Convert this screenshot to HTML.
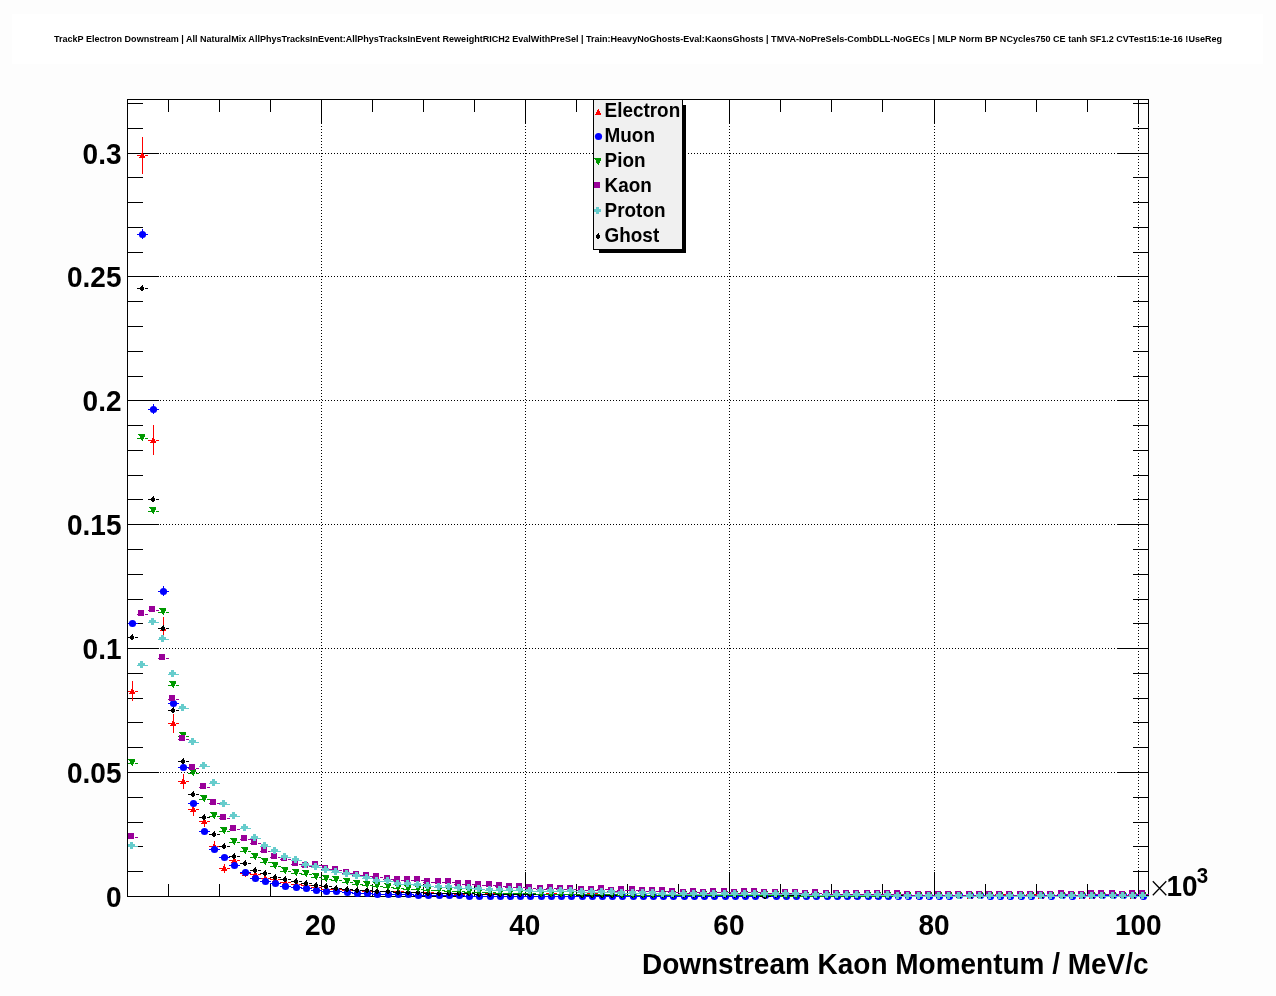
<!DOCTYPE html>
<html><head><meta charset="utf-8"><title>TrackP Electron Downstream</title>
<style>html,body{margin:0;padding:0;background:#fdfdfd;}svg{display:block;will-change:transform;}text{font-family:"Liberation Sans",sans-serif;}</style></head>
<body>
<svg width="1276" height="996" viewBox="0 0 1276 996" shape-rendering="crispEdges">
<rect x="0" y="0" width="1276" height="996" fill="#fdfdfd"/>
<rect x="12" y="14" width="1251" height="50" fill="#ffffff"/>
<rect x="127" y="99" width="1022" height="798" fill="#ffffff"/>
<path fill="#000" d="M321 126h1v1h-1zM321 129h1v1h-1zM321 132h1v1h-1zM321 135h1v1h-1zM321 138h1v1h-1zM321 141h1v1h-1zM321 144h1v1h-1zM321 147h1v1h-1zM321 150h1v1h-1zM321 153h1v1h-1zM321 156h1v1h-1zM321 159h1v1h-1zM321 162h1v1h-1zM321 165h1v1h-1zM321 168h1v1h-1zM321 171h1v1h-1zM321 174h1v1h-1zM321 177h1v1h-1zM321 180h1v1h-1zM321 183h1v1h-1zM321 186h1v1h-1zM321 189h1v1h-1zM321 192h1v1h-1zM321 195h1v1h-1zM321 198h1v1h-1zM321 201h1v1h-1zM321 204h1v1h-1zM321 207h1v1h-1zM321 210h1v1h-1zM321 213h1v1h-1zM321 216h1v1h-1zM321 219h1v1h-1zM321 222h1v1h-1zM321 225h1v1h-1zM321 228h1v1h-1zM321 231h1v1h-1zM321 234h1v1h-1zM321 237h1v1h-1zM321 240h1v1h-1zM321 243h1v1h-1zM321 246h1v1h-1zM321 249h1v1h-1zM321 252h1v1h-1zM321 255h1v1h-1zM321 258h1v1h-1zM321 261h1v1h-1zM321 264h1v1h-1zM321 267h1v1h-1zM321 270h1v1h-1zM321 273h1v1h-1zM321 276h1v1h-1zM321 279h1v1h-1zM321 282h1v1h-1zM321 285h1v1h-1zM321 288h1v1h-1zM321 291h1v1h-1zM321 294h1v1h-1zM321 297h1v1h-1zM321 300h1v1h-1zM321 303h1v1h-1zM321 306h1v1h-1zM321 309h1v1h-1zM321 312h1v1h-1zM321 315h1v1h-1zM321 318h1v1h-1zM321 321h1v1h-1zM321 324h1v1h-1zM321 327h1v1h-1zM321 330h1v1h-1zM321 333h1v1h-1zM321 336h1v1h-1zM321 339h1v1h-1zM321 342h1v1h-1zM321 345h1v1h-1zM321 348h1v1h-1zM321 351h1v1h-1zM321 354h1v1h-1zM321 357h1v1h-1zM321 360h1v1h-1zM321 363h1v1h-1zM321 366h1v1h-1zM321 369h1v1h-1zM321 372h1v1h-1zM321 375h1v1h-1zM321 378h1v1h-1zM321 381h1v1h-1zM321 384h1v1h-1zM321 387h1v1h-1zM321 390h1v1h-1zM321 393h1v1h-1zM321 396h1v1h-1zM321 399h1v1h-1zM321 402h1v1h-1zM321 405h1v1h-1zM321 408h1v1h-1zM321 411h1v1h-1zM321 414h1v1h-1zM321 417h1v1h-1zM321 420h1v1h-1zM321 423h1v1h-1zM321 426h1v1h-1zM321 429h1v1h-1zM321 432h1v1h-1zM321 435h1v1h-1zM321 438h1v1h-1zM321 441h1v1h-1zM321 444h1v1h-1zM321 447h1v1h-1zM321 450h1v1h-1zM321 453h1v1h-1zM321 456h1v1h-1zM321 459h1v1h-1zM321 462h1v1h-1zM321 465h1v1h-1zM321 468h1v1h-1zM321 471h1v1h-1zM321 474h1v1h-1zM321 477h1v1h-1zM321 480h1v1h-1zM321 483h1v1h-1zM321 486h1v1h-1zM321 489h1v1h-1zM321 492h1v1h-1zM321 495h1v1h-1zM321 498h1v1h-1zM321 501h1v1h-1zM321 504h1v1h-1zM321 507h1v1h-1zM321 510h1v1h-1zM321 513h1v1h-1zM321 516h1v1h-1zM321 519h1v1h-1zM321 522h1v1h-1zM321 525h1v1h-1zM321 528h1v1h-1zM321 531h1v1h-1zM321 534h1v1h-1zM321 537h1v1h-1zM321 540h1v1h-1zM321 543h1v1h-1zM321 546h1v1h-1zM321 549h1v1h-1zM321 552h1v1h-1zM321 555h1v1h-1zM321 558h1v1h-1zM321 561h1v1h-1zM321 564h1v1h-1zM321 567h1v1h-1zM321 570h1v1h-1zM321 573h1v1h-1zM321 576h1v1h-1zM321 579h1v1h-1zM321 582h1v1h-1zM321 585h1v1h-1zM321 588h1v1h-1zM321 591h1v1h-1zM321 594h1v1h-1zM321 597h1v1h-1zM321 600h1v1h-1zM321 603h1v1h-1zM321 606h1v1h-1zM321 609h1v1h-1zM321 612h1v1h-1zM321 615h1v1h-1zM321 618h1v1h-1zM321 621h1v1h-1zM321 624h1v1h-1zM321 627h1v1h-1zM321 630h1v1h-1zM321 633h1v1h-1zM321 636h1v1h-1zM321 639h1v1h-1zM321 642h1v1h-1zM321 645h1v1h-1zM321 648h1v1h-1zM321 651h1v1h-1zM321 654h1v1h-1zM321 657h1v1h-1zM321 660h1v1h-1zM321 663h1v1h-1zM321 666h1v1h-1zM321 669h1v1h-1zM321 672h1v1h-1zM321 675h1v1h-1zM321 678h1v1h-1zM321 681h1v1h-1zM321 684h1v1h-1zM321 687h1v1h-1zM321 690h1v1h-1zM321 693h1v1h-1zM321 696h1v1h-1zM321 699h1v1h-1zM321 702h1v1h-1zM321 705h1v1h-1zM321 708h1v1h-1zM321 711h1v1h-1zM321 714h1v1h-1zM321 717h1v1h-1zM321 720h1v1h-1zM321 723h1v1h-1zM321 726h1v1h-1zM321 729h1v1h-1zM321 732h1v1h-1zM321 735h1v1h-1zM321 738h1v1h-1zM321 741h1v1h-1zM321 744h1v1h-1zM321 747h1v1h-1zM321 750h1v1h-1zM321 753h1v1h-1zM321 756h1v1h-1zM321 759h1v1h-1zM321 762h1v1h-1zM321 765h1v1h-1zM321 768h1v1h-1zM321 771h1v1h-1zM321 774h1v1h-1zM321 777h1v1h-1zM321 780h1v1h-1zM321 783h1v1h-1zM321 786h1v1h-1zM321 789h1v1h-1zM321 792h1v1h-1zM321 795h1v1h-1zM321 798h1v1h-1zM321 801h1v1h-1zM321 804h1v1h-1zM321 807h1v1h-1zM321 810h1v1h-1zM321 813h1v1h-1zM321 816h1v1h-1zM321 819h1v1h-1zM321 822h1v1h-1zM321 825h1v1h-1zM321 828h1v1h-1zM321 831h1v1h-1zM321 834h1v1h-1zM321 837h1v1h-1zM321 840h1v1h-1zM321 843h1v1h-1zM321 846h1v1h-1zM321 849h1v1h-1zM321 852h1v1h-1zM321 855h1v1h-1zM321 858h1v1h-1zM321 861h1v1h-1zM321 864h1v1h-1zM321 867h1v1h-1zM321 870h1v1h-1zM525 126h1v1h-1zM525 129h1v1h-1zM525 132h1v1h-1zM525 135h1v1h-1zM525 138h1v1h-1zM525 141h1v1h-1zM525 144h1v1h-1zM525 147h1v1h-1zM525 150h1v1h-1zM525 153h1v1h-1zM525 156h1v1h-1zM525 159h1v1h-1zM525 162h1v1h-1zM525 165h1v1h-1zM525 168h1v1h-1zM525 171h1v1h-1zM525 174h1v1h-1zM525 177h1v1h-1zM525 180h1v1h-1zM525 183h1v1h-1zM525 186h1v1h-1zM525 189h1v1h-1zM525 192h1v1h-1zM525 195h1v1h-1zM525 198h1v1h-1zM525 201h1v1h-1zM525 204h1v1h-1zM525 207h1v1h-1zM525 210h1v1h-1zM525 213h1v1h-1zM525 216h1v1h-1zM525 219h1v1h-1zM525 222h1v1h-1zM525 225h1v1h-1zM525 228h1v1h-1zM525 231h1v1h-1zM525 234h1v1h-1zM525 237h1v1h-1zM525 240h1v1h-1zM525 243h1v1h-1zM525 246h1v1h-1zM525 249h1v1h-1zM525 252h1v1h-1zM525 255h1v1h-1zM525 258h1v1h-1zM525 261h1v1h-1zM525 264h1v1h-1zM525 267h1v1h-1zM525 270h1v1h-1zM525 273h1v1h-1zM525 276h1v1h-1zM525 279h1v1h-1zM525 282h1v1h-1zM525 285h1v1h-1zM525 288h1v1h-1zM525 291h1v1h-1zM525 294h1v1h-1zM525 297h1v1h-1zM525 300h1v1h-1zM525 303h1v1h-1zM525 306h1v1h-1zM525 309h1v1h-1zM525 312h1v1h-1zM525 315h1v1h-1zM525 318h1v1h-1zM525 321h1v1h-1zM525 324h1v1h-1zM525 327h1v1h-1zM525 330h1v1h-1zM525 333h1v1h-1zM525 336h1v1h-1zM525 339h1v1h-1zM525 342h1v1h-1zM525 345h1v1h-1zM525 348h1v1h-1zM525 351h1v1h-1zM525 354h1v1h-1zM525 357h1v1h-1zM525 360h1v1h-1zM525 363h1v1h-1zM525 366h1v1h-1zM525 369h1v1h-1zM525 372h1v1h-1zM525 375h1v1h-1zM525 378h1v1h-1zM525 381h1v1h-1zM525 384h1v1h-1zM525 387h1v1h-1zM525 390h1v1h-1zM525 393h1v1h-1zM525 396h1v1h-1zM525 399h1v1h-1zM525 402h1v1h-1zM525 405h1v1h-1zM525 408h1v1h-1zM525 411h1v1h-1zM525 414h1v1h-1zM525 417h1v1h-1zM525 420h1v1h-1zM525 423h1v1h-1zM525 426h1v1h-1zM525 429h1v1h-1zM525 432h1v1h-1zM525 435h1v1h-1zM525 438h1v1h-1zM525 441h1v1h-1zM525 444h1v1h-1zM525 447h1v1h-1zM525 450h1v1h-1zM525 453h1v1h-1zM525 456h1v1h-1zM525 459h1v1h-1zM525 462h1v1h-1zM525 465h1v1h-1zM525 468h1v1h-1zM525 471h1v1h-1zM525 474h1v1h-1zM525 477h1v1h-1zM525 480h1v1h-1zM525 483h1v1h-1zM525 486h1v1h-1zM525 489h1v1h-1zM525 492h1v1h-1zM525 495h1v1h-1zM525 498h1v1h-1zM525 501h1v1h-1zM525 504h1v1h-1zM525 507h1v1h-1zM525 510h1v1h-1zM525 513h1v1h-1zM525 516h1v1h-1zM525 519h1v1h-1zM525 522h1v1h-1zM525 525h1v1h-1zM525 528h1v1h-1zM525 531h1v1h-1zM525 534h1v1h-1zM525 537h1v1h-1zM525 540h1v1h-1zM525 543h1v1h-1zM525 546h1v1h-1zM525 549h1v1h-1zM525 552h1v1h-1zM525 555h1v1h-1zM525 558h1v1h-1zM525 561h1v1h-1zM525 564h1v1h-1zM525 567h1v1h-1zM525 570h1v1h-1zM525 573h1v1h-1zM525 576h1v1h-1zM525 579h1v1h-1zM525 582h1v1h-1zM525 585h1v1h-1zM525 588h1v1h-1zM525 591h1v1h-1zM525 594h1v1h-1zM525 597h1v1h-1zM525 600h1v1h-1zM525 603h1v1h-1zM525 606h1v1h-1zM525 609h1v1h-1zM525 612h1v1h-1zM525 615h1v1h-1zM525 618h1v1h-1zM525 621h1v1h-1zM525 624h1v1h-1zM525 627h1v1h-1zM525 630h1v1h-1zM525 633h1v1h-1zM525 636h1v1h-1zM525 639h1v1h-1zM525 642h1v1h-1zM525 645h1v1h-1zM525 648h1v1h-1zM525 651h1v1h-1zM525 654h1v1h-1zM525 657h1v1h-1zM525 660h1v1h-1zM525 663h1v1h-1zM525 666h1v1h-1zM525 669h1v1h-1zM525 672h1v1h-1zM525 675h1v1h-1zM525 678h1v1h-1zM525 681h1v1h-1zM525 684h1v1h-1zM525 687h1v1h-1zM525 690h1v1h-1zM525 693h1v1h-1zM525 696h1v1h-1zM525 699h1v1h-1zM525 702h1v1h-1zM525 705h1v1h-1zM525 708h1v1h-1zM525 711h1v1h-1zM525 714h1v1h-1zM525 717h1v1h-1zM525 720h1v1h-1zM525 723h1v1h-1zM525 726h1v1h-1zM525 729h1v1h-1zM525 732h1v1h-1zM525 735h1v1h-1zM525 738h1v1h-1zM525 741h1v1h-1zM525 744h1v1h-1zM525 747h1v1h-1zM525 750h1v1h-1zM525 753h1v1h-1zM525 756h1v1h-1zM525 759h1v1h-1zM525 762h1v1h-1zM525 765h1v1h-1zM525 768h1v1h-1zM525 771h1v1h-1zM525 774h1v1h-1zM525 777h1v1h-1zM525 780h1v1h-1zM525 783h1v1h-1zM525 786h1v1h-1zM525 789h1v1h-1zM525 792h1v1h-1zM525 795h1v1h-1zM525 798h1v1h-1zM525 801h1v1h-1zM525 804h1v1h-1zM525 807h1v1h-1zM525 810h1v1h-1zM525 813h1v1h-1zM525 816h1v1h-1zM525 819h1v1h-1zM525 822h1v1h-1zM525 825h1v1h-1zM525 828h1v1h-1zM525 831h1v1h-1zM525 834h1v1h-1zM525 837h1v1h-1zM525 840h1v1h-1zM525 843h1v1h-1zM525 846h1v1h-1zM525 849h1v1h-1zM525 852h1v1h-1zM525 855h1v1h-1zM525 858h1v1h-1zM525 861h1v1h-1zM525 864h1v1h-1zM525 867h1v1h-1zM525 870h1v1h-1zM729 126h1v1h-1zM729 129h1v1h-1zM729 132h1v1h-1zM729 135h1v1h-1zM729 138h1v1h-1zM729 141h1v1h-1zM729 144h1v1h-1zM729 147h1v1h-1zM729 150h1v1h-1zM729 153h1v1h-1zM729 156h1v1h-1zM729 159h1v1h-1zM729 162h1v1h-1zM729 165h1v1h-1zM729 168h1v1h-1zM729 171h1v1h-1zM729 174h1v1h-1zM729 177h1v1h-1zM729 180h1v1h-1zM729 183h1v1h-1zM729 186h1v1h-1zM729 189h1v1h-1zM729 192h1v1h-1zM729 195h1v1h-1zM729 198h1v1h-1zM729 201h1v1h-1zM729 204h1v1h-1zM729 207h1v1h-1zM729 210h1v1h-1zM729 213h1v1h-1zM729 216h1v1h-1zM729 219h1v1h-1zM729 222h1v1h-1zM729 225h1v1h-1zM729 228h1v1h-1zM729 231h1v1h-1zM729 234h1v1h-1zM729 237h1v1h-1zM729 240h1v1h-1zM729 243h1v1h-1zM729 246h1v1h-1zM729 249h1v1h-1zM729 252h1v1h-1zM729 255h1v1h-1zM729 258h1v1h-1zM729 261h1v1h-1zM729 264h1v1h-1zM729 267h1v1h-1zM729 270h1v1h-1zM729 273h1v1h-1zM729 276h1v1h-1zM729 279h1v1h-1zM729 282h1v1h-1zM729 285h1v1h-1zM729 288h1v1h-1zM729 291h1v1h-1zM729 294h1v1h-1zM729 297h1v1h-1zM729 300h1v1h-1zM729 303h1v1h-1zM729 306h1v1h-1zM729 309h1v1h-1zM729 312h1v1h-1zM729 315h1v1h-1zM729 318h1v1h-1zM729 321h1v1h-1zM729 324h1v1h-1zM729 327h1v1h-1zM729 330h1v1h-1zM729 333h1v1h-1zM729 336h1v1h-1zM729 339h1v1h-1zM729 342h1v1h-1zM729 345h1v1h-1zM729 348h1v1h-1zM729 351h1v1h-1zM729 354h1v1h-1zM729 357h1v1h-1zM729 360h1v1h-1zM729 363h1v1h-1zM729 366h1v1h-1zM729 369h1v1h-1zM729 372h1v1h-1zM729 375h1v1h-1zM729 378h1v1h-1zM729 381h1v1h-1zM729 384h1v1h-1zM729 387h1v1h-1zM729 390h1v1h-1zM729 393h1v1h-1zM729 396h1v1h-1zM729 399h1v1h-1zM729 402h1v1h-1zM729 405h1v1h-1zM729 408h1v1h-1zM729 411h1v1h-1zM729 414h1v1h-1zM729 417h1v1h-1zM729 420h1v1h-1zM729 423h1v1h-1zM729 426h1v1h-1zM729 429h1v1h-1zM729 432h1v1h-1zM729 435h1v1h-1zM729 438h1v1h-1zM729 441h1v1h-1zM729 444h1v1h-1zM729 447h1v1h-1zM729 450h1v1h-1zM729 453h1v1h-1zM729 456h1v1h-1zM729 459h1v1h-1zM729 462h1v1h-1zM729 465h1v1h-1zM729 468h1v1h-1zM729 471h1v1h-1zM729 474h1v1h-1zM729 477h1v1h-1zM729 480h1v1h-1zM729 483h1v1h-1zM729 486h1v1h-1zM729 489h1v1h-1zM729 492h1v1h-1zM729 495h1v1h-1zM729 498h1v1h-1zM729 501h1v1h-1zM729 504h1v1h-1zM729 507h1v1h-1zM729 510h1v1h-1zM729 513h1v1h-1zM729 516h1v1h-1zM729 519h1v1h-1zM729 522h1v1h-1zM729 525h1v1h-1zM729 528h1v1h-1zM729 531h1v1h-1zM729 534h1v1h-1zM729 537h1v1h-1zM729 540h1v1h-1zM729 543h1v1h-1zM729 546h1v1h-1zM729 549h1v1h-1zM729 552h1v1h-1zM729 555h1v1h-1zM729 558h1v1h-1zM729 561h1v1h-1zM729 564h1v1h-1zM729 567h1v1h-1zM729 570h1v1h-1zM729 573h1v1h-1zM729 576h1v1h-1zM729 579h1v1h-1zM729 582h1v1h-1zM729 585h1v1h-1zM729 588h1v1h-1zM729 591h1v1h-1zM729 594h1v1h-1zM729 597h1v1h-1zM729 600h1v1h-1zM729 603h1v1h-1zM729 606h1v1h-1zM729 609h1v1h-1zM729 612h1v1h-1zM729 615h1v1h-1zM729 618h1v1h-1zM729 621h1v1h-1zM729 624h1v1h-1zM729 627h1v1h-1zM729 630h1v1h-1zM729 633h1v1h-1zM729 636h1v1h-1zM729 639h1v1h-1zM729 642h1v1h-1zM729 645h1v1h-1zM729 648h1v1h-1zM729 651h1v1h-1zM729 654h1v1h-1zM729 657h1v1h-1zM729 660h1v1h-1zM729 663h1v1h-1zM729 666h1v1h-1zM729 669h1v1h-1zM729 672h1v1h-1zM729 675h1v1h-1zM729 678h1v1h-1zM729 681h1v1h-1zM729 684h1v1h-1zM729 687h1v1h-1zM729 690h1v1h-1zM729 693h1v1h-1zM729 696h1v1h-1zM729 699h1v1h-1zM729 702h1v1h-1zM729 705h1v1h-1zM729 708h1v1h-1zM729 711h1v1h-1zM729 714h1v1h-1zM729 717h1v1h-1zM729 720h1v1h-1zM729 723h1v1h-1zM729 726h1v1h-1zM729 729h1v1h-1zM729 732h1v1h-1zM729 735h1v1h-1zM729 738h1v1h-1zM729 741h1v1h-1zM729 744h1v1h-1zM729 747h1v1h-1zM729 750h1v1h-1zM729 753h1v1h-1zM729 756h1v1h-1zM729 759h1v1h-1zM729 762h1v1h-1zM729 765h1v1h-1zM729 768h1v1h-1zM729 771h1v1h-1zM729 774h1v1h-1zM729 777h1v1h-1zM729 780h1v1h-1zM729 783h1v1h-1zM729 786h1v1h-1zM729 789h1v1h-1zM729 792h1v1h-1zM729 795h1v1h-1zM729 798h1v1h-1zM729 801h1v1h-1zM729 804h1v1h-1zM729 807h1v1h-1zM729 810h1v1h-1zM729 813h1v1h-1zM729 816h1v1h-1zM729 819h1v1h-1zM729 822h1v1h-1zM729 825h1v1h-1zM729 828h1v1h-1zM729 831h1v1h-1zM729 834h1v1h-1zM729 837h1v1h-1zM729 840h1v1h-1zM729 843h1v1h-1zM729 846h1v1h-1zM729 849h1v1h-1zM729 852h1v1h-1zM729 855h1v1h-1zM729 858h1v1h-1zM729 861h1v1h-1zM729 864h1v1h-1zM729 867h1v1h-1zM729 870h1v1h-1zM934 126h1v1h-1zM934 129h1v1h-1zM934 132h1v1h-1zM934 135h1v1h-1zM934 138h1v1h-1zM934 141h1v1h-1zM934 144h1v1h-1zM934 147h1v1h-1zM934 150h1v1h-1zM934 153h1v1h-1zM934 156h1v1h-1zM934 159h1v1h-1zM934 162h1v1h-1zM934 165h1v1h-1zM934 168h1v1h-1zM934 171h1v1h-1zM934 174h1v1h-1zM934 177h1v1h-1zM934 180h1v1h-1zM934 183h1v1h-1zM934 186h1v1h-1zM934 189h1v1h-1zM934 192h1v1h-1zM934 195h1v1h-1zM934 198h1v1h-1zM934 201h1v1h-1zM934 204h1v1h-1zM934 207h1v1h-1zM934 210h1v1h-1zM934 213h1v1h-1zM934 216h1v1h-1zM934 219h1v1h-1zM934 222h1v1h-1zM934 225h1v1h-1zM934 228h1v1h-1zM934 231h1v1h-1zM934 234h1v1h-1zM934 237h1v1h-1zM934 240h1v1h-1zM934 243h1v1h-1zM934 246h1v1h-1zM934 249h1v1h-1zM934 252h1v1h-1zM934 255h1v1h-1zM934 258h1v1h-1zM934 261h1v1h-1zM934 264h1v1h-1zM934 267h1v1h-1zM934 270h1v1h-1zM934 273h1v1h-1zM934 276h1v1h-1zM934 279h1v1h-1zM934 282h1v1h-1zM934 285h1v1h-1zM934 288h1v1h-1zM934 291h1v1h-1zM934 294h1v1h-1zM934 297h1v1h-1zM934 300h1v1h-1zM934 303h1v1h-1zM934 306h1v1h-1zM934 309h1v1h-1zM934 312h1v1h-1zM934 315h1v1h-1zM934 318h1v1h-1zM934 321h1v1h-1zM934 324h1v1h-1zM934 327h1v1h-1zM934 330h1v1h-1zM934 333h1v1h-1zM934 336h1v1h-1zM934 339h1v1h-1zM934 342h1v1h-1zM934 345h1v1h-1zM934 348h1v1h-1zM934 351h1v1h-1zM934 354h1v1h-1zM934 357h1v1h-1zM934 360h1v1h-1zM934 363h1v1h-1zM934 366h1v1h-1zM934 369h1v1h-1zM934 372h1v1h-1zM934 375h1v1h-1zM934 378h1v1h-1zM934 381h1v1h-1zM934 384h1v1h-1zM934 387h1v1h-1zM934 390h1v1h-1zM934 393h1v1h-1zM934 396h1v1h-1zM934 399h1v1h-1zM934 402h1v1h-1zM934 405h1v1h-1zM934 408h1v1h-1zM934 411h1v1h-1zM934 414h1v1h-1zM934 417h1v1h-1zM934 420h1v1h-1zM934 423h1v1h-1zM934 426h1v1h-1zM934 429h1v1h-1zM934 432h1v1h-1zM934 435h1v1h-1zM934 438h1v1h-1zM934 441h1v1h-1zM934 444h1v1h-1zM934 447h1v1h-1zM934 450h1v1h-1zM934 453h1v1h-1zM934 456h1v1h-1zM934 459h1v1h-1zM934 462h1v1h-1zM934 465h1v1h-1zM934 468h1v1h-1zM934 471h1v1h-1zM934 474h1v1h-1zM934 477h1v1h-1zM934 480h1v1h-1zM934 483h1v1h-1zM934 486h1v1h-1zM934 489h1v1h-1zM934 492h1v1h-1zM934 495h1v1h-1zM934 498h1v1h-1zM934 501h1v1h-1zM934 504h1v1h-1zM934 507h1v1h-1zM934 510h1v1h-1zM934 513h1v1h-1zM934 516h1v1h-1zM934 519h1v1h-1zM934 522h1v1h-1zM934 525h1v1h-1zM934 528h1v1h-1zM934 531h1v1h-1zM934 534h1v1h-1zM934 537h1v1h-1zM934 540h1v1h-1zM934 543h1v1h-1zM934 546h1v1h-1zM934 549h1v1h-1zM934 552h1v1h-1zM934 555h1v1h-1zM934 558h1v1h-1zM934 561h1v1h-1zM934 564h1v1h-1zM934 567h1v1h-1zM934 570h1v1h-1zM934 573h1v1h-1zM934 576h1v1h-1zM934 579h1v1h-1zM934 582h1v1h-1zM934 585h1v1h-1zM934 588h1v1h-1zM934 591h1v1h-1zM934 594h1v1h-1zM934 597h1v1h-1zM934 600h1v1h-1zM934 603h1v1h-1zM934 606h1v1h-1zM934 609h1v1h-1zM934 612h1v1h-1zM934 615h1v1h-1zM934 618h1v1h-1zM934 621h1v1h-1zM934 624h1v1h-1zM934 627h1v1h-1zM934 630h1v1h-1zM934 633h1v1h-1zM934 636h1v1h-1zM934 639h1v1h-1zM934 642h1v1h-1zM934 645h1v1h-1zM934 648h1v1h-1zM934 651h1v1h-1zM934 654h1v1h-1zM934 657h1v1h-1zM934 660h1v1h-1zM934 663h1v1h-1zM934 666h1v1h-1zM934 669h1v1h-1zM934 672h1v1h-1zM934 675h1v1h-1zM934 678h1v1h-1zM934 681h1v1h-1zM934 684h1v1h-1zM934 687h1v1h-1zM934 690h1v1h-1zM934 693h1v1h-1zM934 696h1v1h-1zM934 699h1v1h-1zM934 702h1v1h-1zM934 705h1v1h-1zM934 708h1v1h-1zM934 711h1v1h-1zM934 714h1v1h-1zM934 717h1v1h-1zM934 720h1v1h-1zM934 723h1v1h-1zM934 726h1v1h-1zM934 729h1v1h-1zM934 732h1v1h-1zM934 735h1v1h-1zM934 738h1v1h-1zM934 741h1v1h-1zM934 744h1v1h-1zM934 747h1v1h-1zM934 750h1v1h-1zM934 753h1v1h-1zM934 756h1v1h-1zM934 759h1v1h-1zM934 762h1v1h-1zM934 765h1v1h-1zM934 768h1v1h-1zM934 771h1v1h-1zM934 774h1v1h-1zM934 777h1v1h-1zM934 780h1v1h-1zM934 783h1v1h-1zM934 786h1v1h-1zM934 789h1v1h-1zM934 792h1v1h-1zM934 795h1v1h-1zM934 798h1v1h-1zM934 801h1v1h-1zM934 804h1v1h-1zM934 807h1v1h-1zM934 810h1v1h-1zM934 813h1v1h-1zM934 816h1v1h-1zM934 819h1v1h-1zM934 822h1v1h-1zM934 825h1v1h-1zM934 828h1v1h-1zM934 831h1v1h-1zM934 834h1v1h-1zM934 837h1v1h-1zM934 840h1v1h-1zM934 843h1v1h-1zM934 846h1v1h-1zM934 849h1v1h-1zM934 852h1v1h-1zM934 855h1v1h-1zM934 858h1v1h-1zM934 861h1v1h-1zM934 864h1v1h-1zM934 867h1v1h-1zM934 870h1v1h-1zM1138 126h1v1h-1zM1138 129h1v1h-1zM1138 132h1v1h-1zM1138 135h1v1h-1zM1138 138h1v1h-1zM1138 141h1v1h-1zM1138 144h1v1h-1zM1138 147h1v1h-1zM1138 150h1v1h-1zM1138 153h1v1h-1zM1138 156h1v1h-1zM1138 159h1v1h-1zM1138 162h1v1h-1zM1138 165h1v1h-1zM1138 168h1v1h-1zM1138 171h1v1h-1zM1138 174h1v1h-1zM1138 177h1v1h-1zM1138 180h1v1h-1zM1138 183h1v1h-1zM1138 186h1v1h-1zM1138 189h1v1h-1zM1138 192h1v1h-1zM1138 195h1v1h-1zM1138 198h1v1h-1zM1138 201h1v1h-1zM1138 204h1v1h-1zM1138 207h1v1h-1zM1138 210h1v1h-1zM1138 213h1v1h-1zM1138 216h1v1h-1zM1138 219h1v1h-1zM1138 222h1v1h-1zM1138 225h1v1h-1zM1138 228h1v1h-1zM1138 231h1v1h-1zM1138 234h1v1h-1zM1138 237h1v1h-1zM1138 240h1v1h-1zM1138 243h1v1h-1zM1138 246h1v1h-1zM1138 249h1v1h-1zM1138 252h1v1h-1zM1138 255h1v1h-1zM1138 258h1v1h-1zM1138 261h1v1h-1zM1138 264h1v1h-1zM1138 267h1v1h-1zM1138 270h1v1h-1zM1138 273h1v1h-1zM1138 276h1v1h-1zM1138 279h1v1h-1zM1138 282h1v1h-1zM1138 285h1v1h-1zM1138 288h1v1h-1zM1138 291h1v1h-1zM1138 294h1v1h-1zM1138 297h1v1h-1zM1138 300h1v1h-1zM1138 303h1v1h-1zM1138 306h1v1h-1zM1138 309h1v1h-1zM1138 312h1v1h-1zM1138 315h1v1h-1zM1138 318h1v1h-1zM1138 321h1v1h-1zM1138 324h1v1h-1zM1138 327h1v1h-1zM1138 330h1v1h-1zM1138 333h1v1h-1zM1138 336h1v1h-1zM1138 339h1v1h-1zM1138 342h1v1h-1zM1138 345h1v1h-1zM1138 348h1v1h-1zM1138 351h1v1h-1zM1138 354h1v1h-1zM1138 357h1v1h-1zM1138 360h1v1h-1zM1138 363h1v1h-1zM1138 366h1v1h-1zM1138 369h1v1h-1zM1138 372h1v1h-1zM1138 375h1v1h-1zM1138 378h1v1h-1zM1138 381h1v1h-1zM1138 384h1v1h-1zM1138 387h1v1h-1zM1138 390h1v1h-1zM1138 393h1v1h-1zM1138 396h1v1h-1zM1138 399h1v1h-1zM1138 402h1v1h-1zM1138 405h1v1h-1zM1138 408h1v1h-1zM1138 411h1v1h-1zM1138 414h1v1h-1zM1138 417h1v1h-1zM1138 420h1v1h-1zM1138 423h1v1h-1zM1138 426h1v1h-1zM1138 429h1v1h-1zM1138 432h1v1h-1zM1138 435h1v1h-1zM1138 438h1v1h-1zM1138 441h1v1h-1zM1138 444h1v1h-1zM1138 447h1v1h-1zM1138 450h1v1h-1zM1138 453h1v1h-1zM1138 456h1v1h-1zM1138 459h1v1h-1zM1138 462h1v1h-1zM1138 465h1v1h-1zM1138 468h1v1h-1zM1138 471h1v1h-1zM1138 474h1v1h-1zM1138 477h1v1h-1zM1138 480h1v1h-1zM1138 483h1v1h-1zM1138 486h1v1h-1zM1138 489h1v1h-1zM1138 492h1v1h-1zM1138 495h1v1h-1zM1138 498h1v1h-1zM1138 501h1v1h-1zM1138 504h1v1h-1zM1138 507h1v1h-1zM1138 510h1v1h-1zM1138 513h1v1h-1zM1138 516h1v1h-1zM1138 519h1v1h-1zM1138 522h1v1h-1zM1138 525h1v1h-1zM1138 528h1v1h-1zM1138 531h1v1h-1zM1138 534h1v1h-1zM1138 537h1v1h-1zM1138 540h1v1h-1zM1138 543h1v1h-1zM1138 546h1v1h-1zM1138 549h1v1h-1zM1138 552h1v1h-1zM1138 555h1v1h-1zM1138 558h1v1h-1zM1138 561h1v1h-1zM1138 564h1v1h-1zM1138 567h1v1h-1zM1138 570h1v1h-1zM1138 573h1v1h-1zM1138 576h1v1h-1zM1138 579h1v1h-1zM1138 582h1v1h-1zM1138 585h1v1h-1zM1138 588h1v1h-1zM1138 591h1v1h-1zM1138 594h1v1h-1zM1138 597h1v1h-1zM1138 600h1v1h-1zM1138 603h1v1h-1zM1138 606h1v1h-1zM1138 609h1v1h-1zM1138 612h1v1h-1zM1138 615h1v1h-1zM1138 618h1v1h-1zM1138 621h1v1h-1zM1138 624h1v1h-1zM1138 627h1v1h-1zM1138 630h1v1h-1zM1138 633h1v1h-1zM1138 636h1v1h-1zM1138 639h1v1h-1zM1138 642h1v1h-1zM1138 645h1v1h-1zM1138 648h1v1h-1zM1138 651h1v1h-1zM1138 654h1v1h-1zM1138 657h1v1h-1zM1138 660h1v1h-1zM1138 663h1v1h-1zM1138 666h1v1h-1zM1138 669h1v1h-1zM1138 672h1v1h-1zM1138 675h1v1h-1zM1138 678h1v1h-1zM1138 681h1v1h-1zM1138 684h1v1h-1zM1138 687h1v1h-1zM1138 690h1v1h-1zM1138 693h1v1h-1zM1138 696h1v1h-1zM1138 699h1v1h-1zM1138 702h1v1h-1zM1138 705h1v1h-1zM1138 708h1v1h-1zM1138 711h1v1h-1zM1138 714h1v1h-1zM1138 717h1v1h-1zM1138 720h1v1h-1zM1138 723h1v1h-1zM1138 726h1v1h-1zM1138 729h1v1h-1zM1138 732h1v1h-1zM1138 735h1v1h-1zM1138 738h1v1h-1zM1138 741h1v1h-1zM1138 744h1v1h-1zM1138 747h1v1h-1zM1138 750h1v1h-1zM1138 753h1v1h-1zM1138 756h1v1h-1zM1138 759h1v1h-1zM1138 762h1v1h-1zM1138 765h1v1h-1zM1138 768h1v1h-1zM1138 771h1v1h-1zM1138 774h1v1h-1zM1138 777h1v1h-1zM1138 780h1v1h-1zM1138 783h1v1h-1zM1138 786h1v1h-1zM1138 789h1v1h-1zM1138 792h1v1h-1zM1138 795h1v1h-1zM1138 798h1v1h-1zM1138 801h1v1h-1zM1138 804h1v1h-1zM1138 807h1v1h-1zM1138 810h1v1h-1zM1138 813h1v1h-1zM1138 816h1v1h-1zM1138 819h1v1h-1zM1138 822h1v1h-1zM1138 825h1v1h-1zM1138 828h1v1h-1zM1138 831h1v1h-1zM1138 834h1v1h-1zM1138 837h1v1h-1zM1138 840h1v1h-1zM1138 843h1v1h-1zM1138 846h1v1h-1zM1138 849h1v1h-1zM1138 852h1v1h-1zM1138 855h1v1h-1zM1138 858h1v1h-1zM1138 861h1v1h-1zM1138 864h1v1h-1zM1138 867h1v1h-1zM1138 870h1v1h-1zM160 772h1v1h-1zM163 772h1v1h-1zM166 772h1v1h-1zM169 772h1v1h-1zM172 772h1v1h-1zM175 772h1v1h-1zM178 772h1v1h-1zM181 772h1v1h-1zM184 772h1v1h-1zM187 772h1v1h-1zM190 772h1v1h-1zM193 772h1v1h-1zM196 772h1v1h-1zM199 772h1v1h-1zM202 772h1v1h-1zM205 772h1v1h-1zM208 772h1v1h-1zM211 772h1v1h-1zM214 772h1v1h-1zM217 772h1v1h-1zM220 772h1v1h-1zM223 772h1v1h-1zM226 772h1v1h-1zM229 772h1v1h-1zM232 772h1v1h-1zM235 772h1v1h-1zM238 772h1v1h-1zM241 772h1v1h-1zM244 772h1v1h-1zM247 772h1v1h-1zM250 772h1v1h-1zM253 772h1v1h-1zM256 772h1v1h-1zM259 772h1v1h-1zM262 772h1v1h-1zM265 772h1v1h-1zM268 772h1v1h-1zM271 772h1v1h-1zM274 772h1v1h-1zM277 772h1v1h-1zM280 772h1v1h-1zM283 772h1v1h-1zM286 772h1v1h-1zM289 772h1v1h-1zM292 772h1v1h-1zM295 772h1v1h-1zM298 772h1v1h-1zM301 772h1v1h-1zM304 772h1v1h-1zM307 772h1v1h-1zM310 772h1v1h-1zM313 772h1v1h-1zM316 772h1v1h-1zM319 772h1v1h-1zM322 772h1v1h-1zM325 772h1v1h-1zM328 772h1v1h-1zM331 772h1v1h-1zM334 772h1v1h-1zM337 772h1v1h-1zM340 772h1v1h-1zM343 772h1v1h-1zM346 772h1v1h-1zM349 772h1v1h-1zM352 772h1v1h-1zM355 772h1v1h-1zM358 772h1v1h-1zM361 772h1v1h-1zM364 772h1v1h-1zM367 772h1v1h-1zM370 772h1v1h-1zM373 772h1v1h-1zM376 772h1v1h-1zM379 772h1v1h-1zM382 772h1v1h-1zM385 772h1v1h-1zM388 772h1v1h-1zM391 772h1v1h-1zM394 772h1v1h-1zM397 772h1v1h-1zM400 772h1v1h-1zM403 772h1v1h-1zM406 772h1v1h-1zM409 772h1v1h-1zM412 772h1v1h-1zM415 772h1v1h-1zM418 772h1v1h-1zM421 772h1v1h-1zM424 772h1v1h-1zM427 772h1v1h-1zM430 772h1v1h-1zM433 772h1v1h-1zM436 772h1v1h-1zM439 772h1v1h-1zM442 772h1v1h-1zM445 772h1v1h-1zM448 772h1v1h-1zM451 772h1v1h-1zM454 772h1v1h-1zM457 772h1v1h-1zM460 772h1v1h-1zM463 772h1v1h-1zM466 772h1v1h-1zM469 772h1v1h-1zM472 772h1v1h-1zM475 772h1v1h-1zM478 772h1v1h-1zM481 772h1v1h-1zM484 772h1v1h-1zM487 772h1v1h-1zM490 772h1v1h-1zM493 772h1v1h-1zM496 772h1v1h-1zM499 772h1v1h-1zM502 772h1v1h-1zM505 772h1v1h-1zM508 772h1v1h-1zM511 772h1v1h-1zM514 772h1v1h-1zM517 772h1v1h-1zM520 772h1v1h-1zM523 772h1v1h-1zM526 772h1v1h-1zM529 772h1v1h-1zM532 772h1v1h-1zM535 772h1v1h-1zM538 772h1v1h-1zM541 772h1v1h-1zM544 772h1v1h-1zM547 772h1v1h-1zM550 772h1v1h-1zM553 772h1v1h-1zM556 772h1v1h-1zM559 772h1v1h-1zM562 772h1v1h-1zM565 772h1v1h-1zM568 772h1v1h-1zM571 772h1v1h-1zM574 772h1v1h-1zM577 772h1v1h-1zM580 772h1v1h-1zM583 772h1v1h-1zM586 772h1v1h-1zM589 772h1v1h-1zM592 772h1v1h-1zM595 772h1v1h-1zM598 772h1v1h-1zM601 772h1v1h-1zM604 772h1v1h-1zM607 772h1v1h-1zM610 772h1v1h-1zM613 772h1v1h-1zM616 772h1v1h-1zM619 772h1v1h-1zM622 772h1v1h-1zM625 772h1v1h-1zM628 772h1v1h-1zM631 772h1v1h-1zM634 772h1v1h-1zM637 772h1v1h-1zM640 772h1v1h-1zM643 772h1v1h-1zM646 772h1v1h-1zM649 772h1v1h-1zM652 772h1v1h-1zM655 772h1v1h-1zM658 772h1v1h-1zM661 772h1v1h-1zM664 772h1v1h-1zM667 772h1v1h-1zM670 772h1v1h-1zM673 772h1v1h-1zM676 772h1v1h-1zM679 772h1v1h-1zM682 772h1v1h-1zM685 772h1v1h-1zM688 772h1v1h-1zM691 772h1v1h-1zM694 772h1v1h-1zM697 772h1v1h-1zM700 772h1v1h-1zM703 772h1v1h-1zM706 772h1v1h-1zM709 772h1v1h-1zM712 772h1v1h-1zM715 772h1v1h-1zM718 772h1v1h-1zM721 772h1v1h-1zM724 772h1v1h-1zM727 772h1v1h-1zM730 772h1v1h-1zM733 772h1v1h-1zM736 772h1v1h-1zM739 772h1v1h-1zM742 772h1v1h-1zM745 772h1v1h-1zM748 772h1v1h-1zM751 772h1v1h-1zM754 772h1v1h-1zM757 772h1v1h-1zM760 772h1v1h-1zM763 772h1v1h-1zM766 772h1v1h-1zM769 772h1v1h-1zM772 772h1v1h-1zM775 772h1v1h-1zM778 772h1v1h-1zM781 772h1v1h-1zM784 772h1v1h-1zM787 772h1v1h-1zM790 772h1v1h-1zM793 772h1v1h-1zM796 772h1v1h-1zM799 772h1v1h-1zM802 772h1v1h-1zM805 772h1v1h-1zM808 772h1v1h-1zM811 772h1v1h-1zM814 772h1v1h-1zM817 772h1v1h-1zM820 772h1v1h-1zM823 772h1v1h-1zM826 772h1v1h-1zM829 772h1v1h-1zM832 772h1v1h-1zM835 772h1v1h-1zM838 772h1v1h-1zM841 772h1v1h-1zM844 772h1v1h-1zM847 772h1v1h-1zM850 772h1v1h-1zM853 772h1v1h-1zM856 772h1v1h-1zM859 772h1v1h-1zM862 772h1v1h-1zM865 772h1v1h-1zM868 772h1v1h-1zM871 772h1v1h-1zM874 772h1v1h-1zM877 772h1v1h-1zM880 772h1v1h-1zM883 772h1v1h-1zM886 772h1v1h-1zM889 772h1v1h-1zM892 772h1v1h-1zM895 772h1v1h-1zM898 772h1v1h-1zM901 772h1v1h-1zM904 772h1v1h-1zM907 772h1v1h-1zM910 772h1v1h-1zM913 772h1v1h-1zM916 772h1v1h-1zM919 772h1v1h-1zM922 772h1v1h-1zM925 772h1v1h-1zM928 772h1v1h-1zM931 772h1v1h-1zM934 772h1v1h-1zM937 772h1v1h-1zM940 772h1v1h-1zM943 772h1v1h-1zM946 772h1v1h-1zM949 772h1v1h-1zM952 772h1v1h-1zM955 772h1v1h-1zM958 772h1v1h-1zM961 772h1v1h-1zM964 772h1v1h-1zM967 772h1v1h-1zM970 772h1v1h-1zM973 772h1v1h-1zM976 772h1v1h-1zM979 772h1v1h-1zM982 772h1v1h-1zM985 772h1v1h-1zM988 772h1v1h-1zM991 772h1v1h-1zM994 772h1v1h-1zM997 772h1v1h-1zM1000 772h1v1h-1zM1003 772h1v1h-1zM1006 772h1v1h-1zM1009 772h1v1h-1zM1012 772h1v1h-1zM1015 772h1v1h-1zM1018 772h1v1h-1zM1021 772h1v1h-1zM1024 772h1v1h-1zM1027 772h1v1h-1zM1030 772h1v1h-1zM1033 772h1v1h-1zM1036 772h1v1h-1zM1039 772h1v1h-1zM1042 772h1v1h-1zM1045 772h1v1h-1zM1048 772h1v1h-1zM1051 772h1v1h-1zM1054 772h1v1h-1zM1057 772h1v1h-1zM1060 772h1v1h-1zM1063 772h1v1h-1zM1066 772h1v1h-1zM1069 772h1v1h-1zM1072 772h1v1h-1zM1075 772h1v1h-1zM1078 772h1v1h-1zM1081 772h1v1h-1zM1084 772h1v1h-1zM1087 772h1v1h-1zM1090 772h1v1h-1zM1093 772h1v1h-1zM1096 772h1v1h-1zM1099 772h1v1h-1zM1102 772h1v1h-1zM1105 772h1v1h-1zM1108 772h1v1h-1zM1111 772h1v1h-1zM1114 772h1v1h-1zM160 648h1v1h-1zM163 648h1v1h-1zM166 648h1v1h-1zM169 648h1v1h-1zM172 648h1v1h-1zM175 648h1v1h-1zM178 648h1v1h-1zM181 648h1v1h-1zM184 648h1v1h-1zM187 648h1v1h-1zM190 648h1v1h-1zM193 648h1v1h-1zM196 648h1v1h-1zM199 648h1v1h-1zM202 648h1v1h-1zM205 648h1v1h-1zM208 648h1v1h-1zM211 648h1v1h-1zM214 648h1v1h-1zM217 648h1v1h-1zM220 648h1v1h-1zM223 648h1v1h-1zM226 648h1v1h-1zM229 648h1v1h-1zM232 648h1v1h-1zM235 648h1v1h-1zM238 648h1v1h-1zM241 648h1v1h-1zM244 648h1v1h-1zM247 648h1v1h-1zM250 648h1v1h-1zM253 648h1v1h-1zM256 648h1v1h-1zM259 648h1v1h-1zM262 648h1v1h-1zM265 648h1v1h-1zM268 648h1v1h-1zM271 648h1v1h-1zM274 648h1v1h-1zM277 648h1v1h-1zM280 648h1v1h-1zM283 648h1v1h-1zM286 648h1v1h-1zM289 648h1v1h-1zM292 648h1v1h-1zM295 648h1v1h-1zM298 648h1v1h-1zM301 648h1v1h-1zM304 648h1v1h-1zM307 648h1v1h-1zM310 648h1v1h-1zM313 648h1v1h-1zM316 648h1v1h-1zM319 648h1v1h-1zM322 648h1v1h-1zM325 648h1v1h-1zM328 648h1v1h-1zM331 648h1v1h-1zM334 648h1v1h-1zM337 648h1v1h-1zM340 648h1v1h-1zM343 648h1v1h-1zM346 648h1v1h-1zM349 648h1v1h-1zM352 648h1v1h-1zM355 648h1v1h-1zM358 648h1v1h-1zM361 648h1v1h-1zM364 648h1v1h-1zM367 648h1v1h-1zM370 648h1v1h-1zM373 648h1v1h-1zM376 648h1v1h-1zM379 648h1v1h-1zM382 648h1v1h-1zM385 648h1v1h-1zM388 648h1v1h-1zM391 648h1v1h-1zM394 648h1v1h-1zM397 648h1v1h-1zM400 648h1v1h-1zM403 648h1v1h-1zM406 648h1v1h-1zM409 648h1v1h-1zM412 648h1v1h-1zM415 648h1v1h-1zM418 648h1v1h-1zM421 648h1v1h-1zM424 648h1v1h-1zM427 648h1v1h-1zM430 648h1v1h-1zM433 648h1v1h-1zM436 648h1v1h-1zM439 648h1v1h-1zM442 648h1v1h-1zM445 648h1v1h-1zM448 648h1v1h-1zM451 648h1v1h-1zM454 648h1v1h-1zM457 648h1v1h-1zM460 648h1v1h-1zM463 648h1v1h-1zM466 648h1v1h-1zM469 648h1v1h-1zM472 648h1v1h-1zM475 648h1v1h-1zM478 648h1v1h-1zM481 648h1v1h-1zM484 648h1v1h-1zM487 648h1v1h-1zM490 648h1v1h-1zM493 648h1v1h-1zM496 648h1v1h-1zM499 648h1v1h-1zM502 648h1v1h-1zM505 648h1v1h-1zM508 648h1v1h-1zM511 648h1v1h-1zM514 648h1v1h-1zM517 648h1v1h-1zM520 648h1v1h-1zM523 648h1v1h-1zM526 648h1v1h-1zM529 648h1v1h-1zM532 648h1v1h-1zM535 648h1v1h-1zM538 648h1v1h-1zM541 648h1v1h-1zM544 648h1v1h-1zM547 648h1v1h-1zM550 648h1v1h-1zM553 648h1v1h-1zM556 648h1v1h-1zM559 648h1v1h-1zM562 648h1v1h-1zM565 648h1v1h-1zM568 648h1v1h-1zM571 648h1v1h-1zM574 648h1v1h-1zM577 648h1v1h-1zM580 648h1v1h-1zM583 648h1v1h-1zM586 648h1v1h-1zM589 648h1v1h-1zM592 648h1v1h-1zM595 648h1v1h-1zM598 648h1v1h-1zM601 648h1v1h-1zM604 648h1v1h-1zM607 648h1v1h-1zM610 648h1v1h-1zM613 648h1v1h-1zM616 648h1v1h-1zM619 648h1v1h-1zM622 648h1v1h-1zM625 648h1v1h-1zM628 648h1v1h-1zM631 648h1v1h-1zM634 648h1v1h-1zM637 648h1v1h-1zM640 648h1v1h-1zM643 648h1v1h-1zM646 648h1v1h-1zM649 648h1v1h-1zM652 648h1v1h-1zM655 648h1v1h-1zM658 648h1v1h-1zM661 648h1v1h-1zM664 648h1v1h-1zM667 648h1v1h-1zM670 648h1v1h-1zM673 648h1v1h-1zM676 648h1v1h-1zM679 648h1v1h-1zM682 648h1v1h-1zM685 648h1v1h-1zM688 648h1v1h-1zM691 648h1v1h-1zM694 648h1v1h-1zM697 648h1v1h-1zM700 648h1v1h-1zM703 648h1v1h-1zM706 648h1v1h-1zM709 648h1v1h-1zM712 648h1v1h-1zM715 648h1v1h-1zM718 648h1v1h-1zM721 648h1v1h-1zM724 648h1v1h-1zM727 648h1v1h-1zM730 648h1v1h-1zM733 648h1v1h-1zM736 648h1v1h-1zM739 648h1v1h-1zM742 648h1v1h-1zM745 648h1v1h-1zM748 648h1v1h-1zM751 648h1v1h-1zM754 648h1v1h-1zM757 648h1v1h-1zM760 648h1v1h-1zM763 648h1v1h-1zM766 648h1v1h-1zM769 648h1v1h-1zM772 648h1v1h-1zM775 648h1v1h-1zM778 648h1v1h-1zM781 648h1v1h-1zM784 648h1v1h-1zM787 648h1v1h-1zM790 648h1v1h-1zM793 648h1v1h-1zM796 648h1v1h-1zM799 648h1v1h-1zM802 648h1v1h-1zM805 648h1v1h-1zM808 648h1v1h-1zM811 648h1v1h-1zM814 648h1v1h-1zM817 648h1v1h-1zM820 648h1v1h-1zM823 648h1v1h-1zM826 648h1v1h-1zM829 648h1v1h-1zM832 648h1v1h-1zM835 648h1v1h-1zM838 648h1v1h-1zM841 648h1v1h-1zM844 648h1v1h-1zM847 648h1v1h-1zM850 648h1v1h-1zM853 648h1v1h-1zM856 648h1v1h-1zM859 648h1v1h-1zM862 648h1v1h-1zM865 648h1v1h-1zM868 648h1v1h-1zM871 648h1v1h-1zM874 648h1v1h-1zM877 648h1v1h-1zM880 648h1v1h-1zM883 648h1v1h-1zM886 648h1v1h-1zM889 648h1v1h-1zM892 648h1v1h-1zM895 648h1v1h-1zM898 648h1v1h-1zM901 648h1v1h-1zM904 648h1v1h-1zM907 648h1v1h-1zM910 648h1v1h-1zM913 648h1v1h-1zM916 648h1v1h-1zM919 648h1v1h-1zM922 648h1v1h-1zM925 648h1v1h-1zM928 648h1v1h-1zM931 648h1v1h-1zM934 648h1v1h-1zM937 648h1v1h-1zM940 648h1v1h-1zM943 648h1v1h-1zM946 648h1v1h-1zM949 648h1v1h-1zM952 648h1v1h-1zM955 648h1v1h-1zM958 648h1v1h-1zM961 648h1v1h-1zM964 648h1v1h-1zM967 648h1v1h-1zM970 648h1v1h-1zM973 648h1v1h-1zM976 648h1v1h-1zM979 648h1v1h-1zM982 648h1v1h-1zM985 648h1v1h-1zM988 648h1v1h-1zM991 648h1v1h-1zM994 648h1v1h-1zM997 648h1v1h-1zM1000 648h1v1h-1zM1003 648h1v1h-1zM1006 648h1v1h-1zM1009 648h1v1h-1zM1012 648h1v1h-1zM1015 648h1v1h-1zM1018 648h1v1h-1zM1021 648h1v1h-1zM1024 648h1v1h-1zM1027 648h1v1h-1zM1030 648h1v1h-1zM1033 648h1v1h-1zM1036 648h1v1h-1zM1039 648h1v1h-1zM1042 648h1v1h-1zM1045 648h1v1h-1zM1048 648h1v1h-1zM1051 648h1v1h-1zM1054 648h1v1h-1zM1057 648h1v1h-1zM1060 648h1v1h-1zM1063 648h1v1h-1zM1066 648h1v1h-1zM1069 648h1v1h-1zM1072 648h1v1h-1zM1075 648h1v1h-1zM1078 648h1v1h-1zM1081 648h1v1h-1zM1084 648h1v1h-1zM1087 648h1v1h-1zM1090 648h1v1h-1zM1093 648h1v1h-1zM1096 648h1v1h-1zM1099 648h1v1h-1zM1102 648h1v1h-1zM1105 648h1v1h-1zM1108 648h1v1h-1zM1111 648h1v1h-1zM1114 648h1v1h-1zM160 524h1v1h-1zM163 524h1v1h-1zM166 524h1v1h-1zM169 524h1v1h-1zM172 524h1v1h-1zM175 524h1v1h-1zM178 524h1v1h-1zM181 524h1v1h-1zM184 524h1v1h-1zM187 524h1v1h-1zM190 524h1v1h-1zM193 524h1v1h-1zM196 524h1v1h-1zM199 524h1v1h-1zM202 524h1v1h-1zM205 524h1v1h-1zM208 524h1v1h-1zM211 524h1v1h-1zM214 524h1v1h-1zM217 524h1v1h-1zM220 524h1v1h-1zM223 524h1v1h-1zM226 524h1v1h-1zM229 524h1v1h-1zM232 524h1v1h-1zM235 524h1v1h-1zM238 524h1v1h-1zM241 524h1v1h-1zM244 524h1v1h-1zM247 524h1v1h-1zM250 524h1v1h-1zM253 524h1v1h-1zM256 524h1v1h-1zM259 524h1v1h-1zM262 524h1v1h-1zM265 524h1v1h-1zM268 524h1v1h-1zM271 524h1v1h-1zM274 524h1v1h-1zM277 524h1v1h-1zM280 524h1v1h-1zM283 524h1v1h-1zM286 524h1v1h-1zM289 524h1v1h-1zM292 524h1v1h-1zM295 524h1v1h-1zM298 524h1v1h-1zM301 524h1v1h-1zM304 524h1v1h-1zM307 524h1v1h-1zM310 524h1v1h-1zM313 524h1v1h-1zM316 524h1v1h-1zM319 524h1v1h-1zM322 524h1v1h-1zM325 524h1v1h-1zM328 524h1v1h-1zM331 524h1v1h-1zM334 524h1v1h-1zM337 524h1v1h-1zM340 524h1v1h-1zM343 524h1v1h-1zM346 524h1v1h-1zM349 524h1v1h-1zM352 524h1v1h-1zM355 524h1v1h-1zM358 524h1v1h-1zM361 524h1v1h-1zM364 524h1v1h-1zM367 524h1v1h-1zM370 524h1v1h-1zM373 524h1v1h-1zM376 524h1v1h-1zM379 524h1v1h-1zM382 524h1v1h-1zM385 524h1v1h-1zM388 524h1v1h-1zM391 524h1v1h-1zM394 524h1v1h-1zM397 524h1v1h-1zM400 524h1v1h-1zM403 524h1v1h-1zM406 524h1v1h-1zM409 524h1v1h-1zM412 524h1v1h-1zM415 524h1v1h-1zM418 524h1v1h-1zM421 524h1v1h-1zM424 524h1v1h-1zM427 524h1v1h-1zM430 524h1v1h-1zM433 524h1v1h-1zM436 524h1v1h-1zM439 524h1v1h-1zM442 524h1v1h-1zM445 524h1v1h-1zM448 524h1v1h-1zM451 524h1v1h-1zM454 524h1v1h-1zM457 524h1v1h-1zM460 524h1v1h-1zM463 524h1v1h-1zM466 524h1v1h-1zM469 524h1v1h-1zM472 524h1v1h-1zM475 524h1v1h-1zM478 524h1v1h-1zM481 524h1v1h-1zM484 524h1v1h-1zM487 524h1v1h-1zM490 524h1v1h-1zM493 524h1v1h-1zM496 524h1v1h-1zM499 524h1v1h-1zM502 524h1v1h-1zM505 524h1v1h-1zM508 524h1v1h-1zM511 524h1v1h-1zM514 524h1v1h-1zM517 524h1v1h-1zM520 524h1v1h-1zM523 524h1v1h-1zM526 524h1v1h-1zM529 524h1v1h-1zM532 524h1v1h-1zM535 524h1v1h-1zM538 524h1v1h-1zM541 524h1v1h-1zM544 524h1v1h-1zM547 524h1v1h-1zM550 524h1v1h-1zM553 524h1v1h-1zM556 524h1v1h-1zM559 524h1v1h-1zM562 524h1v1h-1zM565 524h1v1h-1zM568 524h1v1h-1zM571 524h1v1h-1zM574 524h1v1h-1zM577 524h1v1h-1zM580 524h1v1h-1zM583 524h1v1h-1zM586 524h1v1h-1zM589 524h1v1h-1zM592 524h1v1h-1zM595 524h1v1h-1zM598 524h1v1h-1zM601 524h1v1h-1zM604 524h1v1h-1zM607 524h1v1h-1zM610 524h1v1h-1zM613 524h1v1h-1zM616 524h1v1h-1zM619 524h1v1h-1zM622 524h1v1h-1zM625 524h1v1h-1zM628 524h1v1h-1zM631 524h1v1h-1zM634 524h1v1h-1zM637 524h1v1h-1zM640 524h1v1h-1zM643 524h1v1h-1zM646 524h1v1h-1zM649 524h1v1h-1zM652 524h1v1h-1zM655 524h1v1h-1zM658 524h1v1h-1zM661 524h1v1h-1zM664 524h1v1h-1zM667 524h1v1h-1zM670 524h1v1h-1zM673 524h1v1h-1zM676 524h1v1h-1zM679 524h1v1h-1zM682 524h1v1h-1zM685 524h1v1h-1zM688 524h1v1h-1zM691 524h1v1h-1zM694 524h1v1h-1zM697 524h1v1h-1zM700 524h1v1h-1zM703 524h1v1h-1zM706 524h1v1h-1zM709 524h1v1h-1zM712 524h1v1h-1zM715 524h1v1h-1zM718 524h1v1h-1zM721 524h1v1h-1zM724 524h1v1h-1zM727 524h1v1h-1zM730 524h1v1h-1zM733 524h1v1h-1zM736 524h1v1h-1zM739 524h1v1h-1zM742 524h1v1h-1zM745 524h1v1h-1zM748 524h1v1h-1zM751 524h1v1h-1zM754 524h1v1h-1zM757 524h1v1h-1zM760 524h1v1h-1zM763 524h1v1h-1zM766 524h1v1h-1zM769 524h1v1h-1zM772 524h1v1h-1zM775 524h1v1h-1zM778 524h1v1h-1zM781 524h1v1h-1zM784 524h1v1h-1zM787 524h1v1h-1zM790 524h1v1h-1zM793 524h1v1h-1zM796 524h1v1h-1zM799 524h1v1h-1zM802 524h1v1h-1zM805 524h1v1h-1zM808 524h1v1h-1zM811 524h1v1h-1zM814 524h1v1h-1zM817 524h1v1h-1zM820 524h1v1h-1zM823 524h1v1h-1zM826 524h1v1h-1zM829 524h1v1h-1zM832 524h1v1h-1zM835 524h1v1h-1zM838 524h1v1h-1zM841 524h1v1h-1zM844 524h1v1h-1zM847 524h1v1h-1zM850 524h1v1h-1zM853 524h1v1h-1zM856 524h1v1h-1zM859 524h1v1h-1zM862 524h1v1h-1zM865 524h1v1h-1zM868 524h1v1h-1zM871 524h1v1h-1zM874 524h1v1h-1zM877 524h1v1h-1zM880 524h1v1h-1zM883 524h1v1h-1zM886 524h1v1h-1zM889 524h1v1h-1zM892 524h1v1h-1zM895 524h1v1h-1zM898 524h1v1h-1zM901 524h1v1h-1zM904 524h1v1h-1zM907 524h1v1h-1zM910 524h1v1h-1zM913 524h1v1h-1zM916 524h1v1h-1zM919 524h1v1h-1zM922 524h1v1h-1zM925 524h1v1h-1zM928 524h1v1h-1zM931 524h1v1h-1zM934 524h1v1h-1zM937 524h1v1h-1zM940 524h1v1h-1zM943 524h1v1h-1zM946 524h1v1h-1zM949 524h1v1h-1zM952 524h1v1h-1zM955 524h1v1h-1zM958 524h1v1h-1zM961 524h1v1h-1zM964 524h1v1h-1zM967 524h1v1h-1zM970 524h1v1h-1zM973 524h1v1h-1zM976 524h1v1h-1zM979 524h1v1h-1zM982 524h1v1h-1zM985 524h1v1h-1zM988 524h1v1h-1zM991 524h1v1h-1zM994 524h1v1h-1zM997 524h1v1h-1zM1000 524h1v1h-1zM1003 524h1v1h-1zM1006 524h1v1h-1zM1009 524h1v1h-1zM1012 524h1v1h-1zM1015 524h1v1h-1zM1018 524h1v1h-1zM1021 524h1v1h-1zM1024 524h1v1h-1zM1027 524h1v1h-1zM1030 524h1v1h-1zM1033 524h1v1h-1zM1036 524h1v1h-1zM1039 524h1v1h-1zM1042 524h1v1h-1zM1045 524h1v1h-1zM1048 524h1v1h-1zM1051 524h1v1h-1zM1054 524h1v1h-1zM1057 524h1v1h-1zM1060 524h1v1h-1zM1063 524h1v1h-1zM1066 524h1v1h-1zM1069 524h1v1h-1zM1072 524h1v1h-1zM1075 524h1v1h-1zM1078 524h1v1h-1zM1081 524h1v1h-1zM1084 524h1v1h-1zM1087 524h1v1h-1zM1090 524h1v1h-1zM1093 524h1v1h-1zM1096 524h1v1h-1zM1099 524h1v1h-1zM1102 524h1v1h-1zM1105 524h1v1h-1zM1108 524h1v1h-1zM1111 524h1v1h-1zM1114 524h1v1h-1zM160 400h1v1h-1zM163 400h1v1h-1zM166 400h1v1h-1zM169 400h1v1h-1zM172 400h1v1h-1zM175 400h1v1h-1zM178 400h1v1h-1zM181 400h1v1h-1zM184 400h1v1h-1zM187 400h1v1h-1zM190 400h1v1h-1zM193 400h1v1h-1zM196 400h1v1h-1zM199 400h1v1h-1zM202 400h1v1h-1zM205 400h1v1h-1zM208 400h1v1h-1zM211 400h1v1h-1zM214 400h1v1h-1zM217 400h1v1h-1zM220 400h1v1h-1zM223 400h1v1h-1zM226 400h1v1h-1zM229 400h1v1h-1zM232 400h1v1h-1zM235 400h1v1h-1zM238 400h1v1h-1zM241 400h1v1h-1zM244 400h1v1h-1zM247 400h1v1h-1zM250 400h1v1h-1zM253 400h1v1h-1zM256 400h1v1h-1zM259 400h1v1h-1zM262 400h1v1h-1zM265 400h1v1h-1zM268 400h1v1h-1zM271 400h1v1h-1zM274 400h1v1h-1zM277 400h1v1h-1zM280 400h1v1h-1zM283 400h1v1h-1zM286 400h1v1h-1zM289 400h1v1h-1zM292 400h1v1h-1zM295 400h1v1h-1zM298 400h1v1h-1zM301 400h1v1h-1zM304 400h1v1h-1zM307 400h1v1h-1zM310 400h1v1h-1zM313 400h1v1h-1zM316 400h1v1h-1zM319 400h1v1h-1zM322 400h1v1h-1zM325 400h1v1h-1zM328 400h1v1h-1zM331 400h1v1h-1zM334 400h1v1h-1zM337 400h1v1h-1zM340 400h1v1h-1zM343 400h1v1h-1zM346 400h1v1h-1zM349 400h1v1h-1zM352 400h1v1h-1zM355 400h1v1h-1zM358 400h1v1h-1zM361 400h1v1h-1zM364 400h1v1h-1zM367 400h1v1h-1zM370 400h1v1h-1zM373 400h1v1h-1zM376 400h1v1h-1zM379 400h1v1h-1zM382 400h1v1h-1zM385 400h1v1h-1zM388 400h1v1h-1zM391 400h1v1h-1zM394 400h1v1h-1zM397 400h1v1h-1zM400 400h1v1h-1zM403 400h1v1h-1zM406 400h1v1h-1zM409 400h1v1h-1zM412 400h1v1h-1zM415 400h1v1h-1zM418 400h1v1h-1zM421 400h1v1h-1zM424 400h1v1h-1zM427 400h1v1h-1zM430 400h1v1h-1zM433 400h1v1h-1zM436 400h1v1h-1zM439 400h1v1h-1zM442 400h1v1h-1zM445 400h1v1h-1zM448 400h1v1h-1zM451 400h1v1h-1zM454 400h1v1h-1zM457 400h1v1h-1zM460 400h1v1h-1zM463 400h1v1h-1zM466 400h1v1h-1zM469 400h1v1h-1zM472 400h1v1h-1zM475 400h1v1h-1zM478 400h1v1h-1zM481 400h1v1h-1zM484 400h1v1h-1zM487 400h1v1h-1zM490 400h1v1h-1zM493 400h1v1h-1zM496 400h1v1h-1zM499 400h1v1h-1zM502 400h1v1h-1zM505 400h1v1h-1zM508 400h1v1h-1zM511 400h1v1h-1zM514 400h1v1h-1zM517 400h1v1h-1zM520 400h1v1h-1zM523 400h1v1h-1zM526 400h1v1h-1zM529 400h1v1h-1zM532 400h1v1h-1zM535 400h1v1h-1zM538 400h1v1h-1zM541 400h1v1h-1zM544 400h1v1h-1zM547 400h1v1h-1zM550 400h1v1h-1zM553 400h1v1h-1zM556 400h1v1h-1zM559 400h1v1h-1zM562 400h1v1h-1zM565 400h1v1h-1zM568 400h1v1h-1zM571 400h1v1h-1zM574 400h1v1h-1zM577 400h1v1h-1zM580 400h1v1h-1zM583 400h1v1h-1zM586 400h1v1h-1zM589 400h1v1h-1zM592 400h1v1h-1zM595 400h1v1h-1zM598 400h1v1h-1zM601 400h1v1h-1zM604 400h1v1h-1zM607 400h1v1h-1zM610 400h1v1h-1zM613 400h1v1h-1zM616 400h1v1h-1zM619 400h1v1h-1zM622 400h1v1h-1zM625 400h1v1h-1zM628 400h1v1h-1zM631 400h1v1h-1zM634 400h1v1h-1zM637 400h1v1h-1zM640 400h1v1h-1zM643 400h1v1h-1zM646 400h1v1h-1zM649 400h1v1h-1zM652 400h1v1h-1zM655 400h1v1h-1zM658 400h1v1h-1zM661 400h1v1h-1zM664 400h1v1h-1zM667 400h1v1h-1zM670 400h1v1h-1zM673 400h1v1h-1zM676 400h1v1h-1zM679 400h1v1h-1zM682 400h1v1h-1zM685 400h1v1h-1zM688 400h1v1h-1zM691 400h1v1h-1zM694 400h1v1h-1zM697 400h1v1h-1zM700 400h1v1h-1zM703 400h1v1h-1zM706 400h1v1h-1zM709 400h1v1h-1zM712 400h1v1h-1zM715 400h1v1h-1zM718 400h1v1h-1zM721 400h1v1h-1zM724 400h1v1h-1zM727 400h1v1h-1zM730 400h1v1h-1zM733 400h1v1h-1zM736 400h1v1h-1zM739 400h1v1h-1zM742 400h1v1h-1zM745 400h1v1h-1zM748 400h1v1h-1zM751 400h1v1h-1zM754 400h1v1h-1zM757 400h1v1h-1zM760 400h1v1h-1zM763 400h1v1h-1zM766 400h1v1h-1zM769 400h1v1h-1zM772 400h1v1h-1zM775 400h1v1h-1zM778 400h1v1h-1zM781 400h1v1h-1zM784 400h1v1h-1zM787 400h1v1h-1zM790 400h1v1h-1zM793 400h1v1h-1zM796 400h1v1h-1zM799 400h1v1h-1zM802 400h1v1h-1zM805 400h1v1h-1zM808 400h1v1h-1zM811 400h1v1h-1zM814 400h1v1h-1zM817 400h1v1h-1zM820 400h1v1h-1zM823 400h1v1h-1zM826 400h1v1h-1zM829 400h1v1h-1zM832 400h1v1h-1zM835 400h1v1h-1zM838 400h1v1h-1zM841 400h1v1h-1zM844 400h1v1h-1zM847 400h1v1h-1zM850 400h1v1h-1zM853 400h1v1h-1zM856 400h1v1h-1zM859 400h1v1h-1zM862 400h1v1h-1zM865 400h1v1h-1zM868 400h1v1h-1zM871 400h1v1h-1zM874 400h1v1h-1zM877 400h1v1h-1zM880 400h1v1h-1zM883 400h1v1h-1zM886 400h1v1h-1zM889 400h1v1h-1zM892 400h1v1h-1zM895 400h1v1h-1zM898 400h1v1h-1zM901 400h1v1h-1zM904 400h1v1h-1zM907 400h1v1h-1zM910 400h1v1h-1zM913 400h1v1h-1zM916 400h1v1h-1zM919 400h1v1h-1zM922 400h1v1h-1zM925 400h1v1h-1zM928 400h1v1h-1zM931 400h1v1h-1zM934 400h1v1h-1zM937 400h1v1h-1zM940 400h1v1h-1zM943 400h1v1h-1zM946 400h1v1h-1zM949 400h1v1h-1zM952 400h1v1h-1zM955 400h1v1h-1zM958 400h1v1h-1zM961 400h1v1h-1zM964 400h1v1h-1zM967 400h1v1h-1zM970 400h1v1h-1zM973 400h1v1h-1zM976 400h1v1h-1zM979 400h1v1h-1zM982 400h1v1h-1zM985 400h1v1h-1zM988 400h1v1h-1zM991 400h1v1h-1zM994 400h1v1h-1zM997 400h1v1h-1zM1000 400h1v1h-1zM1003 400h1v1h-1zM1006 400h1v1h-1zM1009 400h1v1h-1zM1012 400h1v1h-1zM1015 400h1v1h-1zM1018 400h1v1h-1zM1021 400h1v1h-1zM1024 400h1v1h-1zM1027 400h1v1h-1zM1030 400h1v1h-1zM1033 400h1v1h-1zM1036 400h1v1h-1zM1039 400h1v1h-1zM1042 400h1v1h-1zM1045 400h1v1h-1zM1048 400h1v1h-1zM1051 400h1v1h-1zM1054 400h1v1h-1zM1057 400h1v1h-1zM1060 400h1v1h-1zM1063 400h1v1h-1zM1066 400h1v1h-1zM1069 400h1v1h-1zM1072 400h1v1h-1zM1075 400h1v1h-1zM1078 400h1v1h-1zM1081 400h1v1h-1zM1084 400h1v1h-1zM1087 400h1v1h-1zM1090 400h1v1h-1zM1093 400h1v1h-1zM1096 400h1v1h-1zM1099 400h1v1h-1zM1102 400h1v1h-1zM1105 400h1v1h-1zM1108 400h1v1h-1zM1111 400h1v1h-1zM1114 400h1v1h-1zM160 276h1v1h-1zM163 276h1v1h-1zM166 276h1v1h-1zM169 276h1v1h-1zM172 276h1v1h-1zM175 276h1v1h-1zM178 276h1v1h-1zM181 276h1v1h-1zM184 276h1v1h-1zM187 276h1v1h-1zM190 276h1v1h-1zM193 276h1v1h-1zM196 276h1v1h-1zM199 276h1v1h-1zM202 276h1v1h-1zM205 276h1v1h-1zM208 276h1v1h-1zM211 276h1v1h-1zM214 276h1v1h-1zM217 276h1v1h-1zM220 276h1v1h-1zM223 276h1v1h-1zM226 276h1v1h-1zM229 276h1v1h-1zM232 276h1v1h-1zM235 276h1v1h-1zM238 276h1v1h-1zM241 276h1v1h-1zM244 276h1v1h-1zM247 276h1v1h-1zM250 276h1v1h-1zM253 276h1v1h-1zM256 276h1v1h-1zM259 276h1v1h-1zM262 276h1v1h-1zM265 276h1v1h-1zM268 276h1v1h-1zM271 276h1v1h-1zM274 276h1v1h-1zM277 276h1v1h-1zM280 276h1v1h-1zM283 276h1v1h-1zM286 276h1v1h-1zM289 276h1v1h-1zM292 276h1v1h-1zM295 276h1v1h-1zM298 276h1v1h-1zM301 276h1v1h-1zM304 276h1v1h-1zM307 276h1v1h-1zM310 276h1v1h-1zM313 276h1v1h-1zM316 276h1v1h-1zM319 276h1v1h-1zM322 276h1v1h-1zM325 276h1v1h-1zM328 276h1v1h-1zM331 276h1v1h-1zM334 276h1v1h-1zM337 276h1v1h-1zM340 276h1v1h-1zM343 276h1v1h-1zM346 276h1v1h-1zM349 276h1v1h-1zM352 276h1v1h-1zM355 276h1v1h-1zM358 276h1v1h-1zM361 276h1v1h-1zM364 276h1v1h-1zM367 276h1v1h-1zM370 276h1v1h-1zM373 276h1v1h-1zM376 276h1v1h-1zM379 276h1v1h-1zM382 276h1v1h-1zM385 276h1v1h-1zM388 276h1v1h-1zM391 276h1v1h-1zM394 276h1v1h-1zM397 276h1v1h-1zM400 276h1v1h-1zM403 276h1v1h-1zM406 276h1v1h-1zM409 276h1v1h-1zM412 276h1v1h-1zM415 276h1v1h-1zM418 276h1v1h-1zM421 276h1v1h-1zM424 276h1v1h-1zM427 276h1v1h-1zM430 276h1v1h-1zM433 276h1v1h-1zM436 276h1v1h-1zM439 276h1v1h-1zM442 276h1v1h-1zM445 276h1v1h-1zM448 276h1v1h-1zM451 276h1v1h-1zM454 276h1v1h-1zM457 276h1v1h-1zM460 276h1v1h-1zM463 276h1v1h-1zM466 276h1v1h-1zM469 276h1v1h-1zM472 276h1v1h-1zM475 276h1v1h-1zM478 276h1v1h-1zM481 276h1v1h-1zM484 276h1v1h-1zM487 276h1v1h-1zM490 276h1v1h-1zM493 276h1v1h-1zM496 276h1v1h-1zM499 276h1v1h-1zM502 276h1v1h-1zM505 276h1v1h-1zM508 276h1v1h-1zM511 276h1v1h-1zM514 276h1v1h-1zM517 276h1v1h-1zM520 276h1v1h-1zM523 276h1v1h-1zM526 276h1v1h-1zM529 276h1v1h-1zM532 276h1v1h-1zM535 276h1v1h-1zM538 276h1v1h-1zM541 276h1v1h-1zM544 276h1v1h-1zM547 276h1v1h-1zM550 276h1v1h-1zM553 276h1v1h-1zM556 276h1v1h-1zM559 276h1v1h-1zM562 276h1v1h-1zM565 276h1v1h-1zM568 276h1v1h-1zM571 276h1v1h-1zM574 276h1v1h-1zM577 276h1v1h-1zM580 276h1v1h-1zM583 276h1v1h-1zM586 276h1v1h-1zM589 276h1v1h-1zM592 276h1v1h-1zM595 276h1v1h-1zM598 276h1v1h-1zM601 276h1v1h-1zM604 276h1v1h-1zM607 276h1v1h-1zM610 276h1v1h-1zM613 276h1v1h-1zM616 276h1v1h-1zM619 276h1v1h-1zM622 276h1v1h-1zM625 276h1v1h-1zM628 276h1v1h-1zM631 276h1v1h-1zM634 276h1v1h-1zM637 276h1v1h-1zM640 276h1v1h-1zM643 276h1v1h-1zM646 276h1v1h-1zM649 276h1v1h-1zM652 276h1v1h-1zM655 276h1v1h-1zM658 276h1v1h-1zM661 276h1v1h-1zM664 276h1v1h-1zM667 276h1v1h-1zM670 276h1v1h-1zM673 276h1v1h-1zM676 276h1v1h-1zM679 276h1v1h-1zM682 276h1v1h-1zM685 276h1v1h-1zM688 276h1v1h-1zM691 276h1v1h-1zM694 276h1v1h-1zM697 276h1v1h-1zM700 276h1v1h-1zM703 276h1v1h-1zM706 276h1v1h-1zM709 276h1v1h-1zM712 276h1v1h-1zM715 276h1v1h-1zM718 276h1v1h-1zM721 276h1v1h-1zM724 276h1v1h-1zM727 276h1v1h-1zM730 276h1v1h-1zM733 276h1v1h-1zM736 276h1v1h-1zM739 276h1v1h-1zM742 276h1v1h-1zM745 276h1v1h-1zM748 276h1v1h-1zM751 276h1v1h-1zM754 276h1v1h-1zM757 276h1v1h-1zM760 276h1v1h-1zM763 276h1v1h-1zM766 276h1v1h-1zM769 276h1v1h-1zM772 276h1v1h-1zM775 276h1v1h-1zM778 276h1v1h-1zM781 276h1v1h-1zM784 276h1v1h-1zM787 276h1v1h-1zM790 276h1v1h-1zM793 276h1v1h-1zM796 276h1v1h-1zM799 276h1v1h-1zM802 276h1v1h-1zM805 276h1v1h-1zM808 276h1v1h-1zM811 276h1v1h-1zM814 276h1v1h-1zM817 276h1v1h-1zM820 276h1v1h-1zM823 276h1v1h-1zM826 276h1v1h-1zM829 276h1v1h-1zM832 276h1v1h-1zM835 276h1v1h-1zM838 276h1v1h-1zM841 276h1v1h-1zM844 276h1v1h-1zM847 276h1v1h-1zM850 276h1v1h-1zM853 276h1v1h-1zM856 276h1v1h-1zM859 276h1v1h-1zM862 276h1v1h-1zM865 276h1v1h-1zM868 276h1v1h-1zM871 276h1v1h-1zM874 276h1v1h-1zM877 276h1v1h-1zM880 276h1v1h-1zM883 276h1v1h-1zM886 276h1v1h-1zM889 276h1v1h-1zM892 276h1v1h-1zM895 276h1v1h-1zM898 276h1v1h-1zM901 276h1v1h-1zM904 276h1v1h-1zM907 276h1v1h-1zM910 276h1v1h-1zM913 276h1v1h-1zM916 276h1v1h-1zM919 276h1v1h-1zM922 276h1v1h-1zM925 276h1v1h-1zM928 276h1v1h-1zM931 276h1v1h-1zM934 276h1v1h-1zM937 276h1v1h-1zM940 276h1v1h-1zM943 276h1v1h-1zM946 276h1v1h-1zM949 276h1v1h-1zM952 276h1v1h-1zM955 276h1v1h-1zM958 276h1v1h-1zM961 276h1v1h-1zM964 276h1v1h-1zM967 276h1v1h-1zM970 276h1v1h-1zM973 276h1v1h-1zM976 276h1v1h-1zM979 276h1v1h-1zM982 276h1v1h-1zM985 276h1v1h-1zM988 276h1v1h-1zM991 276h1v1h-1zM994 276h1v1h-1zM997 276h1v1h-1zM1000 276h1v1h-1zM1003 276h1v1h-1zM1006 276h1v1h-1zM1009 276h1v1h-1zM1012 276h1v1h-1zM1015 276h1v1h-1zM1018 276h1v1h-1zM1021 276h1v1h-1zM1024 276h1v1h-1zM1027 276h1v1h-1zM1030 276h1v1h-1zM1033 276h1v1h-1zM1036 276h1v1h-1zM1039 276h1v1h-1zM1042 276h1v1h-1zM1045 276h1v1h-1zM1048 276h1v1h-1zM1051 276h1v1h-1zM1054 276h1v1h-1zM1057 276h1v1h-1zM1060 276h1v1h-1zM1063 276h1v1h-1zM1066 276h1v1h-1zM1069 276h1v1h-1zM1072 276h1v1h-1zM1075 276h1v1h-1zM1078 276h1v1h-1zM1081 276h1v1h-1zM1084 276h1v1h-1zM1087 276h1v1h-1zM1090 276h1v1h-1zM1093 276h1v1h-1zM1096 276h1v1h-1zM1099 276h1v1h-1zM1102 276h1v1h-1zM1105 276h1v1h-1zM1108 276h1v1h-1zM1111 276h1v1h-1zM1114 276h1v1h-1zM160 153h1v1h-1zM163 153h1v1h-1zM166 153h1v1h-1zM169 153h1v1h-1zM172 153h1v1h-1zM175 153h1v1h-1zM178 153h1v1h-1zM181 153h1v1h-1zM184 153h1v1h-1zM187 153h1v1h-1zM190 153h1v1h-1zM193 153h1v1h-1zM196 153h1v1h-1zM199 153h1v1h-1zM202 153h1v1h-1zM205 153h1v1h-1zM208 153h1v1h-1zM211 153h1v1h-1zM214 153h1v1h-1zM217 153h1v1h-1zM220 153h1v1h-1zM223 153h1v1h-1zM226 153h1v1h-1zM229 153h1v1h-1zM232 153h1v1h-1zM235 153h1v1h-1zM238 153h1v1h-1zM241 153h1v1h-1zM244 153h1v1h-1zM247 153h1v1h-1zM250 153h1v1h-1zM253 153h1v1h-1zM256 153h1v1h-1zM259 153h1v1h-1zM262 153h1v1h-1zM265 153h1v1h-1zM268 153h1v1h-1zM271 153h1v1h-1zM274 153h1v1h-1zM277 153h1v1h-1zM280 153h1v1h-1zM283 153h1v1h-1zM286 153h1v1h-1zM289 153h1v1h-1zM292 153h1v1h-1zM295 153h1v1h-1zM298 153h1v1h-1zM301 153h1v1h-1zM304 153h1v1h-1zM307 153h1v1h-1zM310 153h1v1h-1zM313 153h1v1h-1zM316 153h1v1h-1zM319 153h1v1h-1zM322 153h1v1h-1zM325 153h1v1h-1zM328 153h1v1h-1zM331 153h1v1h-1zM334 153h1v1h-1zM337 153h1v1h-1zM340 153h1v1h-1zM343 153h1v1h-1zM346 153h1v1h-1zM349 153h1v1h-1zM352 153h1v1h-1zM355 153h1v1h-1zM358 153h1v1h-1zM361 153h1v1h-1zM364 153h1v1h-1zM367 153h1v1h-1zM370 153h1v1h-1zM373 153h1v1h-1zM376 153h1v1h-1zM379 153h1v1h-1zM382 153h1v1h-1zM385 153h1v1h-1zM388 153h1v1h-1zM391 153h1v1h-1zM394 153h1v1h-1zM397 153h1v1h-1zM400 153h1v1h-1zM403 153h1v1h-1zM406 153h1v1h-1zM409 153h1v1h-1zM412 153h1v1h-1zM415 153h1v1h-1zM418 153h1v1h-1zM421 153h1v1h-1zM424 153h1v1h-1zM427 153h1v1h-1zM430 153h1v1h-1zM433 153h1v1h-1zM436 153h1v1h-1zM439 153h1v1h-1zM442 153h1v1h-1zM445 153h1v1h-1zM448 153h1v1h-1zM451 153h1v1h-1zM454 153h1v1h-1zM457 153h1v1h-1zM460 153h1v1h-1zM463 153h1v1h-1zM466 153h1v1h-1zM469 153h1v1h-1zM472 153h1v1h-1zM475 153h1v1h-1zM478 153h1v1h-1zM481 153h1v1h-1zM484 153h1v1h-1zM487 153h1v1h-1zM490 153h1v1h-1zM493 153h1v1h-1zM496 153h1v1h-1zM499 153h1v1h-1zM502 153h1v1h-1zM505 153h1v1h-1zM508 153h1v1h-1zM511 153h1v1h-1zM514 153h1v1h-1zM517 153h1v1h-1zM520 153h1v1h-1zM523 153h1v1h-1zM526 153h1v1h-1zM529 153h1v1h-1zM532 153h1v1h-1zM535 153h1v1h-1zM538 153h1v1h-1zM541 153h1v1h-1zM544 153h1v1h-1zM547 153h1v1h-1zM550 153h1v1h-1zM553 153h1v1h-1zM556 153h1v1h-1zM559 153h1v1h-1zM562 153h1v1h-1zM565 153h1v1h-1zM568 153h1v1h-1zM571 153h1v1h-1zM574 153h1v1h-1zM577 153h1v1h-1zM580 153h1v1h-1zM583 153h1v1h-1zM586 153h1v1h-1zM589 153h1v1h-1zM592 153h1v1h-1zM595 153h1v1h-1zM598 153h1v1h-1zM601 153h1v1h-1zM604 153h1v1h-1zM607 153h1v1h-1zM610 153h1v1h-1zM613 153h1v1h-1zM616 153h1v1h-1zM619 153h1v1h-1zM622 153h1v1h-1zM625 153h1v1h-1zM628 153h1v1h-1zM631 153h1v1h-1zM634 153h1v1h-1zM637 153h1v1h-1zM640 153h1v1h-1zM643 153h1v1h-1zM646 153h1v1h-1zM649 153h1v1h-1zM652 153h1v1h-1zM655 153h1v1h-1zM658 153h1v1h-1zM661 153h1v1h-1zM664 153h1v1h-1zM667 153h1v1h-1zM670 153h1v1h-1zM673 153h1v1h-1zM676 153h1v1h-1zM679 153h1v1h-1zM682 153h1v1h-1zM685 153h1v1h-1zM688 153h1v1h-1zM691 153h1v1h-1zM694 153h1v1h-1zM697 153h1v1h-1zM700 153h1v1h-1zM703 153h1v1h-1zM706 153h1v1h-1zM709 153h1v1h-1zM712 153h1v1h-1zM715 153h1v1h-1zM718 153h1v1h-1zM721 153h1v1h-1zM724 153h1v1h-1zM727 153h1v1h-1zM730 153h1v1h-1zM733 153h1v1h-1zM736 153h1v1h-1zM739 153h1v1h-1zM742 153h1v1h-1zM745 153h1v1h-1zM748 153h1v1h-1zM751 153h1v1h-1zM754 153h1v1h-1zM757 153h1v1h-1zM760 153h1v1h-1zM763 153h1v1h-1zM766 153h1v1h-1zM769 153h1v1h-1zM772 153h1v1h-1zM775 153h1v1h-1zM778 153h1v1h-1zM781 153h1v1h-1zM784 153h1v1h-1zM787 153h1v1h-1zM790 153h1v1h-1zM793 153h1v1h-1zM796 153h1v1h-1zM799 153h1v1h-1zM802 153h1v1h-1zM805 153h1v1h-1zM808 153h1v1h-1zM811 153h1v1h-1zM814 153h1v1h-1zM817 153h1v1h-1zM820 153h1v1h-1zM823 153h1v1h-1zM826 153h1v1h-1zM829 153h1v1h-1zM832 153h1v1h-1zM835 153h1v1h-1zM838 153h1v1h-1zM841 153h1v1h-1zM844 153h1v1h-1zM847 153h1v1h-1zM850 153h1v1h-1zM853 153h1v1h-1zM856 153h1v1h-1zM859 153h1v1h-1zM862 153h1v1h-1zM865 153h1v1h-1zM868 153h1v1h-1zM871 153h1v1h-1zM874 153h1v1h-1zM877 153h1v1h-1zM880 153h1v1h-1zM883 153h1v1h-1zM886 153h1v1h-1zM889 153h1v1h-1zM892 153h1v1h-1zM895 153h1v1h-1zM898 153h1v1h-1zM901 153h1v1h-1zM904 153h1v1h-1zM907 153h1v1h-1zM910 153h1v1h-1zM913 153h1v1h-1zM916 153h1v1h-1zM919 153h1v1h-1zM922 153h1v1h-1zM925 153h1v1h-1zM928 153h1v1h-1zM931 153h1v1h-1zM934 153h1v1h-1zM937 153h1v1h-1zM940 153h1v1h-1zM943 153h1v1h-1zM946 153h1v1h-1zM949 153h1v1h-1zM952 153h1v1h-1zM955 153h1v1h-1zM958 153h1v1h-1zM961 153h1v1h-1zM964 153h1v1h-1zM967 153h1v1h-1zM970 153h1v1h-1zM973 153h1v1h-1zM976 153h1v1h-1zM979 153h1v1h-1zM982 153h1v1h-1zM985 153h1v1h-1zM988 153h1v1h-1zM991 153h1v1h-1zM994 153h1v1h-1zM997 153h1v1h-1zM1000 153h1v1h-1zM1003 153h1v1h-1zM1006 153h1v1h-1zM1009 153h1v1h-1zM1012 153h1v1h-1zM1015 153h1v1h-1zM1018 153h1v1h-1zM1021 153h1v1h-1zM1024 153h1v1h-1zM1027 153h1v1h-1zM1030 153h1v1h-1zM1033 153h1v1h-1zM1036 153h1v1h-1zM1039 153h1v1h-1zM1042 153h1v1h-1zM1045 153h1v1h-1zM1048 153h1v1h-1zM1051 153h1v1h-1zM1054 153h1v1h-1zM1057 153h1v1h-1zM1060 153h1v1h-1zM1063 153h1v1h-1zM1066 153h1v1h-1zM1069 153h1v1h-1zM1072 153h1v1h-1zM1075 153h1v1h-1zM1078 153h1v1h-1zM1081 153h1v1h-1zM1084 153h1v1h-1zM1087 153h1v1h-1zM1090 153h1v1h-1zM1093 153h1v1h-1zM1096 153h1v1h-1zM1099 153h1v1h-1zM1102 153h1v1h-1zM1105 153h1v1h-1zM1108 153h1v1h-1zM1111 153h1v1h-1zM1114 153h1v1h-1z"/>
<rect x="127" y="99" width="1022" height="1" fill="#000"/>
<rect x="127" y="896" width="1022" height="1" fill="#000"/>
<rect x="127" y="99" width="1" height="798" fill="#000"/>
<rect x="1148" y="99" width="1" height="798" fill="#000"/>
<rect x="168" y="99" width="1" height="13" fill="#000"/>
<rect x="168" y="884" width="1" height="13" fill="#000"/>
<rect x="219" y="99" width="1" height="13" fill="#000"/>
<rect x="219" y="884" width="1" height="13" fill="#000"/>
<rect x="270" y="99" width="1" height="13" fill="#000"/>
<rect x="270" y="884" width="1" height="13" fill="#000"/>
<rect x="321" y="99" width="1" height="25" fill="#000"/>
<rect x="321" y="872" width="1" height="25" fill="#000"/>
<rect x="372" y="99" width="1" height="13" fill="#000"/>
<rect x="372" y="884" width="1" height="13" fill="#000"/>
<rect x="423" y="99" width="1" height="13" fill="#000"/>
<rect x="423" y="884" width="1" height="13" fill="#000"/>
<rect x="474" y="99" width="1" height="13" fill="#000"/>
<rect x="474" y="884" width="1" height="13" fill="#000"/>
<rect x="525" y="99" width="1" height="25" fill="#000"/>
<rect x="525" y="872" width="1" height="25" fill="#000"/>
<rect x="576" y="99" width="1" height="13" fill="#000"/>
<rect x="576" y="884" width="1" height="13" fill="#000"/>
<rect x="627" y="99" width="1" height="13" fill="#000"/>
<rect x="627" y="884" width="1" height="13" fill="#000"/>
<rect x="678" y="99" width="1" height="13" fill="#000"/>
<rect x="678" y="884" width="1" height="13" fill="#000"/>
<rect x="729" y="99" width="1" height="25" fill="#000"/>
<rect x="729" y="872" width="1" height="25" fill="#000"/>
<rect x="780" y="99" width="1" height="13" fill="#000"/>
<rect x="780" y="884" width="1" height="13" fill="#000"/>
<rect x="831" y="99" width="1" height="13" fill="#000"/>
<rect x="831" y="884" width="1" height="13" fill="#000"/>
<rect x="882" y="99" width="1" height="13" fill="#000"/>
<rect x="882" y="884" width="1" height="13" fill="#000"/>
<rect x="934" y="99" width="1" height="25" fill="#000"/>
<rect x="934" y="872" width="1" height="25" fill="#000"/>
<rect x="985" y="99" width="1" height="13" fill="#000"/>
<rect x="985" y="884" width="1" height="13" fill="#000"/>
<rect x="1036" y="99" width="1" height="13" fill="#000"/>
<rect x="1036" y="884" width="1" height="13" fill="#000"/>
<rect x="1087" y="99" width="1" height="13" fill="#000"/>
<rect x="1087" y="884" width="1" height="13" fill="#000"/>
<rect x="1138" y="99" width="1" height="25" fill="#000"/>
<rect x="1138" y="872" width="1" height="25" fill="#000"/>
<rect x="127" y="871" width="16" height="1" fill="#000"/>
<rect x="1133" y="871" width="16" height="1" fill="#000"/>
<rect x="127" y="846" width="16" height="1" fill="#000"/>
<rect x="1133" y="846" width="16" height="1" fill="#000"/>
<rect x="127" y="822" width="16" height="1" fill="#000"/>
<rect x="1133" y="822" width="16" height="1" fill="#000"/>
<rect x="127" y="797" width="16" height="1" fill="#000"/>
<rect x="1133" y="797" width="16" height="1" fill="#000"/>
<rect x="127" y="772" width="32" height="1" fill="#000"/>
<rect x="1117" y="772" width="32" height="1" fill="#000"/>
<rect x="127" y="747" width="16" height="1" fill="#000"/>
<rect x="1133" y="747" width="16" height="1" fill="#000"/>
<rect x="127" y="722" width="16" height="1" fill="#000"/>
<rect x="1133" y="722" width="16" height="1" fill="#000"/>
<rect x="127" y="698" width="16" height="1" fill="#000"/>
<rect x="1133" y="698" width="16" height="1" fill="#000"/>
<rect x="127" y="673" width="16" height="1" fill="#000"/>
<rect x="1133" y="673" width="16" height="1" fill="#000"/>
<rect x="127" y="648" width="32" height="1" fill="#000"/>
<rect x="1117" y="648" width="32" height="1" fill="#000"/>
<rect x="127" y="623" width="16" height="1" fill="#000"/>
<rect x="1133" y="623" width="16" height="1" fill="#000"/>
<rect x="127" y="599" width="16" height="1" fill="#000"/>
<rect x="1133" y="599" width="16" height="1" fill="#000"/>
<rect x="127" y="574" width="16" height="1" fill="#000"/>
<rect x="1133" y="574" width="16" height="1" fill="#000"/>
<rect x="127" y="549" width="16" height="1" fill="#000"/>
<rect x="1133" y="549" width="16" height="1" fill="#000"/>
<rect x="127" y="524" width="32" height="1" fill="#000"/>
<rect x="1117" y="524" width="32" height="1" fill="#000"/>
<rect x="127" y="499" width="16" height="1" fill="#000"/>
<rect x="1133" y="499" width="16" height="1" fill="#000"/>
<rect x="127" y="475" width="16" height="1" fill="#000"/>
<rect x="1133" y="475" width="16" height="1" fill="#000"/>
<rect x="127" y="450" width="16" height="1" fill="#000"/>
<rect x="1133" y="450" width="16" height="1" fill="#000"/>
<rect x="127" y="425" width="16" height="1" fill="#000"/>
<rect x="1133" y="425" width="16" height="1" fill="#000"/>
<rect x="127" y="400" width="32" height="1" fill="#000"/>
<rect x="1117" y="400" width="32" height="1" fill="#000"/>
<rect x="127" y="376" width="16" height="1" fill="#000"/>
<rect x="1133" y="376" width="16" height="1" fill="#000"/>
<rect x="127" y="351" width="16" height="1" fill="#000"/>
<rect x="1133" y="351" width="16" height="1" fill="#000"/>
<rect x="127" y="326" width="16" height="1" fill="#000"/>
<rect x="1133" y="326" width="16" height="1" fill="#000"/>
<rect x="127" y="301" width="16" height="1" fill="#000"/>
<rect x="1133" y="301" width="16" height="1" fill="#000"/>
<rect x="127" y="276" width="32" height="1" fill="#000"/>
<rect x="1117" y="276" width="32" height="1" fill="#000"/>
<rect x="127" y="252" width="16" height="1" fill="#000"/>
<rect x="1133" y="252" width="16" height="1" fill="#000"/>
<rect x="127" y="227" width="16" height="1" fill="#000"/>
<rect x="1133" y="227" width="16" height="1" fill="#000"/>
<rect x="127" y="202" width="16" height="1" fill="#000"/>
<rect x="1133" y="202" width="16" height="1" fill="#000"/>
<rect x="127" y="177" width="16" height="1" fill="#000"/>
<rect x="1133" y="177" width="16" height="1" fill="#000"/>
<rect x="127" y="153" width="32" height="1" fill="#000"/>
<rect x="1117" y="153" width="32" height="1" fill="#000"/>
<rect x="127" y="128" width="16" height="1" fill="#000"/>
<rect x="1133" y="128" width="16" height="1" fill="#000"/>
<rect x="127" y="103" width="16" height="1" fill="#000"/>
<rect x="1133" y="103" width="16" height="1" fill="#000"/>
<rect x="128" y="691" width="2" height="1" fill="#ff0000"/>
<rect x="135" y="691" width="3" height="1" fill="#ff0000"/>
<rect x="132" y="681" width="1" height="20" fill="#ff0000"/>
<path fill="#ff0000" d="M132 688h1v1h-1zM131 689h2v1h-2zM131 690h3v1h-3zM130 691h4v1h-4zM130 692h5v1h-5zM129 693h6v1h-6z"/>
<rect x="137" y="155" width="3" height="1" fill="#ff0000"/>
<rect x="145" y="155" width="3" height="1" fill="#ff0000"/>
<rect x="142" y="137" width="1" height="37" fill="#ff0000"/>
<path fill="#ff0000" d="M142 152h1v1h-1zM141 153h2v1h-2zM141 154h3v1h-3zM140 155h4v1h-4zM140 156h5v1h-5zM139 157h6v1h-6z"/>
<rect x="148" y="440" width="3" height="1" fill="#ff0000"/>
<rect x="156" y="440" width="3" height="1" fill="#ff0000"/>
<rect x="153" y="425" width="1" height="30" fill="#ff0000"/>
<path fill="#ff0000" d="M153 437h1v1h-1zM152 438h2v1h-2zM152 439h3v1h-3zM151 440h4v1h-4zM151 441h5v1h-5zM150 442h6v1h-6z"/>
<rect x="158" y="628" width="3" height="1" fill="#ff0000"/>
<rect x="166" y="628" width="3" height="1" fill="#ff0000"/>
<rect x="163" y="617" width="1" height="19" fill="#ff0000"/>
<path fill="#ff0000" d="M163 625h1v1h-1zM162 626h2v1h-2zM162 627h3v1h-3zM161 628h4v1h-4zM161 629h5v1h-5zM160 630h6v1h-6z"/>
<rect x="168" y="723" width="3" height="1" fill="#ff0000"/>
<rect x="176" y="723" width="3" height="1" fill="#ff0000"/>
<rect x="173" y="714" width="1" height="19" fill="#ff0000"/>
<path fill="#ff0000" d="M173 720h1v1h-1zM172 721h2v1h-2zM172 722h3v1h-3zM171 723h4v1h-4zM171 724h5v1h-5zM170 725h6v1h-6z"/>
<rect x="178" y="781" width="3" height="1" fill="#ff0000"/>
<rect x="186" y="781" width="3" height="1" fill="#ff0000"/>
<rect x="183" y="774" width="1" height="15" fill="#ff0000"/>
<path fill="#ff0000" d="M183 778h1v1h-1zM182 779h2v1h-2zM182 780h3v1h-3zM181 781h4v1h-4zM181 782h5v1h-5zM180 783h6v1h-6z"/>
<rect x="188" y="809" width="3" height="1" fill="#ff0000"/>
<rect x="196" y="809" width="3" height="1" fill="#ff0000"/>
<rect x="193" y="803" width="1" height="13" fill="#ff0000"/>
<path fill="#ff0000" d="M193 806h1v1h-1zM192 807h2v1h-2zM192 808h3v1h-3zM191 809h4v1h-4zM191 810h5v1h-5zM190 811h6v1h-6z"/>
<rect x="199" y="821" width="3" height="1" fill="#ff0000"/>
<rect x="207" y="821" width="3" height="1" fill="#ff0000"/>
<rect x="204" y="816" width="1" height="11" fill="#ff0000"/>
<path fill="#ff0000" d="M204 818h1v1h-1zM203 819h2v1h-2zM203 820h3v1h-3zM202 821h4v1h-4zM202 822h5v1h-5zM201 823h6v1h-6z"/>
<rect x="209" y="846" width="3" height="1" fill="#ff0000"/>
<rect x="217" y="846" width="3" height="1" fill="#ff0000"/>
<rect x="214" y="841" width="1" height="11" fill="#ff0000"/>
<path fill="#ff0000" d="M214 843h1v1h-1zM213 844h2v1h-2zM213 845h3v1h-3zM212 846h4v1h-4zM212 847h5v1h-5zM211 848h6v1h-6z"/>
<rect x="219" y="868" width="3" height="1" fill="#ff0000"/>
<rect x="227" y="868" width="3" height="1" fill="#ff0000"/>
<rect x="224" y="864" width="1" height="9" fill="#ff0000"/>
<path fill="#ff0000" d="M224 865h1v1h-1zM223 866h2v1h-2zM223 867h3v1h-3zM222 868h4v1h-4zM222 869h5v1h-5zM221 870h6v1h-6z"/>
<rect x="229" y="860" width="3" height="1" fill="#ff0000"/>
<rect x="237" y="860" width="3" height="1" fill="#ff0000"/>
<rect x="234" y="856" width="1" height="9" fill="#ff0000"/>
<path fill="#ff0000" d="M234 857h1v1h-1zM233 858h2v1h-2zM233 859h3v1h-3zM232 860h4v1h-4zM232 861h5v1h-5zM231 862h6v1h-6z"/>
<rect x="240" y="873" width="3" height="1" fill="#ff0000"/>
<rect x="248" y="873" width="3" height="1" fill="#ff0000"/>
<rect x="245" y="870" width="1" height="7" fill="#ff0000"/>
<path fill="#ff0000" d="M245 870h1v1h-1zM244 871h2v1h-2zM244 872h3v1h-3zM243 873h4v1h-4zM243 874h5v1h-5zM242 875h6v1h-6z"/>
<rect x="250" y="874" width="3" height="1" fill="#ff0000"/>
<rect x="258" y="874" width="3" height="1" fill="#ff0000"/>
<rect x="255" y="871" width="1" height="7" fill="#ff0000"/>
<path fill="#ff0000" d="M255 871h1v1h-1zM254 872h2v1h-2zM254 873h3v1h-3zM253 874h4v1h-4zM253 875h5v1h-5zM252 876h6v1h-6z"/>
<rect x="260" y="878" width="3" height="1" fill="#ff0000"/>
<rect x="268" y="878" width="3" height="1" fill="#ff0000"/>
<rect x="265" y="875" width="1" height="7" fill="#ff0000"/>
<path fill="#ff0000" d="M265 875h1v1h-1zM264 876h2v1h-2zM264 877h3v1h-3zM263 878h4v1h-4zM263 879h5v1h-5zM262 880h6v1h-6z"/>
<rect x="270" y="879" width="3" height="1" fill="#ff0000"/>
<rect x="278" y="879" width="3" height="1" fill="#ff0000"/>
<rect x="275" y="876" width="1" height="7" fill="#ff0000"/>
<path fill="#ff0000" d="M275 876h1v1h-1zM274 877h2v1h-2zM274 878h3v1h-3zM273 879h4v1h-4zM273 880h5v1h-5zM272 881h6v1h-6z"/>
<rect x="280" y="882" width="3" height="1" fill="#ff0000"/>
<rect x="288" y="882" width="3" height="1" fill="#ff0000"/>
<rect x="285" y="880" width="1" height="5" fill="#ff0000"/>
<path fill="#ff0000" d="M285 879h1v1h-1zM284 880h2v1h-2zM284 881h3v1h-3zM283 882h4v1h-4zM283 883h5v1h-5zM282 884h6v1h-6z"/>
<rect x="291" y="884" width="3" height="1" fill="#ff0000"/>
<rect x="299" y="884" width="3" height="1" fill="#ff0000"/>
<rect x="296" y="882" width="1" height="5" fill="#ff0000"/>
<path fill="#ff0000" d="M296 881h1v1h-1zM295 882h2v1h-2zM295 883h3v1h-3zM294 884h4v1h-4zM294 885h5v1h-5zM293 886h6v1h-6z"/>
<rect x="301" y="885" width="3" height="1" fill="#ff0000"/>
<rect x="309" y="885" width="3" height="1" fill="#ff0000"/>
<rect x="306" y="883" width="1" height="5" fill="#ff0000"/>
<path fill="#ff0000" d="M306 882h1v1h-1zM305 883h2v1h-2zM305 884h3v1h-3zM304 885h4v1h-4zM304 886h5v1h-5zM303 887h6v1h-6z"/>
<rect x="311" y="887" width="3" height="1" fill="#ff0000"/>
<rect x="319" y="887" width="3" height="1" fill="#ff0000"/>
<rect x="316" y="885" width="1" height="5" fill="#ff0000"/>
<path fill="#ff0000" d="M316 884h1v1h-1zM315 885h2v1h-2zM315 886h3v1h-3zM314 887h4v1h-4zM314 888h5v1h-5zM313 889h6v1h-6z"/>
<rect x="321" y="889" width="3" height="1" fill="#ff0000"/>
<rect x="329" y="889" width="3" height="1" fill="#ff0000"/>
<rect x="326" y="887" width="1" height="5" fill="#ff0000"/>
<path fill="#ff0000" d="M326 886h1v1h-1zM325 887h2v1h-2zM325 888h3v1h-3zM324 889h4v1h-4zM324 890h5v1h-5zM323 891h6v1h-6z"/>
<rect x="331" y="889" width="3" height="1" fill="#ff0000"/>
<rect x="339" y="889" width="3" height="1" fill="#ff0000"/>
<rect x="336" y="887" width="1" height="5" fill="#ff0000"/>
<path fill="#ff0000" d="M336 886h1v1h-1zM335 887h2v1h-2zM335 888h3v1h-3zM334 889h4v1h-4zM334 890h5v1h-5zM333 891h6v1h-6z"/>
<rect x="342" y="890" width="3" height="1" fill="#ff0000"/>
<rect x="350" y="890" width="3" height="1" fill="#ff0000"/>
<rect x="347" y="888" width="1" height="5" fill="#ff0000"/>
<path fill="#ff0000" d="M347 887h1v1h-1zM346 888h2v1h-2zM346 889h3v1h-3zM345 890h4v1h-4zM345 891h5v1h-5zM344 892h6v1h-6z"/>
<rect x="352" y="890" width="3" height="1" fill="#ff0000"/>
<rect x="360" y="890" width="3" height="1" fill="#ff0000"/>
<rect x="357" y="888" width="1" height="5" fill="#ff0000"/>
<path fill="#ff0000" d="M357 887h1v1h-1zM356 888h2v1h-2zM356 889h3v1h-3zM355 890h4v1h-4zM355 891h5v1h-5zM354 892h6v1h-6z"/>
<rect x="362" y="891" width="3" height="1" fill="#ff0000"/>
<rect x="370" y="891" width="3" height="1" fill="#ff0000"/>
<rect x="367" y="889" width="1" height="5" fill="#ff0000"/>
<path fill="#ff0000" d="M367 888h1v1h-1zM366 889h2v1h-2zM366 890h3v1h-3zM365 891h4v1h-4zM365 892h5v1h-5zM364 893h6v1h-6z"/>
<rect x="372" y="891" width="3" height="1" fill="#ff0000"/>
<rect x="380" y="891" width="3" height="1" fill="#ff0000"/>
<rect x="377" y="889" width="1" height="5" fill="#ff0000"/>
<path fill="#ff0000" d="M377 888h1v1h-1zM376 889h2v1h-2zM376 890h3v1h-3zM375 891h4v1h-4zM375 892h5v1h-5zM374 893h6v1h-6z"/>
<rect x="383" y="891" width="3" height="1" fill="#ff0000"/>
<rect x="391" y="891" width="3" height="1" fill="#ff0000"/>
<rect x="388" y="889" width="1" height="5" fill="#ff0000"/>
<path fill="#ff0000" d="M388 888h1v1h-1zM387 889h2v1h-2zM387 890h3v1h-3zM386 891h4v1h-4zM386 892h5v1h-5zM385 893h6v1h-6z"/>
<rect x="393" y="891" width="3" height="1" fill="#ff0000"/>
<rect x="401" y="891" width="3" height="1" fill="#ff0000"/>
<rect x="398" y="889" width="1" height="5" fill="#ff0000"/>
<path fill="#ff0000" d="M398 888h1v1h-1zM397 889h2v1h-2zM397 890h3v1h-3zM396 891h4v1h-4zM396 892h5v1h-5zM395 893h6v1h-6z"/>
<rect x="403" y="892" width="3" height="1" fill="#ff0000"/>
<rect x="411" y="892" width="3" height="1" fill="#ff0000"/>
<rect x="408" y="890" width="1" height="5" fill="#ff0000"/>
<path fill="#ff0000" d="M408 889h1v1h-1zM407 890h2v1h-2zM407 891h3v1h-3zM406 892h4v1h-4zM406 893h5v1h-5zM405 894h6v1h-6z"/>
<rect x="413" y="892" width="3" height="1" fill="#ff0000"/>
<rect x="421" y="892" width="3" height="1" fill="#ff0000"/>
<rect x="418" y="890" width="1" height="5" fill="#ff0000"/>
<path fill="#ff0000" d="M418 889h1v1h-1zM417 890h2v1h-2zM417 891h3v1h-3zM416 892h4v1h-4zM416 893h5v1h-5zM415 894h6v1h-6z"/>
<rect x="423" y="892" width="3" height="1" fill="#ff0000"/>
<rect x="431" y="892" width="3" height="1" fill="#ff0000"/>
<rect x="428" y="890" width="1" height="5" fill="#ff0000"/>
<path fill="#ff0000" d="M428 889h1v1h-1zM427 890h2v1h-2zM427 891h3v1h-3zM426 892h4v1h-4zM426 893h5v1h-5zM425 894h6v1h-6z"/>
<rect x="434" y="893" width="3" height="1" fill="#ff0000"/>
<rect x="442" y="893" width="3" height="1" fill="#ff0000"/>
<rect x="439" y="891" width="1" height="5" fill="#ff0000"/>
<path fill="#ff0000" d="M439 890h1v1h-1zM438 891h2v1h-2zM438 892h3v1h-3zM437 893h4v1h-4zM437 894h5v1h-5zM436 895h6v1h-6z"/>
<rect x="444" y="893" width="3" height="1" fill="#ff0000"/>
<rect x="452" y="893" width="3" height="1" fill="#ff0000"/>
<rect x="449" y="891" width="1" height="5" fill="#ff0000"/>
<path fill="#ff0000" d="M449 890h1v1h-1zM448 891h2v1h-2zM448 892h3v1h-3zM447 893h4v1h-4zM447 894h5v1h-5zM446 895h6v1h-6z"/>
<rect x="454" y="894" width="3" height="1" fill="#ff0000"/>
<rect x="462" y="894" width="3" height="1" fill="#ff0000"/>
<rect x="459" y="892" width="1" height="5" fill="#ff0000"/>
<path fill="#ff0000" d="M459 891h1v1h-1zM458 892h2v1h-2zM458 893h3v1h-3zM457 894h4v1h-4zM457 895h5v1h-5zM456 896h6v1h-6z"/>
<rect x="464" y="893" width="3" height="1" fill="#ff0000"/>
<rect x="472" y="893" width="3" height="1" fill="#ff0000"/>
<rect x="469" y="891" width="1" height="5" fill="#ff0000"/>
<path fill="#ff0000" d="M469 890h1v1h-1zM468 891h2v1h-2zM468 892h3v1h-3zM467 893h4v1h-4zM467 894h5v1h-5zM466 895h6v1h-6z"/>
<rect x="474" y="894" width="3" height="1" fill="#ff0000"/>
<rect x="482" y="894" width="3" height="1" fill="#ff0000"/>
<rect x="479" y="892" width="1" height="5" fill="#ff0000"/>
<path fill="#ff0000" d="M479 891h1v1h-1zM478 892h2v1h-2zM478 893h3v1h-3zM477 894h4v1h-4zM477 895h5v1h-5zM476 896h6v1h-6z"/>
<rect x="485" y="893" width="3" height="1" fill="#ff0000"/>
<rect x="493" y="893" width="3" height="1" fill="#ff0000"/>
<rect x="490" y="891" width="1" height="5" fill="#ff0000"/>
<path fill="#ff0000" d="M490 890h1v1h-1zM489 891h2v1h-2zM489 892h3v1h-3zM488 893h4v1h-4zM488 894h5v1h-5zM487 895h6v1h-6z"/>
<rect x="495" y="894" width="3" height="1" fill="#ff0000"/>
<rect x="503" y="894" width="3" height="1" fill="#ff0000"/>
<rect x="500" y="892" width="1" height="5" fill="#ff0000"/>
<path fill="#ff0000" d="M500 891h1v1h-1zM499 892h2v1h-2zM499 893h3v1h-3zM498 894h4v1h-4zM498 895h5v1h-5zM497 896h6v1h-6z"/>
<rect x="505" y="894" width="3" height="1" fill="#ff0000"/>
<rect x="513" y="894" width="3" height="1" fill="#ff0000"/>
<rect x="510" y="892" width="1" height="5" fill="#ff0000"/>
<path fill="#ff0000" d="M510 891h1v1h-1zM509 892h2v1h-2zM509 893h3v1h-3zM508 894h4v1h-4zM508 895h5v1h-5zM507 896h6v1h-6z"/>
<rect x="515" y="894" width="3" height="1" fill="#ff0000"/>
<rect x="523" y="894" width="3" height="1" fill="#ff0000"/>
<rect x="520" y="892" width="1" height="5" fill="#ff0000"/>
<path fill="#ff0000" d="M520 891h1v1h-1zM519 892h2v1h-2zM519 893h3v1h-3zM518 894h4v1h-4zM518 895h5v1h-5zM517 896h6v1h-6z"/>
<rect x="525" y="894" width="3" height="1" fill="#ff0000"/>
<rect x="533" y="894" width="3" height="1" fill="#ff0000"/>
<rect x="530" y="892" width="1" height="5" fill="#ff0000"/>
<path fill="#ff0000" d="M530 891h1v1h-1zM529 892h2v1h-2zM529 893h3v1h-3zM528 894h4v1h-4zM528 895h5v1h-5zM527 896h6v1h-6z"/>
<rect x="536" y="894" width="3" height="1" fill="#ff0000"/>
<rect x="544" y="894" width="3" height="1" fill="#ff0000"/>
<rect x="541" y="892" width="1" height="5" fill="#ff0000"/>
<path fill="#ff0000" d="M541 891h1v1h-1zM540 892h2v1h-2zM540 893h3v1h-3zM539 894h4v1h-4zM539 895h5v1h-5zM538 896h6v1h-6z"/>
<rect x="546" y="893" width="3" height="1" fill="#ff0000"/>
<rect x="554" y="893" width="3" height="1" fill="#ff0000"/>
<rect x="551" y="891" width="1" height="5" fill="#ff0000"/>
<path fill="#ff0000" d="M551 890h1v1h-1zM550 891h2v1h-2zM550 892h3v1h-3zM549 893h4v1h-4zM549 894h5v1h-5zM548 895h6v1h-6z"/>
<rect x="556" y="894" width="3" height="1" fill="#ff0000"/>
<rect x="564" y="894" width="3" height="1" fill="#ff0000"/>
<rect x="561" y="892" width="1" height="5" fill="#ff0000"/>
<path fill="#ff0000" d="M561 891h1v1h-1zM560 892h2v1h-2zM560 893h3v1h-3zM559 894h4v1h-4zM559 895h5v1h-5zM558 896h6v1h-6z"/>
<rect x="566" y="894" width="3" height="1" fill="#ff0000"/>
<rect x="574" y="894" width="3" height="1" fill="#ff0000"/>
<rect x="571" y="892" width="1" height="5" fill="#ff0000"/>
<path fill="#ff0000" d="M571 891h1v1h-1zM570 892h2v1h-2zM570 893h3v1h-3zM569 894h4v1h-4zM569 895h5v1h-5zM568 896h6v1h-6z"/>
<rect x="577" y="894" width="3" height="1" fill="#ff0000"/>
<rect x="585" y="894" width="3" height="1" fill="#ff0000"/>
<rect x="582" y="892" width="1" height="5" fill="#ff0000"/>
<path fill="#ff0000" d="M582 891h1v1h-1zM581 892h2v1h-2zM581 893h3v1h-3zM580 894h4v1h-4zM580 895h5v1h-5zM579 896h6v1h-6z"/>
<rect x="587" y="893" width="3" height="1" fill="#ff0000"/>
<rect x="595" y="893" width="3" height="1" fill="#ff0000"/>
<rect x="592" y="891" width="1" height="5" fill="#ff0000"/>
<path fill="#ff0000" d="M592 890h1v1h-1zM591 891h2v1h-2zM591 892h3v1h-3zM590 893h4v1h-4zM590 894h5v1h-5zM589 895h6v1h-6z"/>
<rect x="597" y="895" width="3" height="1" fill="#ff0000"/>
<rect x="605" y="895" width="3" height="1" fill="#ff0000"/>
<rect x="602" y="893" width="1" height="5" fill="#ff0000"/>
<path fill="#ff0000" d="M602 892h1v1h-1zM601 893h2v1h-2zM601 894h3v1h-3zM600 895h4v1h-4zM600 896h5v1h-5zM599 897h6v1h-6z"/>
<rect x="607" y="894" width="3" height="1" fill="#ff0000"/>
<rect x="615" y="894" width="3" height="1" fill="#ff0000"/>
<rect x="612" y="892" width="1" height="5" fill="#ff0000"/>
<path fill="#ff0000" d="M612 891h1v1h-1zM611 892h2v1h-2zM611 893h3v1h-3zM610 894h4v1h-4zM610 895h5v1h-5zM609 896h6v1h-6z"/>
<rect x="617" y="895" width="3" height="1" fill="#ff0000"/>
<rect x="625" y="895" width="3" height="1" fill="#ff0000"/>
<rect x="622" y="893" width="1" height="5" fill="#ff0000"/>
<path fill="#ff0000" d="M622 892h1v1h-1zM621 893h2v1h-2zM621 894h3v1h-3zM620 895h4v1h-4zM620 896h5v1h-5zM619 897h6v1h-6z"/>
<rect x="628" y="895" width="3" height="1" fill="#ff0000"/>
<rect x="636" y="895" width="3" height="1" fill="#ff0000"/>
<rect x="633" y="893" width="1" height="5" fill="#ff0000"/>
<path fill="#ff0000" d="M633 892h1v1h-1zM632 893h2v1h-2zM632 894h3v1h-3zM631 895h4v1h-4zM631 896h5v1h-5zM630 897h6v1h-6z"/>
<rect x="638" y="895" width="3" height="1" fill="#ff0000"/>
<rect x="646" y="895" width="3" height="1" fill="#ff0000"/>
<rect x="643" y="893" width="1" height="5" fill="#ff0000"/>
<path fill="#ff0000" d="M643 892h1v1h-1zM642 893h2v1h-2zM642 894h3v1h-3zM641 895h4v1h-4zM641 896h5v1h-5zM640 897h6v1h-6z"/>
<rect x="648" y="895" width="3" height="1" fill="#ff0000"/>
<rect x="656" y="895" width="3" height="1" fill="#ff0000"/>
<rect x="653" y="893" width="1" height="5" fill="#ff0000"/>
<path fill="#ff0000" d="M653 892h1v1h-1zM652 893h2v1h-2zM652 894h3v1h-3zM651 895h4v1h-4zM651 896h5v1h-5zM650 897h6v1h-6z"/>
<rect x="658" y="894" width="3" height="1" fill="#ff0000"/>
<rect x="666" y="894" width="3" height="1" fill="#ff0000"/>
<rect x="663" y="892" width="1" height="5" fill="#ff0000"/>
<path fill="#ff0000" d="M663 891h1v1h-1zM662 892h2v1h-2zM662 893h3v1h-3zM661 894h4v1h-4zM661 895h5v1h-5zM660 896h6v1h-6z"/>
<rect x="668" y="895" width="3" height="1" fill="#ff0000"/>
<rect x="676" y="895" width="3" height="1" fill="#ff0000"/>
<rect x="673" y="893" width="1" height="5" fill="#ff0000"/>
<path fill="#ff0000" d="M673 892h1v1h-1zM672 893h2v1h-2zM672 894h3v1h-3zM671 895h4v1h-4zM671 896h5v1h-5zM670 897h6v1h-6z"/>
<rect x="679" y="894" width="3" height="1" fill="#ff0000"/>
<rect x="687" y="894" width="3" height="1" fill="#ff0000"/>
<rect x="684" y="892" width="1" height="5" fill="#ff0000"/>
<path fill="#ff0000" d="M684 891h1v1h-1zM683 892h2v1h-2zM683 893h3v1h-3zM682 894h4v1h-4zM682 895h5v1h-5zM681 896h6v1h-6z"/>
<rect x="689" y="895" width="3" height="1" fill="#ff0000"/>
<rect x="697" y="895" width="3" height="1" fill="#ff0000"/>
<rect x="694" y="893" width="1" height="5" fill="#ff0000"/>
<path fill="#ff0000" d="M694 892h1v1h-1zM693 893h2v1h-2zM693 894h3v1h-3zM692 895h4v1h-4zM692 896h5v1h-5zM691 897h6v1h-6z"/>
<rect x="699" y="895" width="3" height="1" fill="#ff0000"/>
<rect x="707" y="895" width="3" height="1" fill="#ff0000"/>
<rect x="704" y="893" width="1" height="5" fill="#ff0000"/>
<path fill="#ff0000" d="M704 892h1v1h-1zM703 893h2v1h-2zM703 894h3v1h-3zM702 895h4v1h-4zM702 896h5v1h-5zM701 897h6v1h-6z"/>
<rect x="709" y="894" width="3" height="1" fill="#ff0000"/>
<rect x="717" y="894" width="3" height="1" fill="#ff0000"/>
<rect x="714" y="892" width="1" height="5" fill="#ff0000"/>
<path fill="#ff0000" d="M714 891h1v1h-1zM713 892h2v1h-2zM713 893h3v1h-3zM712 894h4v1h-4zM712 895h5v1h-5zM711 896h6v1h-6z"/>
<rect x="720" y="894" width="3" height="1" fill="#ff0000"/>
<rect x="728" y="894" width="3" height="1" fill="#ff0000"/>
<rect x="725" y="892" width="1" height="5" fill="#ff0000"/>
<path fill="#ff0000" d="M725 891h1v1h-1zM724 892h2v1h-2zM724 893h3v1h-3zM723 894h4v1h-4zM723 895h5v1h-5zM722 896h6v1h-6z"/>
<rect x="730" y="894" width="3" height="1" fill="#ff0000"/>
<rect x="738" y="894" width="3" height="1" fill="#ff0000"/>
<rect x="735" y="892" width="1" height="5" fill="#ff0000"/>
<path fill="#ff0000" d="M735 891h1v1h-1zM734 892h2v1h-2zM734 893h3v1h-3zM733 894h4v1h-4zM733 895h5v1h-5zM732 896h6v1h-6z"/>
<rect x="740" y="895" width="3" height="1" fill="#ff0000"/>
<rect x="748" y="895" width="3" height="1" fill="#ff0000"/>
<rect x="745" y="893" width="1" height="5" fill="#ff0000"/>
<path fill="#ff0000" d="M745 892h1v1h-1zM744 893h2v1h-2zM744 894h3v1h-3zM743 895h4v1h-4zM743 896h5v1h-5zM742 897h6v1h-6z"/>
<rect x="750" y="895" width="3" height="1" fill="#ff0000"/>
<rect x="758" y="895" width="3" height="1" fill="#ff0000"/>
<rect x="755" y="893" width="1" height="5" fill="#ff0000"/>
<path fill="#ff0000" d="M755 892h1v1h-1zM754 893h2v1h-2zM754 894h3v1h-3zM753 895h4v1h-4zM753 896h5v1h-5zM752 897h6v1h-6z"/>
<rect x="760" y="895" width="3" height="1" fill="#ff0000"/>
<rect x="768" y="895" width="3" height="1" fill="#ff0000"/>
<rect x="765" y="893" width="1" height="5" fill="#ff0000"/>
<path fill="#ff0000" d="M765 892h1v1h-1zM764 893h2v1h-2zM764 894h3v1h-3zM763 895h4v1h-4zM763 896h5v1h-5zM762 897h6v1h-6z"/>
<rect x="771" y="894" width="3" height="1" fill="#ff0000"/>
<rect x="779" y="894" width="3" height="1" fill="#ff0000"/>
<rect x="776" y="892" width="1" height="5" fill="#ff0000"/>
<path fill="#ff0000" d="M776 891h1v1h-1zM775 892h2v1h-2zM775 893h3v1h-3zM774 894h4v1h-4zM774 895h5v1h-5zM773 896h6v1h-6z"/>
<rect x="781" y="895" width="3" height="1" fill="#ff0000"/>
<rect x="789" y="895" width="3" height="1" fill="#ff0000"/>
<rect x="786" y="893" width="1" height="5" fill="#ff0000"/>
<path fill="#ff0000" d="M786 892h1v1h-1zM785 893h2v1h-2zM785 894h3v1h-3zM784 895h4v1h-4zM784 896h5v1h-5zM783 897h6v1h-6z"/>
<rect x="791" y="895" width="3" height="1" fill="#ff0000"/>
<rect x="799" y="895" width="3" height="1" fill="#ff0000"/>
<rect x="796" y="893" width="1" height="5" fill="#ff0000"/>
<path fill="#ff0000" d="M796 892h1v1h-1zM795 893h2v1h-2zM795 894h3v1h-3zM794 895h4v1h-4zM794 896h5v1h-5zM793 897h6v1h-6z"/>
<rect x="801" y="894" width="3" height="1" fill="#ff0000"/>
<rect x="809" y="894" width="3" height="1" fill="#ff0000"/>
<rect x="806" y="892" width="1" height="5" fill="#ff0000"/>
<path fill="#ff0000" d="M806 891h1v1h-1zM805 892h2v1h-2zM805 893h3v1h-3zM804 894h4v1h-4zM804 895h5v1h-5zM803 896h6v1h-6z"/>
<rect x="811" y="895" width="3" height="1" fill="#ff0000"/>
<rect x="819" y="895" width="3" height="1" fill="#ff0000"/>
<rect x="816" y="893" width="1" height="5" fill="#ff0000"/>
<path fill="#ff0000" d="M816 892h1v1h-1zM815 893h2v1h-2zM815 894h3v1h-3zM814 895h4v1h-4zM814 896h5v1h-5zM813 897h6v1h-6z"/>
<rect x="822" y="895" width="3" height="1" fill="#ff0000"/>
<rect x="830" y="895" width="3" height="1" fill="#ff0000"/>
<rect x="827" y="893" width="1" height="5" fill="#ff0000"/>
<path fill="#ff0000" d="M827 892h1v1h-1zM826 893h2v1h-2zM826 894h3v1h-3zM825 895h4v1h-4zM825 896h5v1h-5zM824 897h6v1h-6z"/>
<rect x="832" y="895" width="3" height="1" fill="#ff0000"/>
<rect x="840" y="895" width="3" height="1" fill="#ff0000"/>
<rect x="837" y="893" width="1" height="5" fill="#ff0000"/>
<path fill="#ff0000" d="M837 892h1v1h-1zM836 893h2v1h-2zM836 894h3v1h-3zM835 895h4v1h-4zM835 896h5v1h-5zM834 897h6v1h-6z"/>
<rect x="842" y="895" width="3" height="1" fill="#ff0000"/>
<rect x="850" y="895" width="3" height="1" fill="#ff0000"/>
<rect x="847" y="893" width="1" height="5" fill="#ff0000"/>
<path fill="#ff0000" d="M847 892h1v1h-1zM846 893h2v1h-2zM846 894h3v1h-3zM845 895h4v1h-4zM845 896h5v1h-5zM844 897h6v1h-6z"/>
<rect x="852" y="896" width="3" height="1" fill="#ff0000"/>
<rect x="860" y="896" width="3" height="1" fill="#ff0000"/>
<rect x="857" y="894" width="1" height="5" fill="#ff0000"/>
<path fill="#ff0000" d="M857 893h1v1h-1zM856 894h2v1h-2zM856 895h3v1h-3zM855 896h4v1h-4zM855 897h5v1h-5zM854 898h6v1h-6z"/>
<rect x="863" y="895" width="3" height="1" fill="#ff0000"/>
<rect x="871" y="895" width="3" height="1" fill="#ff0000"/>
<rect x="868" y="893" width="1" height="5" fill="#ff0000"/>
<path fill="#ff0000" d="M868 892h1v1h-1zM867 893h2v1h-2zM867 894h3v1h-3zM866 895h4v1h-4zM866 896h5v1h-5zM865 897h6v1h-6z"/>
<rect x="873" y="896" width="3" height="1" fill="#ff0000"/>
<rect x="881" y="896" width="3" height="1" fill="#ff0000"/>
<rect x="878" y="894" width="1" height="5" fill="#ff0000"/>
<path fill="#ff0000" d="M878 893h1v1h-1zM877 894h2v1h-2zM877 895h3v1h-3zM876 896h4v1h-4zM876 897h5v1h-5zM875 898h6v1h-6z"/>
<rect x="883" y="895" width="3" height="1" fill="#ff0000"/>
<rect x="891" y="895" width="3" height="1" fill="#ff0000"/>
<rect x="888" y="893" width="1" height="5" fill="#ff0000"/>
<path fill="#ff0000" d="M888 892h1v1h-1zM887 893h2v1h-2zM887 894h3v1h-3zM886 895h4v1h-4zM886 896h5v1h-5zM885 897h6v1h-6z"/>
<rect x="893" y="894" width="3" height="1" fill="#ff0000"/>
<rect x="901" y="894" width="3" height="1" fill="#ff0000"/>
<rect x="898" y="892" width="1" height="5" fill="#ff0000"/>
<path fill="#ff0000" d="M898 891h1v1h-1zM897 892h2v1h-2zM897 893h3v1h-3zM896 894h4v1h-4zM896 895h5v1h-5zM895 896h6v1h-6z"/>
<rect x="903" y="895" width="3" height="1" fill="#ff0000"/>
<rect x="911" y="895" width="3" height="1" fill="#ff0000"/>
<rect x="908" y="893" width="1" height="5" fill="#ff0000"/>
<path fill="#ff0000" d="M908 892h1v1h-1zM907 893h2v1h-2zM907 894h3v1h-3zM906 895h4v1h-4zM906 896h5v1h-5zM905 897h6v1h-6z"/>
<rect x="914" y="896" width="3" height="1" fill="#ff0000"/>
<rect x="922" y="896" width="3" height="1" fill="#ff0000"/>
<rect x="919" y="894" width="1" height="5" fill="#ff0000"/>
<path fill="#ff0000" d="M919 893h1v1h-1zM918 894h2v1h-2zM918 895h3v1h-3zM917 896h4v1h-4zM917 897h5v1h-5zM916 898h6v1h-6z"/>
<rect x="924" y="896" width="3" height="1" fill="#ff0000"/>
<rect x="932" y="896" width="3" height="1" fill="#ff0000"/>
<rect x="929" y="894" width="1" height="5" fill="#ff0000"/>
<path fill="#ff0000" d="M929 893h1v1h-1zM928 894h2v1h-2zM928 895h3v1h-3zM927 896h4v1h-4zM927 897h5v1h-5zM926 898h6v1h-6z"/>
<rect x="934" y="895" width="3" height="1" fill="#ff0000"/>
<rect x="942" y="895" width="3" height="1" fill="#ff0000"/>
<rect x="939" y="893" width="1" height="5" fill="#ff0000"/>
<path fill="#ff0000" d="M939 892h1v1h-1zM938 893h2v1h-2zM938 894h3v1h-3zM937 895h4v1h-4zM937 896h5v1h-5zM936 897h6v1h-6z"/>
<rect x="944" y="895" width="3" height="1" fill="#ff0000"/>
<rect x="952" y="895" width="3" height="1" fill="#ff0000"/>
<rect x="949" y="893" width="1" height="5" fill="#ff0000"/>
<path fill="#ff0000" d="M949 892h1v1h-1zM948 893h2v1h-2zM948 894h3v1h-3zM947 895h4v1h-4zM947 896h5v1h-5zM946 897h6v1h-6z"/>
<rect x="954" y="895" width="3" height="1" fill="#ff0000"/>
<rect x="962" y="895" width="3" height="1" fill="#ff0000"/>
<rect x="959" y="893" width="1" height="5" fill="#ff0000"/>
<path fill="#ff0000" d="M959 892h1v1h-1zM958 893h2v1h-2zM958 894h3v1h-3zM957 895h4v1h-4zM957 896h5v1h-5zM956 897h6v1h-6z"/>
<rect x="965" y="896" width="3" height="1" fill="#ff0000"/>
<rect x="973" y="896" width="3" height="1" fill="#ff0000"/>
<rect x="970" y="894" width="1" height="5" fill="#ff0000"/>
<path fill="#ff0000" d="M970 893h1v1h-1zM969 894h2v1h-2zM969 895h3v1h-3zM968 896h4v1h-4zM968 897h5v1h-5zM967 898h6v1h-6z"/>
<rect x="975" y="895" width="3" height="1" fill="#ff0000"/>
<rect x="983" y="895" width="3" height="1" fill="#ff0000"/>
<rect x="980" y="893" width="1" height="5" fill="#ff0000"/>
<path fill="#ff0000" d="M980 892h1v1h-1zM979 893h2v1h-2zM979 894h3v1h-3zM978 895h4v1h-4zM978 896h5v1h-5zM977 897h6v1h-6z"/>
<rect x="985" y="895" width="3" height="1" fill="#ff0000"/>
<rect x="993" y="895" width="3" height="1" fill="#ff0000"/>
<rect x="990" y="893" width="1" height="5" fill="#ff0000"/>
<path fill="#ff0000" d="M990 892h1v1h-1zM989 893h2v1h-2zM989 894h3v1h-3zM988 895h4v1h-4zM988 896h5v1h-5zM987 897h6v1h-6z"/>
<rect x="995" y="894" width="3" height="1" fill="#ff0000"/>
<rect x="1003" y="894" width="3" height="1" fill="#ff0000"/>
<rect x="1000" y="892" width="1" height="5" fill="#ff0000"/>
<path fill="#ff0000" d="M1000 891h1v1h-1zM999 892h2v1h-2zM999 893h3v1h-3zM998 894h4v1h-4zM998 895h5v1h-5zM997 896h6v1h-6z"/>
<rect x="1005" y="896" width="3" height="1" fill="#ff0000"/>
<rect x="1013" y="896" width="3" height="1" fill="#ff0000"/>
<rect x="1010" y="894" width="1" height="5" fill="#ff0000"/>
<path fill="#ff0000" d="M1010 893h1v1h-1zM1009 894h2v1h-2zM1009 895h3v1h-3zM1008 896h4v1h-4zM1008 897h5v1h-5zM1007 898h6v1h-6z"/>
<rect x="1016" y="896" width="3" height="1" fill="#ff0000"/>
<rect x="1024" y="896" width="3" height="1" fill="#ff0000"/>
<rect x="1021" y="894" width="1" height="5" fill="#ff0000"/>
<path fill="#ff0000" d="M1021 893h1v1h-1zM1020 894h2v1h-2zM1020 895h3v1h-3zM1019 896h4v1h-4zM1019 897h5v1h-5zM1018 898h6v1h-6z"/>
<rect x="1026" y="894" width="3" height="1" fill="#ff0000"/>
<rect x="1034" y="894" width="3" height="1" fill="#ff0000"/>
<rect x="1031" y="892" width="1" height="5" fill="#ff0000"/>
<path fill="#ff0000" d="M1031 891h1v1h-1zM1030 892h2v1h-2zM1030 893h3v1h-3zM1029 894h4v1h-4zM1029 895h5v1h-5zM1028 896h6v1h-6z"/>
<rect x="1036" y="896" width="3" height="1" fill="#ff0000"/>
<rect x="1044" y="896" width="3" height="1" fill="#ff0000"/>
<rect x="1041" y="894" width="1" height="5" fill="#ff0000"/>
<path fill="#ff0000" d="M1041 893h1v1h-1zM1040 894h2v1h-2zM1040 895h3v1h-3zM1039 896h4v1h-4zM1039 897h5v1h-5zM1038 898h6v1h-6z"/>
<rect x="1046" y="895" width="3" height="1" fill="#ff0000"/>
<rect x="1054" y="895" width="3" height="1" fill="#ff0000"/>
<rect x="1051" y="893" width="1" height="5" fill="#ff0000"/>
<path fill="#ff0000" d="M1051 892h1v1h-1zM1050 893h2v1h-2zM1050 894h3v1h-3zM1049 895h4v1h-4zM1049 896h5v1h-5zM1048 897h6v1h-6z"/>
<rect x="1057" y="895" width="3" height="1" fill="#ff0000"/>
<rect x="1065" y="895" width="3" height="1" fill="#ff0000"/>
<rect x="1062" y="893" width="1" height="5" fill="#ff0000"/>
<path fill="#ff0000" d="M1062 892h1v1h-1zM1061 893h2v1h-2zM1061 894h3v1h-3zM1060 895h4v1h-4zM1060 896h5v1h-5zM1059 897h6v1h-6z"/>
<rect x="1067" y="895" width="3" height="1" fill="#ff0000"/>
<rect x="1075" y="895" width="3" height="1" fill="#ff0000"/>
<rect x="1072" y="893" width="1" height="5" fill="#ff0000"/>
<path fill="#ff0000" d="M1072 892h1v1h-1zM1071 893h2v1h-2zM1071 894h3v1h-3zM1070 895h4v1h-4zM1070 896h5v1h-5zM1069 897h6v1h-6z"/>
<rect x="1077" y="896" width="3" height="1" fill="#ff0000"/>
<rect x="1085" y="896" width="3" height="1" fill="#ff0000"/>
<rect x="1082" y="894" width="1" height="5" fill="#ff0000"/>
<path fill="#ff0000" d="M1082 893h1v1h-1zM1081 894h2v1h-2zM1081 895h3v1h-3zM1080 896h4v1h-4zM1080 897h5v1h-5zM1079 898h6v1h-6z"/>
<rect x="1087" y="896" width="3" height="1" fill="#ff0000"/>
<rect x="1095" y="896" width="3" height="1" fill="#ff0000"/>
<rect x="1092" y="894" width="1" height="5" fill="#ff0000"/>
<path fill="#ff0000" d="M1092 893h1v1h-1zM1091 894h2v1h-2zM1091 895h3v1h-3zM1090 896h4v1h-4zM1090 897h5v1h-5zM1089 898h6v1h-6z"/>
<rect x="1097" y="895" width="3" height="1" fill="#ff0000"/>
<rect x="1105" y="895" width="3" height="1" fill="#ff0000"/>
<rect x="1102" y="893" width="1" height="5" fill="#ff0000"/>
<path fill="#ff0000" d="M1102 892h1v1h-1zM1101 893h2v1h-2zM1101 894h3v1h-3zM1100 895h4v1h-4zM1100 896h5v1h-5zM1099 897h6v1h-6z"/>
<rect x="1108" y="895" width="3" height="1" fill="#ff0000"/>
<rect x="1116" y="895" width="3" height="1" fill="#ff0000"/>
<rect x="1113" y="893" width="1" height="5" fill="#ff0000"/>
<path fill="#ff0000" d="M1113 892h1v1h-1zM1112 893h2v1h-2zM1112 894h3v1h-3zM1111 895h4v1h-4zM1111 896h5v1h-5zM1110 897h6v1h-6z"/>
<rect x="1118" y="895" width="3" height="1" fill="#ff0000"/>
<rect x="1126" y="895" width="3" height="1" fill="#ff0000"/>
<rect x="1123" y="893" width="1" height="5" fill="#ff0000"/>
<path fill="#ff0000" d="M1123 892h1v1h-1zM1122 893h2v1h-2zM1122 894h3v1h-3zM1121 895h4v1h-4zM1121 896h5v1h-5zM1120 897h6v1h-6z"/>
<rect x="1128" y="896" width="3" height="1" fill="#ff0000"/>
<rect x="1136" y="896" width="3" height="1" fill="#ff0000"/>
<rect x="1133" y="894" width="1" height="5" fill="#ff0000"/>
<path fill="#ff0000" d="M1133 893h1v1h-1zM1132 894h2v1h-2zM1132 895h3v1h-3zM1131 896h4v1h-4zM1131 897h5v1h-5zM1130 898h6v1h-6z"/>
<rect x="1138" y="895" width="3" height="1" fill="#ff0000"/>
<rect x="1146" y="895" width="3" height="1" fill="#ff0000"/>
<rect x="1143" y="893" width="1" height="5" fill="#ff0000"/>
<path fill="#ff0000" d="M1143 892h1v1h-1zM1142 893h2v1h-2zM1142 894h3v1h-3zM1141 895h4v1h-4zM1141 896h5v1h-5zM1140 897h6v1h-6z"/>
<rect x="128" y="623" width="2" height="1" fill="#0000ff"/>
<rect x="135" y="623" width="3" height="1" fill="#0000ff"/>
<circle cx="132.5" cy="623.5" r="3.6" fill="#0000ff" shape-rendering="auto"/>
<rect x="137" y="234" width="3" height="1" fill="#0000ff"/>
<rect x="145" y="234" width="3" height="1" fill="#0000ff"/>
<rect x="142" y="229" width="1" height="10" fill="#0000ff"/>
<circle cx="142.5" cy="234.5" r="3.6" fill="#0000ff" shape-rendering="auto"/>
<rect x="148" y="409" width="3" height="1" fill="#0000ff"/>
<rect x="156" y="409" width="3" height="1" fill="#0000ff"/>
<rect x="153" y="404" width="1" height="10" fill="#0000ff"/>
<circle cx="153.5" cy="409.5" r="3.6" fill="#0000ff" shape-rendering="auto"/>
<rect x="158" y="591" width="3" height="1" fill="#0000ff"/>
<rect x="166" y="591" width="3" height="1" fill="#0000ff"/>
<rect x="163" y="586" width="1" height="10" fill="#0000ff"/>
<circle cx="163.5" cy="591.5" r="3.6" fill="#0000ff" shape-rendering="auto"/>
<rect x="168" y="703" width="3" height="1" fill="#0000ff"/>
<rect x="176" y="703" width="3" height="1" fill="#0000ff"/>
<circle cx="173.5" cy="703.5" r="3.6" fill="#0000ff" shape-rendering="auto"/>
<rect x="178" y="767" width="3" height="1" fill="#0000ff"/>
<rect x="186" y="767" width="3" height="1" fill="#0000ff"/>
<circle cx="183.5" cy="767.5" r="3.6" fill="#0000ff" shape-rendering="auto"/>
<rect x="188" y="803" width="3" height="1" fill="#0000ff"/>
<rect x="196" y="803" width="3" height="1" fill="#0000ff"/>
<circle cx="193.5" cy="803.5" r="3.6" fill="#0000ff" shape-rendering="auto"/>
<rect x="199" y="831" width="3" height="1" fill="#0000ff"/>
<rect x="207" y="831" width="3" height="1" fill="#0000ff"/>
<circle cx="204.5" cy="831.5" r="3.6" fill="#0000ff" shape-rendering="auto"/>
<rect x="209" y="849" width="3" height="1" fill="#0000ff"/>
<rect x="217" y="849" width="3" height="1" fill="#0000ff"/>
<circle cx="214.5" cy="849.5" r="3.6" fill="#0000ff" shape-rendering="auto"/>
<rect x="219" y="857" width="3" height="1" fill="#0000ff"/>
<rect x="227" y="857" width="3" height="1" fill="#0000ff"/>
<circle cx="224.5" cy="857.5" r="3.6" fill="#0000ff" shape-rendering="auto"/>
<rect x="229" y="865" width="3" height="1" fill="#0000ff"/>
<rect x="237" y="865" width="3" height="1" fill="#0000ff"/>
<circle cx="234.5" cy="865.5" r="3.6" fill="#0000ff" shape-rendering="auto"/>
<rect x="240" y="872" width="3" height="1" fill="#0000ff"/>
<rect x="248" y="872" width="3" height="1" fill="#0000ff"/>
<circle cx="245.5" cy="872.5" r="3.6" fill="#0000ff" shape-rendering="auto"/>
<rect x="250" y="878" width="3" height="1" fill="#0000ff"/>
<rect x="258" y="878" width="3" height="1" fill="#0000ff"/>
<circle cx="255.5" cy="878.5" r="3.6" fill="#0000ff" shape-rendering="auto"/>
<rect x="260" y="881" width="3" height="1" fill="#0000ff"/>
<rect x="268" y="881" width="3" height="1" fill="#0000ff"/>
<circle cx="265.5" cy="881.5" r="3.6" fill="#0000ff" shape-rendering="auto"/>
<rect x="270" y="883" width="3" height="1" fill="#0000ff"/>
<rect x="278" y="883" width="3" height="1" fill="#0000ff"/>
<circle cx="275.5" cy="883.5" r="3.6" fill="#0000ff" shape-rendering="auto"/>
<rect x="280" y="886" width="3" height="1" fill="#0000ff"/>
<rect x="288" y="886" width="3" height="1" fill="#0000ff"/>
<circle cx="285.5" cy="886.5" r="3.6" fill="#0000ff" shape-rendering="auto"/>
<rect x="291" y="887" width="3" height="1" fill="#0000ff"/>
<rect x="299" y="887" width="3" height="1" fill="#0000ff"/>
<circle cx="296.5" cy="887.5" r="3.6" fill="#0000ff" shape-rendering="auto"/>
<rect x="301" y="888" width="3" height="1" fill="#0000ff"/>
<rect x="309" y="888" width="3" height="1" fill="#0000ff"/>
<circle cx="306.5" cy="888.5" r="3.6" fill="#0000ff" shape-rendering="auto"/>
<rect x="311" y="890" width="3" height="1" fill="#0000ff"/>
<rect x="319" y="890" width="3" height="1" fill="#0000ff"/>
<circle cx="316.5" cy="890.5" r="3.6" fill="#0000ff" shape-rendering="auto"/>
<rect x="321" y="891" width="3" height="1" fill="#0000ff"/>
<rect x="329" y="891" width="3" height="1" fill="#0000ff"/>
<circle cx="326.5" cy="891.5" r="3.6" fill="#0000ff" shape-rendering="auto"/>
<rect x="331" y="891" width="3" height="1" fill="#0000ff"/>
<rect x="339" y="891" width="3" height="1" fill="#0000ff"/>
<circle cx="336.5" cy="891.5" r="3.6" fill="#0000ff" shape-rendering="auto"/>
<rect x="342" y="892" width="3" height="1" fill="#0000ff"/>
<rect x="350" y="892" width="3" height="1" fill="#0000ff"/>
<circle cx="347.5" cy="892.5" r="3.6" fill="#0000ff" shape-rendering="auto"/>
<rect x="352" y="893" width="3" height="1" fill="#0000ff"/>
<rect x="360" y="893" width="3" height="1" fill="#0000ff"/>
<circle cx="357.5" cy="893.5" r="3.6" fill="#0000ff" shape-rendering="auto"/>
<rect x="362" y="893" width="3" height="1" fill="#0000ff"/>
<rect x="370" y="893" width="3" height="1" fill="#0000ff"/>
<circle cx="367.5" cy="893.5" r="3.6" fill="#0000ff" shape-rendering="auto"/>
<rect x="372" y="894" width="3" height="1" fill="#0000ff"/>
<rect x="380" y="894" width="3" height="1" fill="#0000ff"/>
<circle cx="377.5" cy="894.5" r="3.6" fill="#0000ff" shape-rendering="auto"/>
<rect x="383" y="894" width="3" height="1" fill="#0000ff"/>
<rect x="391" y="894" width="3" height="1" fill="#0000ff"/>
<circle cx="388.5" cy="894.5" r="3.6" fill="#0000ff" shape-rendering="auto"/>
<rect x="393" y="894" width="3" height="1" fill="#0000ff"/>
<rect x="401" y="894" width="3" height="1" fill="#0000ff"/>
<circle cx="398.5" cy="894.5" r="3.6" fill="#0000ff" shape-rendering="auto"/>
<rect x="403" y="894" width="3" height="1" fill="#0000ff"/>
<rect x="411" y="894" width="3" height="1" fill="#0000ff"/>
<circle cx="408.5" cy="894.5" r="3.6" fill="#0000ff" shape-rendering="auto"/>
<rect x="413" y="895" width="3" height="1" fill="#0000ff"/>
<rect x="421" y="895" width="3" height="1" fill="#0000ff"/>
<circle cx="418.5" cy="895.5" r="3.6" fill="#0000ff" shape-rendering="auto"/>
<rect x="423" y="895" width="3" height="1" fill="#0000ff"/>
<rect x="431" y="895" width="3" height="1" fill="#0000ff"/>
<circle cx="428.5" cy="895.5" r="3.6" fill="#0000ff" shape-rendering="auto"/>
<rect x="434" y="895" width="3" height="1" fill="#0000ff"/>
<rect x="442" y="895" width="3" height="1" fill="#0000ff"/>
<circle cx="439.5" cy="895.5" r="3.6" fill="#0000ff" shape-rendering="auto"/>
<rect x="444" y="895" width="3" height="1" fill="#0000ff"/>
<rect x="452" y="895" width="3" height="1" fill="#0000ff"/>
<circle cx="449.5" cy="895.5" r="3.6" fill="#0000ff" shape-rendering="auto"/>
<rect x="454" y="895" width="3" height="1" fill="#0000ff"/>
<rect x="462" y="895" width="3" height="1" fill="#0000ff"/>
<circle cx="459.5" cy="895.5" r="3.6" fill="#0000ff" shape-rendering="auto"/>
<rect x="464" y="896" width="3" height="1" fill="#0000ff"/>
<rect x="472" y="896" width="3" height="1" fill="#0000ff"/>
<circle cx="469.5" cy="896.5" r="3.6" fill="#0000ff" shape-rendering="auto"/>
<rect x="474" y="896" width="3" height="1" fill="#0000ff"/>
<rect x="482" y="896" width="3" height="1" fill="#0000ff"/>
<circle cx="479.5" cy="896.5" r="3.6" fill="#0000ff" shape-rendering="auto"/>
<rect x="485" y="896" width="3" height="1" fill="#0000ff"/>
<rect x="493" y="896" width="3" height="1" fill="#0000ff"/>
<circle cx="490.5" cy="896.5" r="3.6" fill="#0000ff" shape-rendering="auto"/>
<rect x="495" y="896" width="3" height="1" fill="#0000ff"/>
<rect x="503" y="896" width="3" height="1" fill="#0000ff"/>
<circle cx="500.5" cy="896.5" r="3.6" fill="#0000ff" shape-rendering="auto"/>
<rect x="505" y="896" width="3" height="1" fill="#0000ff"/>
<rect x="513" y="896" width="3" height="1" fill="#0000ff"/>
<circle cx="510.5" cy="896.5" r="3.6" fill="#0000ff" shape-rendering="auto"/>
<rect x="515" y="896" width="3" height="1" fill="#0000ff"/>
<rect x="523" y="896" width="3" height="1" fill="#0000ff"/>
<circle cx="520.5" cy="896.5" r="3.6" fill="#0000ff" shape-rendering="auto"/>
<rect x="525" y="896" width="3" height="1" fill="#0000ff"/>
<rect x="533" y="896" width="3" height="1" fill="#0000ff"/>
<circle cx="530.5" cy="896.5" r="3.6" fill="#0000ff" shape-rendering="auto"/>
<rect x="536" y="896" width="3" height="1" fill="#0000ff"/>
<rect x="544" y="896" width="3" height="1" fill="#0000ff"/>
<circle cx="541.5" cy="896.5" r="3.6" fill="#0000ff" shape-rendering="auto"/>
<rect x="546" y="896" width="3" height="1" fill="#0000ff"/>
<rect x="554" y="896" width="3" height="1" fill="#0000ff"/>
<circle cx="551.5" cy="896.5" r="3.6" fill="#0000ff" shape-rendering="auto"/>
<rect x="556" y="896" width="3" height="1" fill="#0000ff"/>
<rect x="564" y="896" width="3" height="1" fill="#0000ff"/>
<circle cx="561.5" cy="896.5" r="3.6" fill="#0000ff" shape-rendering="auto"/>
<rect x="566" y="896" width="3" height="1" fill="#0000ff"/>
<rect x="574" y="896" width="3" height="1" fill="#0000ff"/>
<circle cx="571.5" cy="896.5" r="3.6" fill="#0000ff" shape-rendering="auto"/>
<rect x="577" y="896" width="3" height="1" fill="#0000ff"/>
<rect x="585" y="896" width="3" height="1" fill="#0000ff"/>
<circle cx="582.5" cy="896.5" r="3.6" fill="#0000ff" shape-rendering="auto"/>
<rect x="587" y="896" width="3" height="1" fill="#0000ff"/>
<rect x="595" y="896" width="3" height="1" fill="#0000ff"/>
<circle cx="592.5" cy="896.5" r="3.6" fill="#0000ff" shape-rendering="auto"/>
<rect x="597" y="896" width="3" height="1" fill="#0000ff"/>
<rect x="605" y="896" width="3" height="1" fill="#0000ff"/>
<circle cx="602.5" cy="896.5" r="3.6" fill="#0000ff" shape-rendering="auto"/>
<rect x="607" y="896" width="3" height="1" fill="#0000ff"/>
<rect x="615" y="896" width="3" height="1" fill="#0000ff"/>
<circle cx="612.5" cy="896.5" r="3.6" fill="#0000ff" shape-rendering="auto"/>
<rect x="617" y="896" width="3" height="1" fill="#0000ff"/>
<rect x="625" y="896" width="3" height="1" fill="#0000ff"/>
<circle cx="622.5" cy="896.5" r="3.6" fill="#0000ff" shape-rendering="auto"/>
<rect x="628" y="896" width="3" height="1" fill="#0000ff"/>
<rect x="636" y="896" width="3" height="1" fill="#0000ff"/>
<circle cx="633.5" cy="896.5" r="3.6" fill="#0000ff" shape-rendering="auto"/>
<rect x="638" y="896" width="3" height="1" fill="#0000ff"/>
<rect x="646" y="896" width="3" height="1" fill="#0000ff"/>
<circle cx="643.5" cy="896.5" r="3.6" fill="#0000ff" shape-rendering="auto"/>
<rect x="648" y="896" width="3" height="1" fill="#0000ff"/>
<rect x="656" y="896" width="3" height="1" fill="#0000ff"/>
<circle cx="653.5" cy="896.5" r="3.6" fill="#0000ff" shape-rendering="auto"/>
<rect x="658" y="896" width="3" height="1" fill="#0000ff"/>
<rect x="666" y="896" width="3" height="1" fill="#0000ff"/>
<circle cx="663.5" cy="896.5" r="3.6" fill="#0000ff" shape-rendering="auto"/>
<rect x="668" y="896" width="3" height="1" fill="#0000ff"/>
<rect x="676" y="896" width="3" height="1" fill="#0000ff"/>
<circle cx="673.5" cy="896.5" r="3.6" fill="#0000ff" shape-rendering="auto"/>
<rect x="679" y="896" width="3" height="1" fill="#0000ff"/>
<rect x="687" y="896" width="3" height="1" fill="#0000ff"/>
<circle cx="684.5" cy="896.5" r="3.6" fill="#0000ff" shape-rendering="auto"/>
<rect x="689" y="896" width="3" height="1" fill="#0000ff"/>
<rect x="697" y="896" width="3" height="1" fill="#0000ff"/>
<circle cx="694.5" cy="896.5" r="3.6" fill="#0000ff" shape-rendering="auto"/>
<rect x="699" y="896" width="3" height="1" fill="#0000ff"/>
<rect x="707" y="896" width="3" height="1" fill="#0000ff"/>
<circle cx="704.5" cy="896.5" r="3.6" fill="#0000ff" shape-rendering="auto"/>
<rect x="709" y="896" width="3" height="1" fill="#0000ff"/>
<rect x="717" y="896" width="3" height="1" fill="#0000ff"/>
<circle cx="714.5" cy="896.5" r="3.6" fill="#0000ff" shape-rendering="auto"/>
<rect x="720" y="896" width="3" height="1" fill="#0000ff"/>
<rect x="728" y="896" width="3" height="1" fill="#0000ff"/>
<circle cx="725.5" cy="896.5" r="3.6" fill="#0000ff" shape-rendering="auto"/>
<rect x="730" y="896" width="3" height="1" fill="#0000ff"/>
<rect x="738" y="896" width="3" height="1" fill="#0000ff"/>
<circle cx="735.5" cy="896.5" r="3.6" fill="#0000ff" shape-rendering="auto"/>
<rect x="740" y="896" width="3" height="1" fill="#0000ff"/>
<rect x="748" y="896" width="3" height="1" fill="#0000ff"/>
<circle cx="745.5" cy="896.5" r="3.6" fill="#0000ff" shape-rendering="auto"/>
<rect x="750" y="896" width="3" height="1" fill="#0000ff"/>
<rect x="758" y="896" width="3" height="1" fill="#0000ff"/>
<circle cx="755.5" cy="896.5" r="3.6" fill="#0000ff" shape-rendering="auto"/>
<rect x="760" y="895" width="3" height="1" fill="#0000ff"/>
<rect x="768" y="895" width="3" height="1" fill="#0000ff"/>
<circle cx="765.5" cy="895.5" r="3.6" fill="#0000ff" shape-rendering="auto"/>
<rect x="771" y="896" width="3" height="1" fill="#0000ff"/>
<rect x="779" y="896" width="3" height="1" fill="#0000ff"/>
<circle cx="776.5" cy="896.5" r="3.6" fill="#0000ff" shape-rendering="auto"/>
<rect x="781" y="896" width="3" height="1" fill="#0000ff"/>
<rect x="789" y="896" width="3" height="1" fill="#0000ff"/>
<circle cx="786.5" cy="896.5" r="3.6" fill="#0000ff" shape-rendering="auto"/>
<rect x="791" y="896" width="3" height="1" fill="#0000ff"/>
<rect x="799" y="896" width="3" height="1" fill="#0000ff"/>
<circle cx="796.5" cy="896.5" r="3.6" fill="#0000ff" shape-rendering="auto"/>
<rect x="801" y="896" width="3" height="1" fill="#0000ff"/>
<rect x="809" y="896" width="3" height="1" fill="#0000ff"/>
<circle cx="806.5" cy="896.5" r="3.6" fill="#0000ff" shape-rendering="auto"/>
<rect x="811" y="896" width="3" height="1" fill="#0000ff"/>
<rect x="819" y="896" width="3" height="1" fill="#0000ff"/>
<circle cx="816.5" cy="896.5" r="3.6" fill="#0000ff" shape-rendering="auto"/>
<rect x="822" y="896" width="3" height="1" fill="#0000ff"/>
<rect x="830" y="896" width="3" height="1" fill="#0000ff"/>
<circle cx="827.5" cy="896.5" r="3.6" fill="#0000ff" shape-rendering="auto"/>
<rect x="832" y="896" width="3" height="1" fill="#0000ff"/>
<rect x="840" y="896" width="3" height="1" fill="#0000ff"/>
<circle cx="837.5" cy="896.5" r="3.6" fill="#0000ff" shape-rendering="auto"/>
<rect x="842" y="896" width="3" height="1" fill="#0000ff"/>
<rect x="850" y="896" width="3" height="1" fill="#0000ff"/>
<circle cx="847.5" cy="896.5" r="3.6" fill="#0000ff" shape-rendering="auto"/>
<rect x="852" y="896" width="3" height="1" fill="#0000ff"/>
<rect x="860" y="896" width="3" height="1" fill="#0000ff"/>
<circle cx="857.5" cy="896.5" r="3.6" fill="#0000ff" shape-rendering="auto"/>
<rect x="863" y="896" width="3" height="1" fill="#0000ff"/>
<rect x="871" y="896" width="3" height="1" fill="#0000ff"/>
<circle cx="868.5" cy="896.5" r="3.6" fill="#0000ff" shape-rendering="auto"/>
<rect x="873" y="896" width="3" height="1" fill="#0000ff"/>
<rect x="881" y="896" width="3" height="1" fill="#0000ff"/>
<circle cx="878.5" cy="896.5" r="3.6" fill="#0000ff" shape-rendering="auto"/>
<rect x="883" y="896" width="3" height="1" fill="#0000ff"/>
<rect x="891" y="896" width="3" height="1" fill="#0000ff"/>
<circle cx="888.5" cy="896.5" r="3.6" fill="#0000ff" shape-rendering="auto"/>
<rect x="893" y="896" width="3" height="1" fill="#0000ff"/>
<rect x="901" y="896" width="3" height="1" fill="#0000ff"/>
<circle cx="898.5" cy="896.5" r="3.6" fill="#0000ff" shape-rendering="auto"/>
<rect x="903" y="896" width="3" height="1" fill="#0000ff"/>
<rect x="911" y="896" width="3" height="1" fill="#0000ff"/>
<circle cx="908.5" cy="896.5" r="3.6" fill="#0000ff" shape-rendering="auto"/>
<rect x="914" y="896" width="3" height="1" fill="#0000ff"/>
<rect x="922" y="896" width="3" height="1" fill="#0000ff"/>
<circle cx="919.5" cy="896.5" r="3.6" fill="#0000ff" shape-rendering="auto"/>
<rect x="924" y="896" width="3" height="1" fill="#0000ff"/>
<rect x="932" y="896" width="3" height="1" fill="#0000ff"/>
<circle cx="929.5" cy="896.5" r="3.6" fill="#0000ff" shape-rendering="auto"/>
<rect x="934" y="896" width="3" height="1" fill="#0000ff"/>
<rect x="942" y="896" width="3" height="1" fill="#0000ff"/>
<circle cx="939.5" cy="896.5" r="3.6" fill="#0000ff" shape-rendering="auto"/>
<rect x="944" y="896" width="3" height="1" fill="#0000ff"/>
<rect x="952" y="896" width="3" height="1" fill="#0000ff"/>
<circle cx="949.5" cy="896.5" r="3.6" fill="#0000ff" shape-rendering="auto"/>
<rect x="954" y="895" width="3" height="1" fill="#0000ff"/>
<rect x="962" y="895" width="3" height="1" fill="#0000ff"/>
<circle cx="959.5" cy="895.5" r="3.6" fill="#0000ff" shape-rendering="auto"/>
<rect x="965" y="895" width="3" height="1" fill="#0000ff"/>
<rect x="973" y="895" width="3" height="1" fill="#0000ff"/>
<circle cx="970.5" cy="895.5" r="3.6" fill="#0000ff" shape-rendering="auto"/>
<rect x="975" y="895" width="3" height="1" fill="#0000ff"/>
<rect x="983" y="895" width="3" height="1" fill="#0000ff"/>
<circle cx="980.5" cy="895.5" r="3.6" fill="#0000ff" shape-rendering="auto"/>
<rect x="985" y="896" width="3" height="1" fill="#0000ff"/>
<rect x="993" y="896" width="3" height="1" fill="#0000ff"/>
<circle cx="990.5" cy="896.5" r="3.6" fill="#0000ff" shape-rendering="auto"/>
<rect x="995" y="896" width="3" height="1" fill="#0000ff"/>
<rect x="1003" y="896" width="3" height="1" fill="#0000ff"/>
<circle cx="1000.5" cy="896.5" r="3.6" fill="#0000ff" shape-rendering="auto"/>
<rect x="1005" y="896" width="3" height="1" fill="#0000ff"/>
<rect x="1013" y="896" width="3" height="1" fill="#0000ff"/>
<circle cx="1010.5" cy="896.5" r="3.6" fill="#0000ff" shape-rendering="auto"/>
<rect x="1016" y="896" width="3" height="1" fill="#0000ff"/>
<rect x="1024" y="896" width="3" height="1" fill="#0000ff"/>
<circle cx="1021.5" cy="896.5" r="3.6" fill="#0000ff" shape-rendering="auto"/>
<rect x="1026" y="896" width="3" height="1" fill="#0000ff"/>
<rect x="1034" y="896" width="3" height="1" fill="#0000ff"/>
<circle cx="1031.5" cy="896.5" r="3.6" fill="#0000ff" shape-rendering="auto"/>
<rect x="1036" y="895" width="3" height="1" fill="#0000ff"/>
<rect x="1044" y="895" width="3" height="1" fill="#0000ff"/>
<circle cx="1041.5" cy="895.5" r="3.6" fill="#0000ff" shape-rendering="auto"/>
<rect x="1046" y="896" width="3" height="1" fill="#0000ff"/>
<rect x="1054" y="896" width="3" height="1" fill="#0000ff"/>
<circle cx="1051.5" cy="896.5" r="3.6" fill="#0000ff" shape-rendering="auto"/>
<rect x="1057" y="895" width="3" height="1" fill="#0000ff"/>
<rect x="1065" y="895" width="3" height="1" fill="#0000ff"/>
<circle cx="1062.5" cy="895.5" r="3.6" fill="#0000ff" shape-rendering="auto"/>
<rect x="1067" y="896" width="3" height="1" fill="#0000ff"/>
<rect x="1075" y="896" width="3" height="1" fill="#0000ff"/>
<circle cx="1072.5" cy="896.5" r="3.6" fill="#0000ff" shape-rendering="auto"/>
<rect x="1077" y="895" width="3" height="1" fill="#0000ff"/>
<rect x="1085" y="895" width="3" height="1" fill="#0000ff"/>
<circle cx="1082.5" cy="895.5" r="3.6" fill="#0000ff" shape-rendering="auto"/>
<rect x="1087" y="895" width="3" height="1" fill="#0000ff"/>
<rect x="1095" y="895" width="3" height="1" fill="#0000ff"/>
<circle cx="1092.5" cy="895.5" r="3.6" fill="#0000ff" shape-rendering="auto"/>
<rect x="1097" y="895" width="3" height="1" fill="#0000ff"/>
<rect x="1105" y="895" width="3" height="1" fill="#0000ff"/>
<circle cx="1102.5" cy="895.5" r="3.6" fill="#0000ff" shape-rendering="auto"/>
<rect x="1108" y="895" width="3" height="1" fill="#0000ff"/>
<rect x="1116" y="895" width="3" height="1" fill="#0000ff"/>
<circle cx="1113.5" cy="895.5" r="3.6" fill="#0000ff" shape-rendering="auto"/>
<rect x="1118" y="895" width="3" height="1" fill="#0000ff"/>
<rect x="1126" y="895" width="3" height="1" fill="#0000ff"/>
<circle cx="1123.5" cy="895.5" r="3.6" fill="#0000ff" shape-rendering="auto"/>
<rect x="1128" y="895" width="3" height="1" fill="#0000ff"/>
<rect x="1136" y="895" width="3" height="1" fill="#0000ff"/>
<circle cx="1133.5" cy="895.5" r="3.6" fill="#0000ff" shape-rendering="auto"/>
<rect x="1138" y="896" width="3" height="1" fill="#0000ff"/>
<rect x="1146" y="896" width="3" height="1" fill="#0000ff"/>
<circle cx="1143.5" cy="896.5" r="3.6" fill="#0000ff" shape-rendering="auto"/>
<rect x="128" y="637" width="2" height="1" fill="#000000"/>
<rect x="135" y="637" width="3" height="1" fill="#000000"/>
<path fill="#000000" d="M132 634h1v1h-1zM131 635h2v1h-2zM130 636h4v1h-4zM130 637h4v1h-4zM130 638h4v1h-4zM131 639h2v1h-2z"/>
<rect x="137" y="288" width="3" height="1" fill="#000000"/>
<rect x="145" y="288" width="3" height="1" fill="#000000"/>
<path fill="#000000" d="M142 285h1v1h-1zM141 286h2v1h-2zM140 287h4v1h-4zM140 288h4v1h-4zM140 289h4v1h-4zM141 290h2v1h-2z"/>
<rect x="148" y="499" width="3" height="1" fill="#000000"/>
<rect x="156" y="499" width="3" height="1" fill="#000000"/>
<path fill="#000000" d="M153 496h1v1h-1zM152 497h2v1h-2zM151 498h4v1h-4zM151 499h4v1h-4zM151 500h4v1h-4zM152 501h2v1h-2z"/>
<rect x="158" y="628" width="3" height="1" fill="#000000"/>
<rect x="166" y="628" width="3" height="1" fill="#000000"/>
<path fill="#000000" d="M163 625h1v1h-1zM162 626h2v1h-2zM161 627h4v1h-4zM161 628h4v1h-4zM161 629h4v1h-4zM162 630h2v1h-2z"/>
<rect x="168" y="710" width="3" height="1" fill="#000000"/>
<rect x="176" y="710" width="3" height="1" fill="#000000"/>
<path fill="#000000" d="M173 707h1v1h-1zM172 708h2v1h-2zM171 709h4v1h-4zM171 710h4v1h-4zM171 711h4v1h-4zM172 712h2v1h-2z"/>
<rect x="178" y="761" width="3" height="1" fill="#000000"/>
<rect x="186" y="761" width="3" height="1" fill="#000000"/>
<path fill="#000000" d="M183 758h1v1h-1zM182 759h2v1h-2zM181 760h4v1h-4zM181 761h4v1h-4zM181 762h4v1h-4zM182 763h2v1h-2z"/>
<rect x="188" y="794" width="3" height="1" fill="#000000"/>
<rect x="196" y="794" width="3" height="1" fill="#000000"/>
<path fill="#000000" d="M193 791h1v1h-1zM192 792h2v1h-2zM191 793h4v1h-4zM191 794h4v1h-4zM191 795h4v1h-4zM192 796h2v1h-2z"/>
<rect x="199" y="817" width="3" height="1" fill="#000000"/>
<rect x="207" y="817" width="3" height="1" fill="#000000"/>
<path fill="#000000" d="M204 814h1v1h-1zM203 815h2v1h-2zM202 816h4v1h-4zM202 817h4v1h-4zM202 818h4v1h-4zM203 819h2v1h-2z"/>
<rect x="209" y="834" width="3" height="1" fill="#000000"/>
<rect x="217" y="834" width="3" height="1" fill="#000000"/>
<path fill="#000000" d="M214 831h1v1h-1zM213 832h2v1h-2zM212 833h4v1h-4zM212 834h4v1h-4zM212 835h4v1h-4zM213 836h2v1h-2z"/>
<rect x="219" y="846" width="3" height="1" fill="#000000"/>
<rect x="227" y="846" width="3" height="1" fill="#000000"/>
<path fill="#000000" d="M224 843h1v1h-1zM223 844h2v1h-2zM222 845h4v1h-4zM222 846h4v1h-4zM222 847h4v1h-4zM223 848h2v1h-2z"/>
<rect x="229" y="856" width="3" height="1" fill="#000000"/>
<rect x="237" y="856" width="3" height="1" fill="#000000"/>
<path fill="#000000" d="M234 853h1v1h-1zM233 854h2v1h-2zM232 855h4v1h-4zM232 856h4v1h-4zM232 857h4v1h-4zM233 858h2v1h-2z"/>
<rect x="240" y="863" width="3" height="1" fill="#000000"/>
<rect x="248" y="863" width="3" height="1" fill="#000000"/>
<path fill="#000000" d="M245 860h1v1h-1zM244 861h2v1h-2zM243 862h4v1h-4zM243 863h4v1h-4zM243 864h4v1h-4zM244 865h2v1h-2z"/>
<rect x="250" y="870" width="3" height="1" fill="#000000"/>
<rect x="258" y="870" width="3" height="1" fill="#000000"/>
<path fill="#000000" d="M255 867h1v1h-1zM254 868h2v1h-2zM253 869h4v1h-4zM253 870h4v1h-4zM253 871h4v1h-4zM254 872h2v1h-2z"/>
<rect x="260" y="873" width="3" height="1" fill="#000000"/>
<rect x="268" y="873" width="3" height="1" fill="#000000"/>
<path fill="#000000" d="M265 870h1v1h-1zM264 871h2v1h-2zM263 872h4v1h-4zM263 873h4v1h-4zM263 874h4v1h-4zM264 875h2v1h-2z"/>
<rect x="270" y="877" width="3" height="1" fill="#000000"/>
<rect x="278" y="877" width="3" height="1" fill="#000000"/>
<path fill="#000000" d="M275 874h1v1h-1zM274 875h2v1h-2zM273 876h4v1h-4zM273 877h4v1h-4zM273 878h4v1h-4zM274 879h2v1h-2z"/>
<rect x="280" y="879" width="3" height="1" fill="#000000"/>
<rect x="288" y="879" width="3" height="1" fill="#000000"/>
<path fill="#000000" d="M285 876h1v1h-1zM284 877h2v1h-2zM283 878h4v1h-4zM283 879h4v1h-4zM283 880h4v1h-4zM284 881h2v1h-2z"/>
<rect x="291" y="881" width="3" height="1" fill="#000000"/>
<rect x="299" y="881" width="3" height="1" fill="#000000"/>
<path fill="#000000" d="M296 878h1v1h-1zM295 879h2v1h-2zM294 880h4v1h-4zM294 881h4v1h-4zM294 882h4v1h-4zM295 883h2v1h-2z"/>
<rect x="301" y="883" width="3" height="1" fill="#000000"/>
<rect x="309" y="883" width="3" height="1" fill="#000000"/>
<path fill="#000000" d="M306 880h1v1h-1zM305 881h2v1h-2zM304 882h4v1h-4zM304 883h4v1h-4zM304 884h4v1h-4zM305 885h2v1h-2z"/>
<rect x="311" y="885" width="3" height="1" fill="#000000"/>
<rect x="319" y="885" width="3" height="1" fill="#000000"/>
<path fill="#000000" d="M316 882h1v1h-1zM315 883h2v1h-2zM314 884h4v1h-4zM314 885h4v1h-4zM314 886h4v1h-4zM315 887h2v1h-2z"/>
<rect x="321" y="886" width="3" height="1" fill="#000000"/>
<rect x="329" y="886" width="3" height="1" fill="#000000"/>
<path fill="#000000" d="M326 883h1v1h-1zM325 884h2v1h-2zM324 885h4v1h-4zM324 886h4v1h-4zM324 887h4v1h-4zM325 888h2v1h-2z"/>
<rect x="331" y="888" width="3" height="1" fill="#000000"/>
<rect x="339" y="888" width="3" height="1" fill="#000000"/>
<path fill="#000000" d="M336 885h1v1h-1zM335 886h2v1h-2zM334 887h4v1h-4zM334 888h4v1h-4zM334 889h4v1h-4zM335 890h2v1h-2z"/>
<rect x="342" y="889" width="3" height="1" fill="#000000"/>
<rect x="350" y="889" width="3" height="1" fill="#000000"/>
<path fill="#000000" d="M347 886h1v1h-1zM346 887h2v1h-2zM345 888h4v1h-4zM345 889h4v1h-4zM345 890h4v1h-4zM346 891h2v1h-2z"/>
<rect x="352" y="890" width="3" height="1" fill="#000000"/>
<rect x="360" y="890" width="3" height="1" fill="#000000"/>
<path fill="#000000" d="M357 887h1v1h-1zM356 888h2v1h-2zM355 889h4v1h-4zM355 890h4v1h-4zM355 891h4v1h-4zM356 892h2v1h-2z"/>
<rect x="362" y="890" width="3" height="1" fill="#000000"/>
<rect x="370" y="890" width="3" height="1" fill="#000000"/>
<path fill="#000000" d="M367 887h1v1h-1zM366 888h2v1h-2zM365 889h4v1h-4zM365 890h4v1h-4zM365 891h4v1h-4zM366 892h2v1h-2z"/>
<rect x="372" y="891" width="3" height="1" fill="#000000"/>
<rect x="380" y="891" width="3" height="1" fill="#000000"/>
<path fill="#000000" d="M377 888h1v1h-1zM376 889h2v1h-2zM375 890h4v1h-4zM375 891h4v1h-4zM375 892h4v1h-4zM376 893h2v1h-2z"/>
<rect x="383" y="891" width="3" height="1" fill="#000000"/>
<rect x="391" y="891" width="3" height="1" fill="#000000"/>
<path fill="#000000" d="M388 888h1v1h-1zM387 889h2v1h-2zM386 890h4v1h-4zM386 891h4v1h-4zM386 892h4v1h-4zM387 893h2v1h-2z"/>
<rect x="393" y="892" width="3" height="1" fill="#000000"/>
<rect x="401" y="892" width="3" height="1" fill="#000000"/>
<path fill="#000000" d="M398 889h1v1h-1zM397 890h2v1h-2zM396 891h4v1h-4zM396 892h4v1h-4zM396 893h4v1h-4zM397 894h2v1h-2z"/>
<rect x="403" y="892" width="3" height="1" fill="#000000"/>
<rect x="411" y="892" width="3" height="1" fill="#000000"/>
<path fill="#000000" d="M408 889h1v1h-1zM407 890h2v1h-2zM406 891h4v1h-4zM406 892h4v1h-4zM406 893h4v1h-4zM407 894h2v1h-2z"/>
<rect x="413" y="892" width="3" height="1" fill="#000000"/>
<rect x="421" y="892" width="3" height="1" fill="#000000"/>
<path fill="#000000" d="M418 889h1v1h-1zM417 890h2v1h-2zM416 891h4v1h-4zM416 892h4v1h-4zM416 893h4v1h-4zM417 894h2v1h-2z"/>
<rect x="423" y="893" width="3" height="1" fill="#000000"/>
<rect x="431" y="893" width="3" height="1" fill="#000000"/>
<path fill="#000000" d="M428 890h1v1h-1zM427 891h2v1h-2zM426 892h4v1h-4zM426 893h4v1h-4zM426 894h4v1h-4zM427 895h2v1h-2z"/>
<rect x="434" y="893" width="3" height="1" fill="#000000"/>
<rect x="442" y="893" width="3" height="1" fill="#000000"/>
<path fill="#000000" d="M439 890h1v1h-1zM438 891h2v1h-2zM437 892h4v1h-4zM437 893h4v1h-4zM437 894h4v1h-4zM438 895h2v1h-2z"/>
<rect x="444" y="893" width="3" height="1" fill="#000000"/>
<rect x="452" y="893" width="3" height="1" fill="#000000"/>
<path fill="#000000" d="M449 890h1v1h-1zM448 891h2v1h-2zM447 892h4v1h-4zM447 893h4v1h-4zM447 894h4v1h-4zM448 895h2v1h-2z"/>
<rect x="454" y="893" width="3" height="1" fill="#000000"/>
<rect x="462" y="893" width="3" height="1" fill="#000000"/>
<path fill="#000000" d="M459 890h1v1h-1zM458 891h2v1h-2zM457 892h4v1h-4zM457 893h4v1h-4zM457 894h4v1h-4zM458 895h2v1h-2z"/>
<rect x="464" y="893" width="3" height="1" fill="#000000"/>
<rect x="472" y="893" width="3" height="1" fill="#000000"/>
<path fill="#000000" d="M469 890h1v1h-1zM468 891h2v1h-2zM467 892h4v1h-4zM467 893h4v1h-4zM467 894h4v1h-4zM468 895h2v1h-2z"/>
<rect x="474" y="894" width="3" height="1" fill="#000000"/>
<rect x="482" y="894" width="3" height="1" fill="#000000"/>
<path fill="#000000" d="M479 891h1v1h-1zM478 892h2v1h-2zM477 893h4v1h-4zM477 894h4v1h-4zM477 895h4v1h-4zM478 896h2v1h-2z"/>
<rect x="485" y="894" width="3" height="1" fill="#000000"/>
<rect x="493" y="894" width="3" height="1" fill="#000000"/>
<path fill="#000000" d="M490 891h1v1h-1zM489 892h2v1h-2zM488 893h4v1h-4zM488 894h4v1h-4zM488 895h4v1h-4zM489 896h2v1h-2z"/>
<rect x="495" y="894" width="3" height="1" fill="#000000"/>
<rect x="503" y="894" width="3" height="1" fill="#000000"/>
<path fill="#000000" d="M500 891h1v1h-1zM499 892h2v1h-2zM498 893h4v1h-4zM498 894h4v1h-4zM498 895h4v1h-4zM499 896h2v1h-2z"/>
<rect x="505" y="894" width="3" height="1" fill="#000000"/>
<rect x="513" y="894" width="3" height="1" fill="#000000"/>
<path fill="#000000" d="M510 891h1v1h-1zM509 892h2v1h-2zM508 893h4v1h-4zM508 894h4v1h-4zM508 895h4v1h-4zM509 896h2v1h-2z"/>
<rect x="515" y="894" width="3" height="1" fill="#000000"/>
<rect x="523" y="894" width="3" height="1" fill="#000000"/>
<path fill="#000000" d="M520 891h1v1h-1zM519 892h2v1h-2zM518 893h4v1h-4zM518 894h4v1h-4zM518 895h4v1h-4zM519 896h2v1h-2z"/>
<rect x="525" y="894" width="3" height="1" fill="#000000"/>
<rect x="533" y="894" width="3" height="1" fill="#000000"/>
<path fill="#000000" d="M530 891h1v1h-1zM529 892h2v1h-2zM528 893h4v1h-4zM528 894h4v1h-4zM528 895h4v1h-4zM529 896h2v1h-2z"/>
<rect x="536" y="894" width="3" height="1" fill="#000000"/>
<rect x="544" y="894" width="3" height="1" fill="#000000"/>
<path fill="#000000" d="M541 891h1v1h-1zM540 892h2v1h-2zM539 893h4v1h-4zM539 894h4v1h-4zM539 895h4v1h-4zM540 896h2v1h-2z"/>
<rect x="546" y="894" width="3" height="1" fill="#000000"/>
<rect x="554" y="894" width="3" height="1" fill="#000000"/>
<path fill="#000000" d="M551 891h1v1h-1zM550 892h2v1h-2zM549 893h4v1h-4zM549 894h4v1h-4zM549 895h4v1h-4zM550 896h2v1h-2z"/>
<rect x="556" y="894" width="3" height="1" fill="#000000"/>
<rect x="564" y="894" width="3" height="1" fill="#000000"/>
<path fill="#000000" d="M561 891h1v1h-1zM560 892h2v1h-2zM559 893h4v1h-4zM559 894h4v1h-4zM559 895h4v1h-4zM560 896h2v1h-2z"/>
<rect x="566" y="894" width="3" height="1" fill="#000000"/>
<rect x="574" y="894" width="3" height="1" fill="#000000"/>
<path fill="#000000" d="M571 891h1v1h-1zM570 892h2v1h-2zM569 893h4v1h-4zM569 894h4v1h-4zM569 895h4v1h-4zM570 896h2v1h-2z"/>
<rect x="577" y="895" width="3" height="1" fill="#000000"/>
<rect x="585" y="895" width="3" height="1" fill="#000000"/>
<path fill="#000000" d="M582 892h1v1h-1zM581 893h2v1h-2zM580 894h4v1h-4zM580 895h4v1h-4zM580 896h4v1h-4zM581 897h2v1h-2z"/>
<rect x="587" y="895" width="3" height="1" fill="#000000"/>
<rect x="595" y="895" width="3" height="1" fill="#000000"/>
<path fill="#000000" d="M592 892h1v1h-1zM591 893h2v1h-2zM590 894h4v1h-4zM590 895h4v1h-4zM590 896h4v1h-4zM591 897h2v1h-2z"/>
<rect x="597" y="895" width="3" height="1" fill="#000000"/>
<rect x="605" y="895" width="3" height="1" fill="#000000"/>
<path fill="#000000" d="M602 892h1v1h-1zM601 893h2v1h-2zM600 894h4v1h-4zM600 895h4v1h-4zM600 896h4v1h-4zM601 897h2v1h-2z"/>
<rect x="607" y="895" width="3" height="1" fill="#000000"/>
<rect x="615" y="895" width="3" height="1" fill="#000000"/>
<path fill="#000000" d="M612 892h1v1h-1zM611 893h2v1h-2zM610 894h4v1h-4zM610 895h4v1h-4zM610 896h4v1h-4zM611 897h2v1h-2z"/>
<rect x="617" y="895" width="3" height="1" fill="#000000"/>
<rect x="625" y="895" width="3" height="1" fill="#000000"/>
<path fill="#000000" d="M622 892h1v1h-1zM621 893h2v1h-2zM620 894h4v1h-4zM620 895h4v1h-4zM620 896h4v1h-4zM621 897h2v1h-2z"/>
<rect x="628" y="895" width="3" height="1" fill="#000000"/>
<rect x="636" y="895" width="3" height="1" fill="#000000"/>
<path fill="#000000" d="M633 892h1v1h-1zM632 893h2v1h-2zM631 894h4v1h-4zM631 895h4v1h-4zM631 896h4v1h-4zM632 897h2v1h-2z"/>
<rect x="638" y="895" width="3" height="1" fill="#000000"/>
<rect x="646" y="895" width="3" height="1" fill="#000000"/>
<path fill="#000000" d="M643 892h1v1h-1zM642 893h2v1h-2zM641 894h4v1h-4zM641 895h4v1h-4zM641 896h4v1h-4zM642 897h2v1h-2z"/>
<rect x="648" y="895" width="3" height="1" fill="#000000"/>
<rect x="656" y="895" width="3" height="1" fill="#000000"/>
<path fill="#000000" d="M653 892h1v1h-1zM652 893h2v1h-2zM651 894h4v1h-4zM651 895h4v1h-4zM651 896h4v1h-4zM652 897h2v1h-2z"/>
<rect x="658" y="895" width="3" height="1" fill="#000000"/>
<rect x="666" y="895" width="3" height="1" fill="#000000"/>
<path fill="#000000" d="M663 892h1v1h-1zM662 893h2v1h-2zM661 894h4v1h-4zM661 895h4v1h-4zM661 896h4v1h-4zM662 897h2v1h-2z"/>
<rect x="668" y="895" width="3" height="1" fill="#000000"/>
<rect x="676" y="895" width="3" height="1" fill="#000000"/>
<path fill="#000000" d="M673 892h1v1h-1zM672 893h2v1h-2zM671 894h4v1h-4zM671 895h4v1h-4zM671 896h4v1h-4zM672 897h2v1h-2z"/>
<rect x="679" y="895" width="3" height="1" fill="#000000"/>
<rect x="687" y="895" width="3" height="1" fill="#000000"/>
<path fill="#000000" d="M684 892h1v1h-1zM683 893h2v1h-2zM682 894h4v1h-4zM682 895h4v1h-4zM682 896h4v1h-4zM683 897h2v1h-2z"/>
<rect x="689" y="895" width="3" height="1" fill="#000000"/>
<rect x="697" y="895" width="3" height="1" fill="#000000"/>
<path fill="#000000" d="M694 892h1v1h-1zM693 893h2v1h-2zM692 894h4v1h-4zM692 895h4v1h-4zM692 896h4v1h-4zM693 897h2v1h-2z"/>
<rect x="699" y="895" width="3" height="1" fill="#000000"/>
<rect x="707" y="895" width="3" height="1" fill="#000000"/>
<path fill="#000000" d="M704 892h1v1h-1zM703 893h2v1h-2zM702 894h4v1h-4zM702 895h4v1h-4zM702 896h4v1h-4zM703 897h2v1h-2z"/>
<rect x="709" y="895" width="3" height="1" fill="#000000"/>
<rect x="717" y="895" width="3" height="1" fill="#000000"/>
<path fill="#000000" d="M714 892h1v1h-1zM713 893h2v1h-2zM712 894h4v1h-4zM712 895h4v1h-4zM712 896h4v1h-4zM713 897h2v1h-2z"/>
<rect x="720" y="895" width="3" height="1" fill="#000000"/>
<rect x="728" y="895" width="3" height="1" fill="#000000"/>
<path fill="#000000" d="M725 892h1v1h-1zM724 893h2v1h-2zM723 894h4v1h-4zM723 895h4v1h-4zM723 896h4v1h-4zM724 897h2v1h-2z"/>
<rect x="730" y="895" width="3" height="1" fill="#000000"/>
<rect x="738" y="895" width="3" height="1" fill="#000000"/>
<path fill="#000000" d="M735 892h1v1h-1zM734 893h2v1h-2zM733 894h4v1h-4zM733 895h4v1h-4zM733 896h4v1h-4zM734 897h2v1h-2z"/>
<rect x="740" y="895" width="3" height="1" fill="#000000"/>
<rect x="748" y="895" width="3" height="1" fill="#000000"/>
<path fill="#000000" d="M745 892h1v1h-1zM744 893h2v1h-2zM743 894h4v1h-4zM743 895h4v1h-4zM743 896h4v1h-4zM744 897h2v1h-2z"/>
<rect x="750" y="895" width="3" height="1" fill="#000000"/>
<rect x="758" y="895" width="3" height="1" fill="#000000"/>
<path fill="#000000" d="M755 892h1v1h-1zM754 893h2v1h-2zM753 894h4v1h-4zM753 895h4v1h-4zM753 896h4v1h-4zM754 897h2v1h-2z"/>
<rect x="760" y="896" width="3" height="1" fill="#000000"/>
<rect x="768" y="896" width="3" height="1" fill="#000000"/>
<path fill="#000000" d="M765 893h1v1h-1zM764 894h2v1h-2zM763 895h4v1h-4zM763 896h4v1h-4zM763 897h4v1h-4zM764 898h2v1h-2z"/>
<rect x="771" y="895" width="3" height="1" fill="#000000"/>
<rect x="779" y="895" width="3" height="1" fill="#000000"/>
<path fill="#000000" d="M776 892h1v1h-1zM775 893h2v1h-2zM774 894h4v1h-4zM774 895h4v1h-4zM774 896h4v1h-4zM775 897h2v1h-2z"/>
<rect x="781" y="895" width="3" height="1" fill="#000000"/>
<rect x="789" y="895" width="3" height="1" fill="#000000"/>
<path fill="#000000" d="M786 892h1v1h-1zM785 893h2v1h-2zM784 894h4v1h-4zM784 895h4v1h-4zM784 896h4v1h-4zM785 897h2v1h-2z"/>
<rect x="791" y="895" width="3" height="1" fill="#000000"/>
<rect x="799" y="895" width="3" height="1" fill="#000000"/>
<path fill="#000000" d="M796 892h1v1h-1zM795 893h2v1h-2zM794 894h4v1h-4zM794 895h4v1h-4zM794 896h4v1h-4zM795 897h2v1h-2z"/>
<rect x="801" y="895" width="3" height="1" fill="#000000"/>
<rect x="809" y="895" width="3" height="1" fill="#000000"/>
<path fill="#000000" d="M806 892h1v1h-1zM805 893h2v1h-2zM804 894h4v1h-4zM804 895h4v1h-4zM804 896h4v1h-4zM805 897h2v1h-2z"/>
<rect x="811" y="895" width="3" height="1" fill="#000000"/>
<rect x="819" y="895" width="3" height="1" fill="#000000"/>
<path fill="#000000" d="M816 892h1v1h-1zM815 893h2v1h-2zM814 894h4v1h-4zM814 895h4v1h-4zM814 896h4v1h-4zM815 897h2v1h-2z"/>
<rect x="822" y="895" width="3" height="1" fill="#000000"/>
<rect x="830" y="895" width="3" height="1" fill="#000000"/>
<path fill="#000000" d="M827 892h1v1h-1zM826 893h2v1h-2zM825 894h4v1h-4zM825 895h4v1h-4zM825 896h4v1h-4zM826 897h2v1h-2z"/>
<rect x="832" y="895" width="3" height="1" fill="#000000"/>
<rect x="840" y="895" width="3" height="1" fill="#000000"/>
<path fill="#000000" d="M837 892h1v1h-1zM836 893h2v1h-2zM835 894h4v1h-4zM835 895h4v1h-4zM835 896h4v1h-4zM836 897h2v1h-2z"/>
<rect x="842" y="895" width="3" height="1" fill="#000000"/>
<rect x="850" y="895" width="3" height="1" fill="#000000"/>
<path fill="#000000" d="M847 892h1v1h-1zM846 893h2v1h-2zM845 894h4v1h-4zM845 895h4v1h-4zM845 896h4v1h-4zM846 897h2v1h-2z"/>
<rect x="852" y="895" width="3" height="1" fill="#000000"/>
<rect x="860" y="895" width="3" height="1" fill="#000000"/>
<path fill="#000000" d="M857 892h1v1h-1zM856 893h2v1h-2zM855 894h4v1h-4zM855 895h4v1h-4zM855 896h4v1h-4zM856 897h2v1h-2z"/>
<rect x="863" y="895" width="3" height="1" fill="#000000"/>
<rect x="871" y="895" width="3" height="1" fill="#000000"/>
<path fill="#000000" d="M868 892h1v1h-1zM867 893h2v1h-2zM866 894h4v1h-4zM866 895h4v1h-4zM866 896h4v1h-4zM867 897h2v1h-2z"/>
<rect x="873" y="895" width="3" height="1" fill="#000000"/>
<rect x="881" y="895" width="3" height="1" fill="#000000"/>
<path fill="#000000" d="M878 892h1v1h-1zM877 893h2v1h-2zM876 894h4v1h-4zM876 895h4v1h-4zM876 896h4v1h-4zM877 897h2v1h-2z"/>
<rect x="883" y="895" width="3" height="1" fill="#000000"/>
<rect x="891" y="895" width="3" height="1" fill="#000000"/>
<path fill="#000000" d="M888 892h1v1h-1zM887 893h2v1h-2zM886 894h4v1h-4zM886 895h4v1h-4zM886 896h4v1h-4zM887 897h2v1h-2z"/>
<rect x="893" y="895" width="3" height="1" fill="#000000"/>
<rect x="901" y="895" width="3" height="1" fill="#000000"/>
<path fill="#000000" d="M898 892h1v1h-1zM897 893h2v1h-2zM896 894h4v1h-4zM896 895h4v1h-4zM896 896h4v1h-4zM897 897h2v1h-2z"/>
<rect x="903" y="895" width="3" height="1" fill="#000000"/>
<rect x="911" y="895" width="3" height="1" fill="#000000"/>
<path fill="#000000" d="M908 892h1v1h-1zM907 893h2v1h-2zM906 894h4v1h-4zM906 895h4v1h-4zM906 896h4v1h-4zM907 897h2v1h-2z"/>
<rect x="914" y="895" width="3" height="1" fill="#000000"/>
<rect x="922" y="895" width="3" height="1" fill="#000000"/>
<path fill="#000000" d="M919 892h1v1h-1zM918 893h2v1h-2zM917 894h4v1h-4zM917 895h4v1h-4zM917 896h4v1h-4zM918 897h2v1h-2z"/>
<rect x="924" y="895" width="3" height="1" fill="#000000"/>
<rect x="932" y="895" width="3" height="1" fill="#000000"/>
<path fill="#000000" d="M929 892h1v1h-1zM928 893h2v1h-2zM927 894h4v1h-4zM927 895h4v1h-4zM927 896h4v1h-4zM928 897h2v1h-2z"/>
<rect x="934" y="895" width="3" height="1" fill="#000000"/>
<rect x="942" y="895" width="3" height="1" fill="#000000"/>
<path fill="#000000" d="M939 892h1v1h-1zM938 893h2v1h-2zM937 894h4v1h-4zM937 895h4v1h-4zM937 896h4v1h-4zM938 897h2v1h-2z"/>
<rect x="944" y="895" width="3" height="1" fill="#000000"/>
<rect x="952" y="895" width="3" height="1" fill="#000000"/>
<path fill="#000000" d="M949 892h1v1h-1zM948 893h2v1h-2zM947 894h4v1h-4zM947 895h4v1h-4zM947 896h4v1h-4zM948 897h2v1h-2z"/>
<rect x="954" y="896" width="3" height="1" fill="#000000"/>
<rect x="962" y="896" width="3" height="1" fill="#000000"/>
<path fill="#000000" d="M959 893h1v1h-1zM958 894h2v1h-2zM957 895h4v1h-4zM957 896h4v1h-4zM957 897h4v1h-4zM958 898h2v1h-2z"/>
<rect x="965" y="896" width="3" height="1" fill="#000000"/>
<rect x="973" y="896" width="3" height="1" fill="#000000"/>
<path fill="#000000" d="M970 893h1v1h-1zM969 894h2v1h-2zM968 895h4v1h-4zM968 896h4v1h-4zM968 897h4v1h-4zM969 898h2v1h-2z"/>
<rect x="975" y="896" width="3" height="1" fill="#000000"/>
<rect x="983" y="896" width="3" height="1" fill="#000000"/>
<path fill="#000000" d="M980 893h1v1h-1zM979 894h2v1h-2zM978 895h4v1h-4zM978 896h4v1h-4zM978 897h4v1h-4zM979 898h2v1h-2z"/>
<rect x="985" y="895" width="3" height="1" fill="#000000"/>
<rect x="993" y="895" width="3" height="1" fill="#000000"/>
<path fill="#000000" d="M990 892h1v1h-1zM989 893h2v1h-2zM988 894h4v1h-4zM988 895h4v1h-4zM988 896h4v1h-4zM989 897h2v1h-2z"/>
<rect x="995" y="895" width="3" height="1" fill="#000000"/>
<rect x="1003" y="895" width="3" height="1" fill="#000000"/>
<path fill="#000000" d="M1000 892h1v1h-1zM999 893h2v1h-2zM998 894h4v1h-4zM998 895h4v1h-4zM998 896h4v1h-4zM999 897h2v1h-2z"/>
<rect x="1005" y="895" width="3" height="1" fill="#000000"/>
<rect x="1013" y="895" width="3" height="1" fill="#000000"/>
<path fill="#000000" d="M1010 892h1v1h-1zM1009 893h2v1h-2zM1008 894h4v1h-4zM1008 895h4v1h-4zM1008 896h4v1h-4zM1009 897h2v1h-2z"/>
<rect x="1016" y="895" width="3" height="1" fill="#000000"/>
<rect x="1024" y="895" width="3" height="1" fill="#000000"/>
<path fill="#000000" d="M1021 892h1v1h-1zM1020 893h2v1h-2zM1019 894h4v1h-4zM1019 895h4v1h-4zM1019 896h4v1h-4zM1020 897h2v1h-2z"/>
<rect x="1026" y="895" width="3" height="1" fill="#000000"/>
<rect x="1034" y="895" width="3" height="1" fill="#000000"/>
<path fill="#000000" d="M1031 892h1v1h-1zM1030 893h2v1h-2zM1029 894h4v1h-4zM1029 895h4v1h-4zM1029 896h4v1h-4zM1030 897h2v1h-2z"/>
<rect x="1036" y="896" width="3" height="1" fill="#000000"/>
<rect x="1044" y="896" width="3" height="1" fill="#000000"/>
<path fill="#000000" d="M1041 893h1v1h-1zM1040 894h2v1h-2zM1039 895h4v1h-4zM1039 896h4v1h-4zM1039 897h4v1h-4zM1040 898h2v1h-2z"/>
<rect x="1046" y="895" width="3" height="1" fill="#000000"/>
<rect x="1054" y="895" width="3" height="1" fill="#000000"/>
<path fill="#000000" d="M1051 892h1v1h-1zM1050 893h2v1h-2zM1049 894h4v1h-4zM1049 895h4v1h-4zM1049 896h4v1h-4zM1050 897h2v1h-2z"/>
<rect x="1057" y="896" width="3" height="1" fill="#000000"/>
<rect x="1065" y="896" width="3" height="1" fill="#000000"/>
<path fill="#000000" d="M1062 893h1v1h-1zM1061 894h2v1h-2zM1060 895h4v1h-4zM1060 896h4v1h-4zM1060 897h4v1h-4zM1061 898h2v1h-2z"/>
<rect x="1067" y="895" width="3" height="1" fill="#000000"/>
<rect x="1075" y="895" width="3" height="1" fill="#000000"/>
<path fill="#000000" d="M1072 892h1v1h-1zM1071 893h2v1h-2zM1070 894h4v1h-4zM1070 895h4v1h-4zM1070 896h4v1h-4zM1071 897h2v1h-2z"/>
<rect x="1077" y="896" width="3" height="1" fill="#000000"/>
<rect x="1085" y="896" width="3" height="1" fill="#000000"/>
<path fill="#000000" d="M1082 893h1v1h-1zM1081 894h2v1h-2zM1080 895h4v1h-4zM1080 896h4v1h-4zM1080 897h4v1h-4zM1081 898h2v1h-2z"/>
<rect x="1087" y="896" width="3" height="1" fill="#000000"/>
<rect x="1095" y="896" width="3" height="1" fill="#000000"/>
<path fill="#000000" d="M1092 893h1v1h-1zM1091 894h2v1h-2zM1090 895h4v1h-4zM1090 896h4v1h-4zM1090 897h4v1h-4zM1091 898h2v1h-2z"/>
<rect x="1097" y="896" width="3" height="1" fill="#000000"/>
<rect x="1105" y="896" width="3" height="1" fill="#000000"/>
<path fill="#000000" d="M1102 893h1v1h-1zM1101 894h2v1h-2zM1100 895h4v1h-4zM1100 896h4v1h-4zM1100 897h4v1h-4zM1101 898h2v1h-2z"/>
<rect x="1108" y="896" width="3" height="1" fill="#000000"/>
<rect x="1116" y="896" width="3" height="1" fill="#000000"/>
<path fill="#000000" d="M1113 893h1v1h-1zM1112 894h2v1h-2zM1111 895h4v1h-4zM1111 896h4v1h-4zM1111 897h4v1h-4zM1112 898h2v1h-2z"/>
<rect x="1118" y="896" width="3" height="1" fill="#000000"/>
<rect x="1126" y="896" width="3" height="1" fill="#000000"/>
<path fill="#000000" d="M1123 893h1v1h-1zM1122 894h2v1h-2zM1121 895h4v1h-4zM1121 896h4v1h-4zM1121 897h4v1h-4zM1122 898h2v1h-2z"/>
<rect x="1128" y="896" width="3" height="1" fill="#000000"/>
<rect x="1136" y="896" width="3" height="1" fill="#000000"/>
<path fill="#000000" d="M1133 893h1v1h-1zM1132 894h2v1h-2zM1131 895h4v1h-4zM1131 896h4v1h-4zM1131 897h4v1h-4zM1132 898h2v1h-2z"/>
<rect x="1138" y="895" width="3" height="1" fill="#000000"/>
<rect x="1146" y="895" width="3" height="1" fill="#000000"/>
<path fill="#000000" d="M1143 892h1v1h-1zM1142 893h2v1h-2zM1141 894h4v1h-4zM1141 895h4v1h-4zM1141 896h4v1h-4zM1142 897h2v1h-2z"/>
<rect x="128" y="763" width="2" height="1" fill="#009900"/>
<rect x="135" y="763" width="3" height="1" fill="#009900"/>
<path fill="#009900" d="M128 759h7v1h-7zM129 760h6v1h-6zM130 761h5v1h-5zM130 762h4v1h-4zM130 763h4v1h-4zM131 764h2v1h-2zM132 765h1v1h-1z"/>
<rect x="137" y="438" width="3" height="1" fill="#009900"/>
<rect x="145" y="438" width="3" height="1" fill="#009900"/>
<path fill="#009900" d="M138 434h7v1h-7zM139 435h6v1h-6zM140 436h5v1h-5zM140 437h4v1h-4zM140 438h4v1h-4zM141 439h2v1h-2zM142 440h1v1h-1z"/>
<rect x="148" y="511" width="3" height="1" fill="#009900"/>
<rect x="156" y="511" width="3" height="1" fill="#009900"/>
<path fill="#009900" d="M149 507h7v1h-7zM150 508h6v1h-6zM151 509h5v1h-5zM151 510h4v1h-4zM151 511h4v1h-4zM152 512h2v1h-2zM153 513h1v1h-1z"/>
<rect x="158" y="612" width="3" height="1" fill="#009900"/>
<rect x="166" y="612" width="3" height="1" fill="#009900"/>
<path fill="#009900" d="M159 608h7v1h-7zM160 609h6v1h-6zM161 610h5v1h-5zM161 611h4v1h-4zM161 612h4v1h-4zM162 613h2v1h-2zM163 614h1v1h-1z"/>
<rect x="168" y="685" width="3" height="1" fill="#009900"/>
<rect x="176" y="685" width="3" height="1" fill="#009900"/>
<path fill="#009900" d="M169 681h7v1h-7zM170 682h6v1h-6zM171 683h5v1h-5zM171 684h4v1h-4zM171 685h4v1h-4zM172 686h2v1h-2zM173 687h1v1h-1z"/>
<rect x="178" y="736" width="3" height="1" fill="#009900"/>
<rect x="186" y="736" width="3" height="1" fill="#009900"/>
<path fill="#009900" d="M179 732h7v1h-7zM180 733h6v1h-6zM181 734h5v1h-5zM181 735h4v1h-4zM181 736h4v1h-4zM182 737h2v1h-2zM183 738h1v1h-1z"/>
<rect x="188" y="773" width="3" height="1" fill="#009900"/>
<rect x="196" y="773" width="3" height="1" fill="#009900"/>
<path fill="#009900" d="M189 769h7v1h-7zM190 770h6v1h-6zM191 771h5v1h-5zM191 772h4v1h-4zM191 773h4v1h-4zM192 774h2v1h-2zM193 775h1v1h-1z"/>
<rect x="199" y="799" width="3" height="1" fill="#009900"/>
<rect x="207" y="799" width="3" height="1" fill="#009900"/>
<path fill="#009900" d="M200 795h7v1h-7zM201 796h6v1h-6zM202 797h5v1h-5zM202 798h4v1h-4zM202 799h4v1h-4zM203 800h2v1h-2zM204 801h1v1h-1z"/>
<rect x="209" y="816" width="3" height="1" fill="#009900"/>
<rect x="217" y="816" width="3" height="1" fill="#009900"/>
<path fill="#009900" d="M210 812h7v1h-7zM211 813h6v1h-6zM212 814h5v1h-5zM212 815h4v1h-4zM212 816h4v1h-4zM213 817h2v1h-2zM214 818h1v1h-1z"/>
<rect x="219" y="831" width="3" height="1" fill="#009900"/>
<rect x="227" y="831" width="3" height="1" fill="#009900"/>
<path fill="#009900" d="M220 827h7v1h-7zM221 828h6v1h-6zM222 829h5v1h-5zM222 830h4v1h-4zM222 831h4v1h-4zM223 832h2v1h-2zM224 833h1v1h-1z"/>
<rect x="229" y="842" width="3" height="1" fill="#009900"/>
<rect x="237" y="842" width="3" height="1" fill="#009900"/>
<path fill="#009900" d="M230 838h7v1h-7zM231 839h6v1h-6zM232 840h5v1h-5zM232 841h4v1h-4zM232 842h4v1h-4zM233 843h2v1h-2zM234 844h1v1h-1z"/>
<rect x="240" y="851" width="3" height="1" fill="#009900"/>
<rect x="248" y="851" width="3" height="1" fill="#009900"/>
<path fill="#009900" d="M241 847h7v1h-7zM242 848h6v1h-6zM243 849h5v1h-5zM243 850h4v1h-4zM243 851h4v1h-4zM244 852h2v1h-2zM245 853h1v1h-1z"/>
<rect x="250" y="857" width="3" height="1" fill="#009900"/>
<rect x="258" y="857" width="3" height="1" fill="#009900"/>
<path fill="#009900" d="M251 853h7v1h-7zM252 854h6v1h-6zM253 855h5v1h-5zM253 856h4v1h-4zM253 857h4v1h-4zM254 858h2v1h-2zM255 859h1v1h-1z"/>
<rect x="260" y="862" width="3" height="1" fill="#009900"/>
<rect x="268" y="862" width="3" height="1" fill="#009900"/>
<path fill="#009900" d="M261 858h7v1h-7zM262 859h6v1h-6zM263 860h5v1h-5zM263 861h4v1h-4zM263 862h4v1h-4zM264 863h2v1h-2zM265 864h1v1h-1z"/>
<rect x="270" y="866" width="3" height="1" fill="#009900"/>
<rect x="278" y="866" width="3" height="1" fill="#009900"/>
<path fill="#009900" d="M271 862h7v1h-7zM272 863h6v1h-6zM273 864h5v1h-5zM273 865h4v1h-4zM273 866h4v1h-4zM274 867h2v1h-2zM275 868h1v1h-1z"/>
<rect x="280" y="871" width="3" height="1" fill="#009900"/>
<rect x="288" y="871" width="3" height="1" fill="#009900"/>
<path fill="#009900" d="M281 867h7v1h-7zM282 868h6v1h-6zM283 869h5v1h-5zM283 870h4v1h-4zM283 871h4v1h-4zM284 872h2v1h-2zM285 873h1v1h-1z"/>
<rect x="291" y="873" width="3" height="1" fill="#009900"/>
<rect x="299" y="873" width="3" height="1" fill="#009900"/>
<path fill="#009900" d="M292 869h7v1h-7zM293 870h6v1h-6zM294 871h5v1h-5zM294 872h4v1h-4zM294 873h4v1h-4zM295 874h2v1h-2zM296 875h1v1h-1z"/>
<rect x="301" y="874" width="3" height="1" fill="#009900"/>
<rect x="309" y="874" width="3" height="1" fill="#009900"/>
<path fill="#009900" d="M302 870h7v1h-7zM303 871h6v1h-6zM304 872h5v1h-5zM304 873h4v1h-4zM304 874h4v1h-4zM305 875h2v1h-2zM306 876h1v1h-1z"/>
<rect x="311" y="877" width="3" height="1" fill="#009900"/>
<rect x="319" y="877" width="3" height="1" fill="#009900"/>
<path fill="#009900" d="M312 873h7v1h-7zM313 874h6v1h-6zM314 875h5v1h-5zM314 876h4v1h-4zM314 877h4v1h-4zM315 878h2v1h-2zM316 879h1v1h-1z"/>
<rect x="321" y="879" width="3" height="1" fill="#009900"/>
<rect x="329" y="879" width="3" height="1" fill="#009900"/>
<path fill="#009900" d="M322 875h7v1h-7zM323 876h6v1h-6zM324 877h5v1h-5zM324 878h4v1h-4zM324 879h4v1h-4zM325 880h2v1h-2zM326 881h1v1h-1z"/>
<rect x="331" y="880" width="3" height="1" fill="#009900"/>
<rect x="339" y="880" width="3" height="1" fill="#009900"/>
<path fill="#009900" d="M332 876h7v1h-7zM333 877h6v1h-6zM334 878h5v1h-5zM334 879h4v1h-4zM334 880h4v1h-4zM335 881h2v1h-2zM336 882h1v1h-1z"/>
<rect x="342" y="882" width="3" height="1" fill="#009900"/>
<rect x="350" y="882" width="3" height="1" fill="#009900"/>
<path fill="#009900" d="M343 878h7v1h-7zM344 879h6v1h-6zM345 880h5v1h-5zM345 881h4v1h-4zM345 882h4v1h-4zM346 883h2v1h-2zM347 884h1v1h-1z"/>
<rect x="352" y="884" width="3" height="1" fill="#009900"/>
<rect x="360" y="884" width="3" height="1" fill="#009900"/>
<path fill="#009900" d="M353 880h7v1h-7zM354 881h6v1h-6zM355 882h5v1h-5zM355 883h4v1h-4zM355 884h4v1h-4zM356 885h2v1h-2zM357 886h1v1h-1z"/>
<rect x="362" y="885" width="3" height="1" fill="#009900"/>
<rect x="370" y="885" width="3" height="1" fill="#009900"/>
<path fill="#009900" d="M363 881h7v1h-7zM364 882h6v1h-6zM365 883h5v1h-5zM365 884h4v1h-4zM365 885h4v1h-4zM366 886h2v1h-2zM367 887h1v1h-1z"/>
<rect x="372" y="886" width="3" height="1" fill="#009900"/>
<rect x="380" y="886" width="3" height="1" fill="#009900"/>
<path fill="#009900" d="M373 882h7v1h-7zM374 883h6v1h-6zM375 884h5v1h-5zM375 885h4v1h-4zM375 886h4v1h-4zM376 887h2v1h-2zM377 888h1v1h-1z"/>
<rect x="383" y="887" width="3" height="1" fill="#009900"/>
<rect x="391" y="887" width="3" height="1" fill="#009900"/>
<path fill="#009900" d="M384 883h7v1h-7zM385 884h6v1h-6zM386 885h5v1h-5zM386 886h4v1h-4zM386 887h4v1h-4zM387 888h2v1h-2zM388 889h1v1h-1z"/>
<rect x="393" y="888" width="3" height="1" fill="#009900"/>
<rect x="401" y="888" width="3" height="1" fill="#009900"/>
<path fill="#009900" d="M394 884h7v1h-7zM395 885h6v1h-6zM396 886h5v1h-5zM396 887h4v1h-4zM396 888h4v1h-4zM397 889h2v1h-2zM398 890h1v1h-1z"/>
<rect x="403" y="889" width="3" height="1" fill="#009900"/>
<rect x="411" y="889" width="3" height="1" fill="#009900"/>
<path fill="#009900" d="M404 885h7v1h-7zM405 886h6v1h-6zM406 887h5v1h-5zM406 888h4v1h-4zM406 889h4v1h-4zM407 890h2v1h-2zM408 891h1v1h-1z"/>
<rect x="413" y="889" width="3" height="1" fill="#009900"/>
<rect x="421" y="889" width="3" height="1" fill="#009900"/>
<path fill="#009900" d="M414 885h7v1h-7zM415 886h6v1h-6zM416 887h5v1h-5zM416 888h4v1h-4zM416 889h4v1h-4zM417 890h2v1h-2zM418 891h1v1h-1z"/>
<rect x="423" y="890" width="3" height="1" fill="#009900"/>
<rect x="431" y="890" width="3" height="1" fill="#009900"/>
<path fill="#009900" d="M424 886h7v1h-7zM425 887h6v1h-6zM426 888h5v1h-5zM426 889h4v1h-4zM426 890h4v1h-4zM427 891h2v1h-2zM428 892h1v1h-1z"/>
<rect x="434" y="890" width="3" height="1" fill="#009900"/>
<rect x="442" y="890" width="3" height="1" fill="#009900"/>
<path fill="#009900" d="M435 886h7v1h-7zM436 887h6v1h-6zM437 888h5v1h-5zM437 889h4v1h-4zM437 890h4v1h-4zM438 891h2v1h-2zM439 892h1v1h-1z"/>
<rect x="444" y="891" width="3" height="1" fill="#009900"/>
<rect x="452" y="891" width="3" height="1" fill="#009900"/>
<path fill="#009900" d="M445 887h7v1h-7zM446 888h6v1h-6zM447 889h5v1h-5zM447 890h4v1h-4zM447 891h4v1h-4zM448 892h2v1h-2zM449 893h1v1h-1z"/>
<rect x="454" y="891" width="3" height="1" fill="#009900"/>
<rect x="462" y="891" width="3" height="1" fill="#009900"/>
<path fill="#009900" d="M455 887h7v1h-7zM456 888h6v1h-6zM457 889h5v1h-5zM457 890h4v1h-4zM457 891h4v1h-4zM458 892h2v1h-2zM459 893h1v1h-1z"/>
<rect x="464" y="892" width="3" height="1" fill="#009900"/>
<rect x="472" y="892" width="3" height="1" fill="#009900"/>
<path fill="#009900" d="M465 888h7v1h-7zM466 889h6v1h-6zM467 890h5v1h-5zM467 891h4v1h-4zM467 892h4v1h-4zM468 893h2v1h-2zM469 894h1v1h-1z"/>
<rect x="474" y="892" width="3" height="1" fill="#009900"/>
<rect x="482" y="892" width="3" height="1" fill="#009900"/>
<path fill="#009900" d="M475 888h7v1h-7zM476 889h6v1h-6zM477 890h5v1h-5zM477 891h4v1h-4zM477 892h4v1h-4zM478 893h2v1h-2zM479 894h1v1h-1z"/>
<rect x="485" y="892" width="3" height="1" fill="#009900"/>
<rect x="493" y="892" width="3" height="1" fill="#009900"/>
<path fill="#009900" d="M486 888h7v1h-7zM487 889h6v1h-6zM488 890h5v1h-5zM488 891h4v1h-4zM488 892h4v1h-4zM489 893h2v1h-2zM490 894h1v1h-1z"/>
<rect x="495" y="893" width="3" height="1" fill="#009900"/>
<rect x="503" y="893" width="3" height="1" fill="#009900"/>
<path fill="#009900" d="M496 889h7v1h-7zM497 890h6v1h-6zM498 891h5v1h-5zM498 892h4v1h-4zM498 893h4v1h-4zM499 894h2v1h-2zM500 895h1v1h-1z"/>
<rect x="505" y="893" width="3" height="1" fill="#009900"/>
<rect x="513" y="893" width="3" height="1" fill="#009900"/>
<path fill="#009900" d="M506 889h7v1h-7zM507 890h6v1h-6zM508 891h5v1h-5zM508 892h4v1h-4zM508 893h4v1h-4zM509 894h2v1h-2zM510 895h1v1h-1z"/>
<rect x="515" y="893" width="3" height="1" fill="#009900"/>
<rect x="523" y="893" width="3" height="1" fill="#009900"/>
<path fill="#009900" d="M516 889h7v1h-7zM517 890h6v1h-6zM518 891h5v1h-5zM518 892h4v1h-4zM518 893h4v1h-4zM519 894h2v1h-2zM520 895h1v1h-1z"/>
<rect x="525" y="893" width="3" height="1" fill="#009900"/>
<rect x="533" y="893" width="3" height="1" fill="#009900"/>
<path fill="#009900" d="M526 889h7v1h-7zM527 890h6v1h-6zM528 891h5v1h-5zM528 892h4v1h-4zM528 893h4v1h-4zM529 894h2v1h-2zM530 895h1v1h-1z"/>
<rect x="536" y="894" width="3" height="1" fill="#009900"/>
<rect x="544" y="894" width="3" height="1" fill="#009900"/>
<path fill="#009900" d="M537 890h7v1h-7zM538 891h6v1h-6zM539 892h5v1h-5zM539 893h4v1h-4zM539 894h4v1h-4zM540 895h2v1h-2zM541 896h1v1h-1z"/>
<rect x="546" y="894" width="3" height="1" fill="#009900"/>
<rect x="554" y="894" width="3" height="1" fill="#009900"/>
<path fill="#009900" d="M547 890h7v1h-7zM548 891h6v1h-6zM549 892h5v1h-5zM549 893h4v1h-4zM549 894h4v1h-4zM550 895h2v1h-2zM551 896h1v1h-1z"/>
<rect x="556" y="894" width="3" height="1" fill="#009900"/>
<rect x="564" y="894" width="3" height="1" fill="#009900"/>
<path fill="#009900" d="M557 890h7v1h-7zM558 891h6v1h-6zM559 892h5v1h-5zM559 893h4v1h-4zM559 894h4v1h-4zM560 895h2v1h-2zM561 896h1v1h-1z"/>
<rect x="566" y="894" width="3" height="1" fill="#009900"/>
<rect x="574" y="894" width="3" height="1" fill="#009900"/>
<path fill="#009900" d="M567 890h7v1h-7zM568 891h6v1h-6zM569 892h5v1h-5zM569 893h4v1h-4zM569 894h4v1h-4zM570 895h2v1h-2zM571 896h1v1h-1z"/>
<rect x="577" y="894" width="3" height="1" fill="#009900"/>
<rect x="585" y="894" width="3" height="1" fill="#009900"/>
<path fill="#009900" d="M578 890h7v1h-7zM579 891h6v1h-6zM580 892h5v1h-5zM580 893h4v1h-4zM580 894h4v1h-4zM581 895h2v1h-2zM582 896h1v1h-1z"/>
<rect x="587" y="894" width="3" height="1" fill="#009900"/>
<rect x="595" y="894" width="3" height="1" fill="#009900"/>
<path fill="#009900" d="M588 890h7v1h-7zM589 891h6v1h-6zM590 892h5v1h-5zM590 893h4v1h-4zM590 894h4v1h-4zM591 895h2v1h-2zM592 896h1v1h-1z"/>
<rect x="597" y="894" width="3" height="1" fill="#009900"/>
<rect x="605" y="894" width="3" height="1" fill="#009900"/>
<path fill="#009900" d="M598 890h7v1h-7zM599 891h6v1h-6zM600 892h5v1h-5zM600 893h4v1h-4zM600 894h4v1h-4zM601 895h2v1h-2zM602 896h1v1h-1z"/>
<rect x="607" y="894" width="3" height="1" fill="#009900"/>
<rect x="615" y="894" width="3" height="1" fill="#009900"/>
<path fill="#009900" d="M608 890h7v1h-7zM609 891h6v1h-6zM610 892h5v1h-5zM610 893h4v1h-4zM610 894h4v1h-4zM611 895h2v1h-2zM612 896h1v1h-1z"/>
<rect x="617" y="895" width="3" height="1" fill="#009900"/>
<rect x="625" y="895" width="3" height="1" fill="#009900"/>
<path fill="#009900" d="M618 891h7v1h-7zM619 892h6v1h-6zM620 893h5v1h-5zM620 894h4v1h-4zM620 895h4v1h-4zM621 896h2v1h-2zM622 897h1v1h-1z"/>
<rect x="628" y="895" width="3" height="1" fill="#009900"/>
<rect x="636" y="895" width="3" height="1" fill="#009900"/>
<path fill="#009900" d="M629 891h7v1h-7zM630 892h6v1h-6zM631 893h5v1h-5zM631 894h4v1h-4zM631 895h4v1h-4zM632 896h2v1h-2zM633 897h1v1h-1z"/>
<rect x="638" y="895" width="3" height="1" fill="#009900"/>
<rect x="646" y="895" width="3" height="1" fill="#009900"/>
<path fill="#009900" d="M639 891h7v1h-7zM640 892h6v1h-6zM641 893h5v1h-5zM641 894h4v1h-4zM641 895h4v1h-4zM642 896h2v1h-2zM643 897h1v1h-1z"/>
<rect x="648" y="895" width="3" height="1" fill="#009900"/>
<rect x="656" y="895" width="3" height="1" fill="#009900"/>
<path fill="#009900" d="M649 891h7v1h-7zM650 892h6v1h-6zM651 893h5v1h-5zM651 894h4v1h-4zM651 895h4v1h-4zM652 896h2v1h-2zM653 897h1v1h-1z"/>
<rect x="658" y="895" width="3" height="1" fill="#009900"/>
<rect x="666" y="895" width="3" height="1" fill="#009900"/>
<path fill="#009900" d="M659 891h7v1h-7zM660 892h6v1h-6zM661 893h5v1h-5zM661 894h4v1h-4zM661 895h4v1h-4zM662 896h2v1h-2zM663 897h1v1h-1z"/>
<rect x="668" y="895" width="3" height="1" fill="#009900"/>
<rect x="676" y="895" width="3" height="1" fill="#009900"/>
<path fill="#009900" d="M669 891h7v1h-7zM670 892h6v1h-6zM671 893h5v1h-5zM671 894h4v1h-4zM671 895h4v1h-4zM672 896h2v1h-2zM673 897h1v1h-1z"/>
<rect x="679" y="895" width="3" height="1" fill="#009900"/>
<rect x="687" y="895" width="3" height="1" fill="#009900"/>
<path fill="#009900" d="M680 891h7v1h-7zM681 892h6v1h-6zM682 893h5v1h-5zM682 894h4v1h-4zM682 895h4v1h-4zM683 896h2v1h-2zM684 897h1v1h-1z"/>
<rect x="689" y="895" width="3" height="1" fill="#009900"/>
<rect x="697" y="895" width="3" height="1" fill="#009900"/>
<path fill="#009900" d="M690 891h7v1h-7zM691 892h6v1h-6zM692 893h5v1h-5zM692 894h4v1h-4zM692 895h4v1h-4zM693 896h2v1h-2zM694 897h1v1h-1z"/>
<rect x="699" y="895" width="3" height="1" fill="#009900"/>
<rect x="707" y="895" width="3" height="1" fill="#009900"/>
<path fill="#009900" d="M700 891h7v1h-7zM701 892h6v1h-6zM702 893h5v1h-5zM702 894h4v1h-4zM702 895h4v1h-4zM703 896h2v1h-2zM704 897h1v1h-1z"/>
<rect x="709" y="895" width="3" height="1" fill="#009900"/>
<rect x="717" y="895" width="3" height="1" fill="#009900"/>
<path fill="#009900" d="M710 891h7v1h-7zM711 892h6v1h-6zM712 893h5v1h-5zM712 894h4v1h-4zM712 895h4v1h-4zM713 896h2v1h-2zM714 897h1v1h-1z"/>
<rect x="720" y="895" width="3" height="1" fill="#009900"/>
<rect x="728" y="895" width="3" height="1" fill="#009900"/>
<path fill="#009900" d="M721 891h7v1h-7zM722 892h6v1h-6zM723 893h5v1h-5zM723 894h4v1h-4zM723 895h4v1h-4zM724 896h2v1h-2zM725 897h1v1h-1z"/>
<rect x="730" y="895" width="3" height="1" fill="#009900"/>
<rect x="738" y="895" width="3" height="1" fill="#009900"/>
<path fill="#009900" d="M731 891h7v1h-7zM732 892h6v1h-6zM733 893h5v1h-5zM733 894h4v1h-4zM733 895h4v1h-4zM734 896h2v1h-2zM735 897h1v1h-1z"/>
<rect x="740" y="895" width="3" height="1" fill="#009900"/>
<rect x="748" y="895" width="3" height="1" fill="#009900"/>
<path fill="#009900" d="M741 891h7v1h-7zM742 892h6v1h-6zM743 893h5v1h-5zM743 894h4v1h-4zM743 895h4v1h-4zM744 896h2v1h-2zM745 897h1v1h-1z"/>
<rect x="750" y="895" width="3" height="1" fill="#009900"/>
<rect x="758" y="895" width="3" height="1" fill="#009900"/>
<path fill="#009900" d="M751 891h7v1h-7zM752 892h6v1h-6zM753 893h5v1h-5zM753 894h4v1h-4zM753 895h4v1h-4zM754 896h2v1h-2zM755 897h1v1h-1z"/>
<rect x="760" y="895" width="3" height="1" fill="#009900"/>
<rect x="768" y="895" width="3" height="1" fill="#009900"/>
<path fill="#009900" d="M761 891h7v1h-7zM762 892h6v1h-6zM763 893h5v1h-5zM763 894h4v1h-4zM763 895h4v1h-4zM764 896h2v1h-2zM765 897h1v1h-1z"/>
<rect x="771" y="895" width="3" height="1" fill="#009900"/>
<rect x="779" y="895" width="3" height="1" fill="#009900"/>
<path fill="#009900" d="M772 891h7v1h-7zM773 892h6v1h-6zM774 893h5v1h-5zM774 894h4v1h-4zM774 895h4v1h-4zM775 896h2v1h-2zM776 897h1v1h-1z"/>
<rect x="781" y="896" width="3" height="1" fill="#009900"/>
<rect x="789" y="896" width="3" height="1" fill="#009900"/>
<path fill="#009900" d="M782 892h7v1h-7zM783 893h6v1h-6zM784 894h5v1h-5zM784 895h4v1h-4zM784 896h4v1h-4zM785 897h2v1h-2zM786 898h1v1h-1z"/>
<rect x="791" y="896" width="3" height="1" fill="#009900"/>
<rect x="799" y="896" width="3" height="1" fill="#009900"/>
<path fill="#009900" d="M792 892h7v1h-7zM793 893h6v1h-6zM794 894h5v1h-5zM794 895h4v1h-4zM794 896h4v1h-4zM795 897h2v1h-2zM796 898h1v1h-1z"/>
<rect x="801" y="896" width="3" height="1" fill="#009900"/>
<rect x="809" y="896" width="3" height="1" fill="#009900"/>
<path fill="#009900" d="M802 892h7v1h-7zM803 893h6v1h-6zM804 894h5v1h-5zM804 895h4v1h-4zM804 896h4v1h-4zM805 897h2v1h-2zM806 898h1v1h-1z"/>
<rect x="811" y="896" width="3" height="1" fill="#009900"/>
<rect x="819" y="896" width="3" height="1" fill="#009900"/>
<path fill="#009900" d="M812 892h7v1h-7zM813 893h6v1h-6zM814 894h5v1h-5zM814 895h4v1h-4zM814 896h4v1h-4zM815 897h2v1h-2zM816 898h1v1h-1z"/>
<rect x="822" y="896" width="3" height="1" fill="#009900"/>
<rect x="830" y="896" width="3" height="1" fill="#009900"/>
<path fill="#009900" d="M823 892h7v1h-7zM824 893h6v1h-6zM825 894h5v1h-5zM825 895h4v1h-4zM825 896h4v1h-4zM826 897h2v1h-2zM827 898h1v1h-1z"/>
<rect x="832" y="896" width="3" height="1" fill="#009900"/>
<rect x="840" y="896" width="3" height="1" fill="#009900"/>
<path fill="#009900" d="M833 892h7v1h-7zM834 893h6v1h-6zM835 894h5v1h-5zM835 895h4v1h-4zM835 896h4v1h-4zM836 897h2v1h-2zM837 898h1v1h-1z"/>
<rect x="842" y="896" width="3" height="1" fill="#009900"/>
<rect x="850" y="896" width="3" height="1" fill="#009900"/>
<path fill="#009900" d="M843 892h7v1h-7zM844 893h6v1h-6zM845 894h5v1h-5zM845 895h4v1h-4zM845 896h4v1h-4zM846 897h2v1h-2zM847 898h1v1h-1z"/>
<rect x="852" y="896" width="3" height="1" fill="#009900"/>
<rect x="860" y="896" width="3" height="1" fill="#009900"/>
<path fill="#009900" d="M853 892h7v1h-7zM854 893h6v1h-6zM855 894h5v1h-5zM855 895h4v1h-4zM855 896h4v1h-4zM856 897h2v1h-2zM857 898h1v1h-1z"/>
<rect x="863" y="896" width="3" height="1" fill="#009900"/>
<rect x="871" y="896" width="3" height="1" fill="#009900"/>
<path fill="#009900" d="M864 892h7v1h-7zM865 893h6v1h-6zM866 894h5v1h-5zM866 895h4v1h-4zM866 896h4v1h-4zM867 897h2v1h-2zM868 898h1v1h-1z"/>
<rect x="873" y="896" width="3" height="1" fill="#009900"/>
<rect x="881" y="896" width="3" height="1" fill="#009900"/>
<path fill="#009900" d="M874 892h7v1h-7zM875 893h6v1h-6zM876 894h5v1h-5zM876 895h4v1h-4zM876 896h4v1h-4zM877 897h2v1h-2zM878 898h1v1h-1z"/>
<rect x="883" y="896" width="3" height="1" fill="#009900"/>
<rect x="891" y="896" width="3" height="1" fill="#009900"/>
<path fill="#009900" d="M884 892h7v1h-7zM885 893h6v1h-6zM886 894h5v1h-5zM886 895h4v1h-4zM886 896h4v1h-4zM887 897h2v1h-2zM888 898h1v1h-1z"/>
<rect x="893" y="896" width="3" height="1" fill="#009900"/>
<rect x="901" y="896" width="3" height="1" fill="#009900"/>
<path fill="#009900" d="M894 892h7v1h-7zM895 893h6v1h-6zM896 894h5v1h-5zM896 895h4v1h-4zM896 896h4v1h-4zM897 897h2v1h-2zM898 898h1v1h-1z"/>
<rect x="903" y="896" width="3" height="1" fill="#009900"/>
<rect x="911" y="896" width="3" height="1" fill="#009900"/>
<path fill="#009900" d="M904 892h7v1h-7zM905 893h6v1h-6zM906 894h5v1h-5zM906 895h4v1h-4zM906 896h4v1h-4zM907 897h2v1h-2zM908 898h1v1h-1z"/>
<rect x="914" y="896" width="3" height="1" fill="#009900"/>
<rect x="922" y="896" width="3" height="1" fill="#009900"/>
<path fill="#009900" d="M915 892h7v1h-7zM916 893h6v1h-6zM917 894h5v1h-5zM917 895h4v1h-4zM917 896h4v1h-4zM918 897h2v1h-2zM919 898h1v1h-1z"/>
<rect x="924" y="896" width="3" height="1" fill="#009900"/>
<rect x="932" y="896" width="3" height="1" fill="#009900"/>
<path fill="#009900" d="M925 892h7v1h-7zM926 893h6v1h-6zM927 894h5v1h-5zM927 895h4v1h-4zM927 896h4v1h-4zM928 897h2v1h-2zM929 898h1v1h-1z"/>
<rect x="934" y="896" width="3" height="1" fill="#009900"/>
<rect x="942" y="896" width="3" height="1" fill="#009900"/>
<path fill="#009900" d="M935 892h7v1h-7zM936 893h6v1h-6zM937 894h5v1h-5zM937 895h4v1h-4zM937 896h4v1h-4zM938 897h2v1h-2zM939 898h1v1h-1z"/>
<rect x="944" y="896" width="3" height="1" fill="#009900"/>
<rect x="952" y="896" width="3" height="1" fill="#009900"/>
<path fill="#009900" d="M945 892h7v1h-7zM946 893h6v1h-6zM947 894h5v1h-5zM947 895h4v1h-4zM947 896h4v1h-4zM948 897h2v1h-2zM949 898h1v1h-1z"/>
<rect x="954" y="896" width="3" height="1" fill="#009900"/>
<rect x="962" y="896" width="3" height="1" fill="#009900"/>
<path fill="#009900" d="M955 892h7v1h-7zM956 893h6v1h-6zM957 894h5v1h-5zM957 895h4v1h-4zM957 896h4v1h-4zM958 897h2v1h-2zM959 898h1v1h-1z"/>
<rect x="965" y="896" width="3" height="1" fill="#009900"/>
<rect x="973" y="896" width="3" height="1" fill="#009900"/>
<path fill="#009900" d="M966 892h7v1h-7zM967 893h6v1h-6zM968 894h5v1h-5zM968 895h4v1h-4zM968 896h4v1h-4zM969 897h2v1h-2zM970 898h1v1h-1z"/>
<rect x="975" y="896" width="3" height="1" fill="#009900"/>
<rect x="983" y="896" width="3" height="1" fill="#009900"/>
<path fill="#009900" d="M976 892h7v1h-7zM977 893h6v1h-6zM978 894h5v1h-5zM978 895h4v1h-4zM978 896h4v1h-4zM979 897h2v1h-2zM980 898h1v1h-1z"/>
<rect x="985" y="896" width="3" height="1" fill="#009900"/>
<rect x="993" y="896" width="3" height="1" fill="#009900"/>
<path fill="#009900" d="M986 892h7v1h-7zM987 893h6v1h-6zM988 894h5v1h-5zM988 895h4v1h-4zM988 896h4v1h-4zM989 897h2v1h-2zM990 898h1v1h-1z"/>
<rect x="995" y="896" width="3" height="1" fill="#009900"/>
<rect x="1003" y="896" width="3" height="1" fill="#009900"/>
<path fill="#009900" d="M996 892h7v1h-7zM997 893h6v1h-6zM998 894h5v1h-5zM998 895h4v1h-4zM998 896h4v1h-4zM999 897h2v1h-2zM1000 898h1v1h-1z"/>
<rect x="1005" y="896" width="3" height="1" fill="#009900"/>
<rect x="1013" y="896" width="3" height="1" fill="#009900"/>
<path fill="#009900" d="M1006 892h7v1h-7zM1007 893h6v1h-6zM1008 894h5v1h-5zM1008 895h4v1h-4zM1008 896h4v1h-4zM1009 897h2v1h-2zM1010 898h1v1h-1z"/>
<rect x="1016" y="896" width="3" height="1" fill="#009900"/>
<rect x="1024" y="896" width="3" height="1" fill="#009900"/>
<path fill="#009900" d="M1017 892h7v1h-7zM1018 893h6v1h-6zM1019 894h5v1h-5zM1019 895h4v1h-4zM1019 896h4v1h-4zM1020 897h2v1h-2zM1021 898h1v1h-1z"/>
<rect x="1026" y="896" width="3" height="1" fill="#009900"/>
<rect x="1034" y="896" width="3" height="1" fill="#009900"/>
<path fill="#009900" d="M1027 892h7v1h-7zM1028 893h6v1h-6zM1029 894h5v1h-5zM1029 895h4v1h-4zM1029 896h4v1h-4zM1030 897h2v1h-2zM1031 898h1v1h-1z"/>
<rect x="1036" y="896" width="3" height="1" fill="#009900"/>
<rect x="1044" y="896" width="3" height="1" fill="#009900"/>
<path fill="#009900" d="M1037 892h7v1h-7zM1038 893h6v1h-6zM1039 894h5v1h-5zM1039 895h4v1h-4zM1039 896h4v1h-4zM1040 897h2v1h-2zM1041 898h1v1h-1z"/>
<rect x="1046" y="896" width="3" height="1" fill="#009900"/>
<rect x="1054" y="896" width="3" height="1" fill="#009900"/>
<path fill="#009900" d="M1047 892h7v1h-7zM1048 893h6v1h-6zM1049 894h5v1h-5zM1049 895h4v1h-4zM1049 896h4v1h-4zM1050 897h2v1h-2zM1051 898h1v1h-1z"/>
<rect x="1057" y="896" width="3" height="1" fill="#009900"/>
<rect x="1065" y="896" width="3" height="1" fill="#009900"/>
<path fill="#009900" d="M1058 892h7v1h-7zM1059 893h6v1h-6zM1060 894h5v1h-5zM1060 895h4v1h-4zM1060 896h4v1h-4zM1061 897h2v1h-2zM1062 898h1v1h-1z"/>
<rect x="1067" y="896" width="3" height="1" fill="#009900"/>
<rect x="1075" y="896" width="3" height="1" fill="#009900"/>
<path fill="#009900" d="M1068 892h7v1h-7zM1069 893h6v1h-6zM1070 894h5v1h-5zM1070 895h4v1h-4zM1070 896h4v1h-4zM1071 897h2v1h-2zM1072 898h1v1h-1z"/>
<rect x="1077" y="896" width="3" height="1" fill="#009900"/>
<rect x="1085" y="896" width="3" height="1" fill="#009900"/>
<path fill="#009900" d="M1078 892h7v1h-7zM1079 893h6v1h-6zM1080 894h5v1h-5zM1080 895h4v1h-4zM1080 896h4v1h-4zM1081 897h2v1h-2zM1082 898h1v1h-1z"/>
<rect x="1087" y="896" width="3" height="1" fill="#009900"/>
<rect x="1095" y="896" width="3" height="1" fill="#009900"/>
<path fill="#009900" d="M1088 892h7v1h-7zM1089 893h6v1h-6zM1090 894h5v1h-5zM1090 895h4v1h-4zM1090 896h4v1h-4zM1091 897h2v1h-2zM1092 898h1v1h-1z"/>
<rect x="1097" y="896" width="3" height="1" fill="#009900"/>
<rect x="1105" y="896" width="3" height="1" fill="#009900"/>
<path fill="#009900" d="M1098 892h7v1h-7zM1099 893h6v1h-6zM1100 894h5v1h-5zM1100 895h4v1h-4zM1100 896h4v1h-4zM1101 897h2v1h-2zM1102 898h1v1h-1z"/>
<rect x="1108" y="896" width="3" height="1" fill="#009900"/>
<rect x="1116" y="896" width="3" height="1" fill="#009900"/>
<path fill="#009900" d="M1109 892h7v1h-7zM1110 893h6v1h-6zM1111 894h5v1h-5zM1111 895h4v1h-4zM1111 896h4v1h-4zM1112 897h2v1h-2zM1113 898h1v1h-1z"/>
<rect x="1118" y="896" width="3" height="1" fill="#009900"/>
<rect x="1126" y="896" width="3" height="1" fill="#009900"/>
<path fill="#009900" d="M1119 892h7v1h-7zM1120 893h6v1h-6zM1121 894h5v1h-5zM1121 895h4v1h-4zM1121 896h4v1h-4zM1122 897h2v1h-2zM1123 898h1v1h-1z"/>
<rect x="1128" y="896" width="3" height="1" fill="#009900"/>
<rect x="1136" y="896" width="3" height="1" fill="#009900"/>
<path fill="#009900" d="M1129 892h7v1h-7zM1130 893h6v1h-6zM1131 894h5v1h-5zM1131 895h4v1h-4zM1131 896h4v1h-4zM1132 897h2v1h-2zM1133 898h1v1h-1z"/>
<rect x="1138" y="896" width="3" height="1" fill="#009900"/>
<rect x="1146" y="896" width="3" height="1" fill="#009900"/>
<path fill="#009900" d="M1139 892h7v1h-7zM1140 893h6v1h-6zM1141 894h5v1h-5zM1141 895h4v1h-4zM1141 896h4v1h-4zM1142 897h2v1h-2zM1143 898h1v1h-1z"/>
<rect x="128" y="837" width="2" height="1" fill="#990099"/>
<rect x="135" y="837" width="3" height="1" fill="#990099"/>
<path fill="#990099" d="M128 833h6v1h-6zM128 834h6v1h-6zM128 835h6v1h-6zM128 836h6v1h-6zM128 837h6v1h-6zM128 838h6v1h-6z"/>
<rect x="137" y="614" width="3" height="1" fill="#990099"/>
<rect x="145" y="614" width="3" height="1" fill="#990099"/>
<path fill="#990099" d="M138 610h6v1h-6zM138 611h6v1h-6zM138 612h6v1h-6zM138 613h6v1h-6zM138 614h6v1h-6zM138 615h6v1h-6z"/>
<rect x="148" y="610" width="3" height="1" fill="#990099"/>
<rect x="156" y="610" width="3" height="1" fill="#990099"/>
<path fill="#990099" d="M149 606h6v1h-6zM149 607h6v1h-6zM149 608h6v1h-6zM149 609h6v1h-6zM149 610h6v1h-6zM149 611h6v1h-6z"/>
<rect x="158" y="658" width="3" height="1" fill="#990099"/>
<rect x="166" y="658" width="3" height="1" fill="#990099"/>
<path fill="#990099" d="M159 654h6v1h-6zM159 655h6v1h-6zM159 656h6v1h-6zM159 657h6v1h-6zM159 658h6v1h-6zM159 659h6v1h-6z"/>
<rect x="168" y="699" width="3" height="1" fill="#990099"/>
<rect x="176" y="699" width="3" height="1" fill="#990099"/>
<path fill="#990099" d="M169 695h6v1h-6zM169 696h6v1h-6zM169 697h6v1h-6zM169 698h6v1h-6zM169 699h6v1h-6zM169 700h6v1h-6z"/>
<rect x="178" y="739" width="3" height="1" fill="#990099"/>
<rect x="186" y="739" width="3" height="1" fill="#990099"/>
<path fill="#990099" d="M179 735h6v1h-6zM179 736h6v1h-6zM179 737h6v1h-6zM179 738h6v1h-6zM179 739h6v1h-6zM179 740h6v1h-6z"/>
<rect x="188" y="768" width="3" height="1" fill="#990099"/>
<rect x="196" y="768" width="3" height="1" fill="#990099"/>
<path fill="#990099" d="M189 764h6v1h-6zM189 765h6v1h-6zM189 766h6v1h-6zM189 767h6v1h-6zM189 768h6v1h-6zM189 769h6v1h-6z"/>
<rect x="199" y="787" width="3" height="1" fill="#990099"/>
<rect x="207" y="787" width="3" height="1" fill="#990099"/>
<path fill="#990099" d="M200 783h6v1h-6zM200 784h6v1h-6zM200 785h6v1h-6zM200 786h6v1h-6zM200 787h6v1h-6zM200 788h6v1h-6z"/>
<rect x="209" y="803" width="3" height="1" fill="#990099"/>
<rect x="217" y="803" width="3" height="1" fill="#990099"/>
<path fill="#990099" d="M210 799h6v1h-6zM210 800h6v1h-6zM210 801h6v1h-6zM210 802h6v1h-6zM210 803h6v1h-6zM210 804h6v1h-6z"/>
<rect x="219" y="818" width="3" height="1" fill="#990099"/>
<rect x="227" y="818" width="3" height="1" fill="#990099"/>
<path fill="#990099" d="M220 814h6v1h-6zM220 815h6v1h-6zM220 816h6v1h-6zM220 817h6v1h-6zM220 818h6v1h-6zM220 819h6v1h-6z"/>
<rect x="229" y="829" width="3" height="1" fill="#990099"/>
<rect x="237" y="829" width="3" height="1" fill="#990099"/>
<path fill="#990099" d="M230 825h6v1h-6zM230 826h6v1h-6zM230 827h6v1h-6zM230 828h6v1h-6zM230 829h6v1h-6zM230 830h6v1h-6z"/>
<rect x="240" y="839" width="3" height="1" fill="#990099"/>
<rect x="248" y="839" width="3" height="1" fill="#990099"/>
<path fill="#990099" d="M241 835h6v1h-6zM241 836h6v1h-6zM241 837h6v1h-6zM241 838h6v1h-6zM241 839h6v1h-6zM241 840h6v1h-6z"/>
<rect x="250" y="843" width="3" height="1" fill="#990099"/>
<rect x="258" y="843" width="3" height="1" fill="#990099"/>
<path fill="#990099" d="M251 839h6v1h-6zM251 840h6v1h-6zM251 841h6v1h-6zM251 842h6v1h-6zM251 843h6v1h-6zM251 844h6v1h-6z"/>
<rect x="260" y="851" width="3" height="1" fill="#990099"/>
<rect x="268" y="851" width="3" height="1" fill="#990099"/>
<path fill="#990099" d="M261 847h6v1h-6zM261 848h6v1h-6zM261 849h6v1h-6zM261 850h6v1h-6zM261 851h6v1h-6zM261 852h6v1h-6z"/>
<rect x="270" y="857" width="3" height="1" fill="#990099"/>
<rect x="278" y="857" width="3" height="1" fill="#990099"/>
<path fill="#990099" d="M271 853h6v1h-6zM271 854h6v1h-6zM271 855h6v1h-6zM271 856h6v1h-6zM271 857h6v1h-6zM271 858h6v1h-6z"/>
<rect x="280" y="859" width="3" height="1" fill="#990099"/>
<rect x="288" y="859" width="3" height="1" fill="#990099"/>
<path fill="#990099" d="M281 855h6v1h-6zM281 856h6v1h-6zM281 857h6v1h-6zM281 858h6v1h-6zM281 859h6v1h-6zM281 860h6v1h-6z"/>
<rect x="291" y="864" width="3" height="1" fill="#990099"/>
<rect x="299" y="864" width="3" height="1" fill="#990099"/>
<path fill="#990099" d="M292 860h6v1h-6zM292 861h6v1h-6zM292 862h6v1h-6zM292 863h6v1h-6zM292 864h6v1h-6zM292 865h6v1h-6z"/>
<rect x="301" y="866" width="3" height="1" fill="#990099"/>
<rect x="309" y="866" width="3" height="1" fill="#990099"/>
<path fill="#990099" d="M302 862h6v1h-6zM302 863h6v1h-6zM302 864h6v1h-6zM302 865h6v1h-6zM302 866h6v1h-6zM302 867h6v1h-6z"/>
<rect x="311" y="865" width="3" height="1" fill="#990099"/>
<rect x="319" y="865" width="3" height="1" fill="#990099"/>
<path fill="#990099" d="M312 861h6v1h-6zM312 862h6v1h-6zM312 863h6v1h-6zM312 864h6v1h-6zM312 865h6v1h-6zM312 866h6v1h-6z"/>
<rect x="321" y="869" width="3" height="1" fill="#990099"/>
<rect x="329" y="869" width="3" height="1" fill="#990099"/>
<path fill="#990099" d="M322 865h6v1h-6zM322 866h6v1h-6zM322 867h6v1h-6zM322 868h6v1h-6zM322 869h6v1h-6zM322 870h6v1h-6z"/>
<rect x="331" y="870" width="3" height="1" fill="#990099"/>
<rect x="339" y="870" width="3" height="1" fill="#990099"/>
<path fill="#990099" d="M332 866h6v1h-6zM332 867h6v1h-6zM332 868h6v1h-6zM332 869h6v1h-6zM332 870h6v1h-6zM332 871h6v1h-6z"/>
<rect x="342" y="873" width="3" height="1" fill="#990099"/>
<rect x="350" y="873" width="3" height="1" fill="#990099"/>
<path fill="#990099" d="M343 869h6v1h-6zM343 870h6v1h-6zM343 871h6v1h-6zM343 872h6v1h-6zM343 873h6v1h-6zM343 874h6v1h-6z"/>
<rect x="352" y="875" width="3" height="1" fill="#990099"/>
<rect x="360" y="875" width="3" height="1" fill="#990099"/>
<path fill="#990099" d="M353 871h6v1h-6zM353 872h6v1h-6zM353 873h6v1h-6zM353 874h6v1h-6zM353 875h6v1h-6zM353 876h6v1h-6z"/>
<rect x="362" y="876" width="3" height="1" fill="#990099"/>
<rect x="370" y="876" width="3" height="1" fill="#990099"/>
<path fill="#990099" d="M363 872h6v1h-6zM363 873h6v1h-6zM363 874h6v1h-6zM363 875h6v1h-6zM363 876h6v1h-6zM363 877h6v1h-6z"/>
<rect x="372" y="877" width="3" height="1" fill="#990099"/>
<rect x="380" y="877" width="3" height="1" fill="#990099"/>
<path fill="#990099" d="M373 873h6v1h-6zM373 874h6v1h-6zM373 875h6v1h-6zM373 876h6v1h-6zM373 877h6v1h-6zM373 878h6v1h-6z"/>
<rect x="383" y="879" width="3" height="1" fill="#990099"/>
<rect x="391" y="879" width="3" height="1" fill="#990099"/>
<path fill="#990099" d="M384 875h6v1h-6zM384 876h6v1h-6zM384 877h6v1h-6zM384 878h6v1h-6zM384 879h6v1h-6zM384 880h6v1h-6z"/>
<rect x="393" y="880" width="3" height="1" fill="#990099"/>
<rect x="401" y="880" width="3" height="1" fill="#990099"/>
<path fill="#990099" d="M394 876h6v1h-6zM394 877h6v1h-6zM394 878h6v1h-6zM394 879h6v1h-6zM394 880h6v1h-6zM394 881h6v1h-6z"/>
<rect x="403" y="880" width="3" height="1" fill="#990099"/>
<rect x="411" y="880" width="3" height="1" fill="#990099"/>
<path fill="#990099" d="M404 876h6v1h-6zM404 877h6v1h-6zM404 878h6v1h-6zM404 879h6v1h-6zM404 880h6v1h-6zM404 881h6v1h-6z"/>
<rect x="413" y="880" width="3" height="1" fill="#990099"/>
<rect x="421" y="880" width="3" height="1" fill="#990099"/>
<path fill="#990099" d="M414 876h6v1h-6zM414 877h6v1h-6zM414 878h6v1h-6zM414 879h6v1h-6zM414 880h6v1h-6zM414 881h6v1h-6z"/>
<rect x="423" y="882" width="3" height="1" fill="#990099"/>
<rect x="431" y="882" width="3" height="1" fill="#990099"/>
<path fill="#990099" d="M424 878h6v1h-6zM424 879h6v1h-6zM424 880h6v1h-6zM424 881h6v1h-6zM424 882h6v1h-6zM424 883h6v1h-6z"/>
<rect x="434" y="882" width="3" height="1" fill="#990099"/>
<rect x="442" y="882" width="3" height="1" fill="#990099"/>
<path fill="#990099" d="M435 878h6v1h-6zM435 879h6v1h-6zM435 880h6v1h-6zM435 881h6v1h-6zM435 882h6v1h-6zM435 883h6v1h-6z"/>
<rect x="444" y="882" width="3" height="1" fill="#990099"/>
<rect x="452" y="882" width="3" height="1" fill="#990099"/>
<path fill="#990099" d="M445 878h6v1h-6zM445 879h6v1h-6zM445 880h6v1h-6zM445 881h6v1h-6zM445 882h6v1h-6zM445 883h6v1h-6z"/>
<rect x="454" y="884" width="3" height="1" fill="#990099"/>
<rect x="462" y="884" width="3" height="1" fill="#990099"/>
<path fill="#990099" d="M455 880h6v1h-6zM455 881h6v1h-6zM455 882h6v1h-6zM455 883h6v1h-6zM455 884h6v1h-6zM455 885h6v1h-6z"/>
<rect x="464" y="884" width="3" height="1" fill="#990099"/>
<rect x="472" y="884" width="3" height="1" fill="#990099"/>
<path fill="#990099" d="M465 880h6v1h-6zM465 881h6v1h-6zM465 882h6v1h-6zM465 883h6v1h-6zM465 884h6v1h-6zM465 885h6v1h-6z"/>
<rect x="474" y="885" width="3" height="1" fill="#990099"/>
<rect x="482" y="885" width="3" height="1" fill="#990099"/>
<path fill="#990099" d="M475 881h6v1h-6zM475 882h6v1h-6zM475 883h6v1h-6zM475 884h6v1h-6zM475 885h6v1h-6zM475 886h6v1h-6z"/>
<rect x="485" y="885" width="3" height="1" fill="#990099"/>
<rect x="493" y="885" width="3" height="1" fill="#990099"/>
<path fill="#990099" d="M486 881h6v1h-6zM486 882h6v1h-6zM486 883h6v1h-6zM486 884h6v1h-6zM486 885h6v1h-6zM486 886h6v1h-6z"/>
<rect x="495" y="886" width="3" height="1" fill="#990099"/>
<rect x="503" y="886" width="3" height="1" fill="#990099"/>
<path fill="#990099" d="M496 882h6v1h-6zM496 883h6v1h-6zM496 884h6v1h-6zM496 885h6v1h-6zM496 886h6v1h-6zM496 887h6v1h-6z"/>
<rect x="505" y="887" width="3" height="1" fill="#990099"/>
<rect x="513" y="887" width="3" height="1" fill="#990099"/>
<path fill="#990099" d="M506 883h6v1h-6zM506 884h6v1h-6zM506 885h6v1h-6zM506 886h6v1h-6zM506 887h6v1h-6zM506 888h6v1h-6z"/>
<rect x="515" y="887" width="3" height="1" fill="#990099"/>
<rect x="523" y="887" width="3" height="1" fill="#990099"/>
<path fill="#990099" d="M516 883h6v1h-6zM516 884h6v1h-6zM516 885h6v1h-6zM516 886h6v1h-6zM516 887h6v1h-6zM516 888h6v1h-6z"/>
<rect x="525" y="888" width="3" height="1" fill="#990099"/>
<rect x="533" y="888" width="3" height="1" fill="#990099"/>
<path fill="#990099" d="M526 884h6v1h-6zM526 885h6v1h-6zM526 886h6v1h-6zM526 887h6v1h-6zM526 888h6v1h-6zM526 889h6v1h-6z"/>
<rect x="536" y="889" width="3" height="1" fill="#990099"/>
<rect x="544" y="889" width="3" height="1" fill="#990099"/>
<path fill="#990099" d="M537 885h6v1h-6zM537 886h6v1h-6zM537 887h6v1h-6zM537 888h6v1h-6zM537 889h6v1h-6zM537 890h6v1h-6z"/>
<rect x="546" y="888" width="3" height="1" fill="#990099"/>
<rect x="554" y="888" width="3" height="1" fill="#990099"/>
<path fill="#990099" d="M547 884h6v1h-6zM547 885h6v1h-6zM547 886h6v1h-6zM547 887h6v1h-6zM547 888h6v1h-6zM547 889h6v1h-6z"/>
<rect x="556" y="889" width="3" height="1" fill="#990099"/>
<rect x="564" y="889" width="3" height="1" fill="#990099"/>
<path fill="#990099" d="M557 885h6v1h-6zM557 886h6v1h-6zM557 887h6v1h-6zM557 888h6v1h-6zM557 889h6v1h-6zM557 890h6v1h-6z"/>
<rect x="566" y="889" width="3" height="1" fill="#990099"/>
<rect x="574" y="889" width="3" height="1" fill="#990099"/>
<path fill="#990099" d="M567 885h6v1h-6zM567 886h6v1h-6zM567 887h6v1h-6zM567 888h6v1h-6zM567 889h6v1h-6zM567 890h6v1h-6z"/>
<rect x="577" y="890" width="3" height="1" fill="#990099"/>
<rect x="585" y="890" width="3" height="1" fill="#990099"/>
<path fill="#990099" d="M578 886h6v1h-6zM578 887h6v1h-6zM578 888h6v1h-6zM578 889h6v1h-6zM578 890h6v1h-6zM578 891h6v1h-6z"/>
<rect x="587" y="890" width="3" height="1" fill="#990099"/>
<rect x="595" y="890" width="3" height="1" fill="#990099"/>
<path fill="#990099" d="M588 886h6v1h-6zM588 887h6v1h-6zM588 888h6v1h-6zM588 889h6v1h-6zM588 890h6v1h-6zM588 891h6v1h-6z"/>
<rect x="597" y="889" width="3" height="1" fill="#990099"/>
<rect x="605" y="889" width="3" height="1" fill="#990099"/>
<path fill="#990099" d="M598 885h6v1h-6zM598 886h6v1h-6zM598 887h6v1h-6zM598 888h6v1h-6zM598 889h6v1h-6zM598 890h6v1h-6z"/>
<rect x="607" y="891" width="3" height="1" fill="#990099"/>
<rect x="615" y="891" width="3" height="1" fill="#990099"/>
<path fill="#990099" d="M608 887h6v1h-6zM608 888h6v1h-6zM608 889h6v1h-6zM608 890h6v1h-6zM608 891h6v1h-6zM608 892h6v1h-6z"/>
<rect x="617" y="890" width="3" height="1" fill="#990099"/>
<rect x="625" y="890" width="3" height="1" fill="#990099"/>
<path fill="#990099" d="M618 886h6v1h-6zM618 887h6v1h-6zM618 888h6v1h-6zM618 889h6v1h-6zM618 890h6v1h-6zM618 891h6v1h-6z"/>
<rect x="628" y="890" width="3" height="1" fill="#990099"/>
<rect x="636" y="890" width="3" height="1" fill="#990099"/>
<path fill="#990099" d="M629 886h6v1h-6zM629 887h6v1h-6zM629 888h6v1h-6zM629 889h6v1h-6zM629 890h6v1h-6zM629 891h6v1h-6z"/>
<rect x="638" y="891" width="3" height="1" fill="#990099"/>
<rect x="646" y="891" width="3" height="1" fill="#990099"/>
<path fill="#990099" d="M639 887h6v1h-6zM639 888h6v1h-6zM639 889h6v1h-6zM639 890h6v1h-6zM639 891h6v1h-6zM639 892h6v1h-6z"/>
<rect x="648" y="891" width="3" height="1" fill="#990099"/>
<rect x="656" y="891" width="3" height="1" fill="#990099"/>
<path fill="#990099" d="M649 887h6v1h-6zM649 888h6v1h-6zM649 889h6v1h-6zM649 890h6v1h-6zM649 891h6v1h-6zM649 892h6v1h-6z"/>
<rect x="658" y="891" width="3" height="1" fill="#990099"/>
<rect x="666" y="891" width="3" height="1" fill="#990099"/>
<path fill="#990099" d="M659 887h6v1h-6zM659 888h6v1h-6zM659 889h6v1h-6zM659 890h6v1h-6zM659 891h6v1h-6zM659 892h6v1h-6z"/>
<rect x="668" y="892" width="3" height="1" fill="#990099"/>
<rect x="676" y="892" width="3" height="1" fill="#990099"/>
<path fill="#990099" d="M669 888h6v1h-6zM669 889h6v1h-6zM669 890h6v1h-6zM669 891h6v1h-6zM669 892h6v1h-6zM669 893h6v1h-6z"/>
<rect x="679" y="893" width="3" height="1" fill="#990099"/>
<rect x="687" y="893" width="3" height="1" fill="#990099"/>
<path fill="#990099" d="M680 889h6v1h-6zM680 890h6v1h-6zM680 891h6v1h-6zM680 892h6v1h-6zM680 893h6v1h-6zM680 894h6v1h-6z"/>
<rect x="689" y="892" width="3" height="1" fill="#990099"/>
<rect x="697" y="892" width="3" height="1" fill="#990099"/>
<path fill="#990099" d="M690 888h6v1h-6zM690 889h6v1h-6zM690 890h6v1h-6zM690 891h6v1h-6zM690 892h6v1h-6zM690 893h6v1h-6z"/>
<rect x="699" y="893" width="3" height="1" fill="#990099"/>
<rect x="707" y="893" width="3" height="1" fill="#990099"/>
<path fill="#990099" d="M700 889h6v1h-6zM700 890h6v1h-6zM700 891h6v1h-6zM700 892h6v1h-6zM700 893h6v1h-6zM700 894h6v1h-6z"/>
<rect x="709" y="892" width="3" height="1" fill="#990099"/>
<rect x="717" y="892" width="3" height="1" fill="#990099"/>
<path fill="#990099" d="M710 888h6v1h-6zM710 889h6v1h-6zM710 890h6v1h-6zM710 891h6v1h-6zM710 892h6v1h-6zM710 893h6v1h-6z"/>
<rect x="720" y="892" width="3" height="1" fill="#990099"/>
<rect x="728" y="892" width="3" height="1" fill="#990099"/>
<path fill="#990099" d="M721 888h6v1h-6zM721 889h6v1h-6zM721 890h6v1h-6zM721 891h6v1h-6zM721 892h6v1h-6zM721 893h6v1h-6z"/>
<rect x="730" y="893" width="3" height="1" fill="#990099"/>
<rect x="738" y="893" width="3" height="1" fill="#990099"/>
<path fill="#990099" d="M731 889h6v1h-6zM731 890h6v1h-6zM731 891h6v1h-6zM731 892h6v1h-6zM731 893h6v1h-6zM731 894h6v1h-6z"/>
<rect x="740" y="892" width="3" height="1" fill="#990099"/>
<rect x="748" y="892" width="3" height="1" fill="#990099"/>
<path fill="#990099" d="M741 888h6v1h-6zM741 889h6v1h-6zM741 890h6v1h-6zM741 891h6v1h-6zM741 892h6v1h-6zM741 893h6v1h-6z"/>
<rect x="750" y="892" width="3" height="1" fill="#990099"/>
<rect x="758" y="892" width="3" height="1" fill="#990099"/>
<path fill="#990099" d="M751 888h6v1h-6zM751 889h6v1h-6zM751 890h6v1h-6zM751 891h6v1h-6zM751 892h6v1h-6zM751 893h6v1h-6z"/>
<rect x="760" y="893" width="3" height="1" fill="#990099"/>
<rect x="768" y="893" width="3" height="1" fill="#990099"/>
<path fill="#990099" d="M761 889h6v1h-6zM761 890h6v1h-6zM761 891h6v1h-6zM761 892h6v1h-6zM761 893h6v1h-6zM761 894h6v1h-6z"/>
<rect x="771" y="893" width="3" height="1" fill="#990099"/>
<rect x="779" y="893" width="3" height="1" fill="#990099"/>
<path fill="#990099" d="M772 889h6v1h-6zM772 890h6v1h-6zM772 891h6v1h-6zM772 892h6v1h-6zM772 893h6v1h-6zM772 894h6v1h-6z"/>
<rect x="781" y="893" width="3" height="1" fill="#990099"/>
<rect x="789" y="893" width="3" height="1" fill="#990099"/>
<path fill="#990099" d="M782 889h6v1h-6zM782 890h6v1h-6zM782 891h6v1h-6zM782 892h6v1h-6zM782 893h6v1h-6zM782 894h6v1h-6z"/>
<rect x="791" y="893" width="3" height="1" fill="#990099"/>
<rect x="799" y="893" width="3" height="1" fill="#990099"/>
<path fill="#990099" d="M792 889h6v1h-6zM792 890h6v1h-6zM792 891h6v1h-6zM792 892h6v1h-6zM792 893h6v1h-6zM792 894h6v1h-6z"/>
<rect x="801" y="894" width="3" height="1" fill="#990099"/>
<rect x="809" y="894" width="3" height="1" fill="#990099"/>
<path fill="#990099" d="M802 890h6v1h-6zM802 891h6v1h-6zM802 892h6v1h-6zM802 893h6v1h-6zM802 894h6v1h-6zM802 895h6v1h-6z"/>
<rect x="811" y="893" width="3" height="1" fill="#990099"/>
<rect x="819" y="893" width="3" height="1" fill="#990099"/>
<path fill="#990099" d="M812 889h6v1h-6zM812 890h6v1h-6zM812 891h6v1h-6zM812 892h6v1h-6zM812 893h6v1h-6zM812 894h6v1h-6z"/>
<rect x="822" y="894" width="3" height="1" fill="#990099"/>
<rect x="830" y="894" width="3" height="1" fill="#990099"/>
<path fill="#990099" d="M823 890h6v1h-6zM823 891h6v1h-6zM823 892h6v1h-6zM823 893h6v1h-6zM823 894h6v1h-6zM823 895h6v1h-6z"/>
<rect x="832" y="894" width="3" height="1" fill="#990099"/>
<rect x="840" y="894" width="3" height="1" fill="#990099"/>
<path fill="#990099" d="M833 890h6v1h-6zM833 891h6v1h-6zM833 892h6v1h-6zM833 893h6v1h-6zM833 894h6v1h-6zM833 895h6v1h-6z"/>
<rect x="842" y="894" width="3" height="1" fill="#990099"/>
<rect x="850" y="894" width="3" height="1" fill="#990099"/>
<path fill="#990099" d="M843 890h6v1h-6zM843 891h6v1h-6zM843 892h6v1h-6zM843 893h6v1h-6zM843 894h6v1h-6zM843 895h6v1h-6z"/>
<rect x="852" y="894" width="3" height="1" fill="#990099"/>
<rect x="860" y="894" width="3" height="1" fill="#990099"/>
<path fill="#990099" d="M853 890h6v1h-6zM853 891h6v1h-6zM853 892h6v1h-6zM853 893h6v1h-6zM853 894h6v1h-6zM853 895h6v1h-6z"/>
<rect x="863" y="894" width="3" height="1" fill="#990099"/>
<rect x="871" y="894" width="3" height="1" fill="#990099"/>
<path fill="#990099" d="M864 890h6v1h-6zM864 891h6v1h-6zM864 892h6v1h-6zM864 893h6v1h-6zM864 894h6v1h-6zM864 895h6v1h-6z"/>
<rect x="873" y="894" width="3" height="1" fill="#990099"/>
<rect x="881" y="894" width="3" height="1" fill="#990099"/>
<path fill="#990099" d="M874 890h6v1h-6zM874 891h6v1h-6zM874 892h6v1h-6zM874 893h6v1h-6zM874 894h6v1h-6zM874 895h6v1h-6z"/>
<rect x="883" y="894" width="3" height="1" fill="#990099"/>
<rect x="891" y="894" width="3" height="1" fill="#990099"/>
<path fill="#990099" d="M884 890h6v1h-6zM884 891h6v1h-6zM884 892h6v1h-6zM884 893h6v1h-6zM884 894h6v1h-6zM884 895h6v1h-6z"/>
<rect x="893" y="894" width="3" height="1" fill="#990099"/>
<rect x="901" y="894" width="3" height="1" fill="#990099"/>
<path fill="#990099" d="M894 890h6v1h-6zM894 891h6v1h-6zM894 892h6v1h-6zM894 893h6v1h-6zM894 894h6v1h-6zM894 895h6v1h-6z"/>
<rect x="903" y="895" width="3" height="1" fill="#990099"/>
<rect x="911" y="895" width="3" height="1" fill="#990099"/>
<path fill="#990099" d="M904 891h6v1h-6zM904 892h6v1h-6zM904 893h6v1h-6zM904 894h6v1h-6zM904 895h6v1h-6zM904 896h6v1h-6z"/>
<rect x="914" y="895" width="3" height="1" fill="#990099"/>
<rect x="922" y="895" width="3" height="1" fill="#990099"/>
<path fill="#990099" d="M915 891h6v1h-6zM915 892h6v1h-6zM915 893h6v1h-6zM915 894h6v1h-6zM915 895h6v1h-6zM915 896h6v1h-6z"/>
<rect x="924" y="895" width="3" height="1" fill="#990099"/>
<rect x="932" y="895" width="3" height="1" fill="#990099"/>
<path fill="#990099" d="M925 891h6v1h-6zM925 892h6v1h-6zM925 893h6v1h-6zM925 894h6v1h-6zM925 895h6v1h-6zM925 896h6v1h-6z"/>
<rect x="934" y="895" width="3" height="1" fill="#990099"/>
<rect x="942" y="895" width="3" height="1" fill="#990099"/>
<path fill="#990099" d="M935 891h6v1h-6zM935 892h6v1h-6zM935 893h6v1h-6zM935 894h6v1h-6zM935 895h6v1h-6zM935 896h6v1h-6z"/>
<rect x="944" y="895" width="3" height="1" fill="#990099"/>
<rect x="952" y="895" width="3" height="1" fill="#990099"/>
<path fill="#990099" d="M945 891h6v1h-6zM945 892h6v1h-6zM945 893h6v1h-6zM945 894h6v1h-6zM945 895h6v1h-6zM945 896h6v1h-6z"/>
<rect x="954" y="895" width="3" height="1" fill="#990099"/>
<rect x="962" y="895" width="3" height="1" fill="#990099"/>
<path fill="#990099" d="M955 891h6v1h-6zM955 892h6v1h-6zM955 893h6v1h-6zM955 894h6v1h-6zM955 895h6v1h-6zM955 896h6v1h-6z"/>
<rect x="965" y="895" width="3" height="1" fill="#990099"/>
<rect x="973" y="895" width="3" height="1" fill="#990099"/>
<path fill="#990099" d="M966 891h6v1h-6zM966 892h6v1h-6zM966 893h6v1h-6zM966 894h6v1h-6zM966 895h6v1h-6zM966 896h6v1h-6z"/>
<rect x="975" y="895" width="3" height="1" fill="#990099"/>
<rect x="983" y="895" width="3" height="1" fill="#990099"/>
<path fill="#990099" d="M976 891h6v1h-6zM976 892h6v1h-6zM976 893h6v1h-6zM976 894h6v1h-6zM976 895h6v1h-6zM976 896h6v1h-6z"/>
<rect x="985" y="895" width="3" height="1" fill="#990099"/>
<rect x="993" y="895" width="3" height="1" fill="#990099"/>
<path fill="#990099" d="M986 891h6v1h-6zM986 892h6v1h-6zM986 893h6v1h-6zM986 894h6v1h-6zM986 895h6v1h-6zM986 896h6v1h-6z"/>
<rect x="995" y="895" width="3" height="1" fill="#990099"/>
<rect x="1003" y="895" width="3" height="1" fill="#990099"/>
<path fill="#990099" d="M996 891h6v1h-6zM996 892h6v1h-6zM996 893h6v1h-6zM996 894h6v1h-6zM996 895h6v1h-6zM996 896h6v1h-6z"/>
<rect x="1005" y="895" width="3" height="1" fill="#990099"/>
<rect x="1013" y="895" width="3" height="1" fill="#990099"/>
<path fill="#990099" d="M1006 891h6v1h-6zM1006 892h6v1h-6zM1006 893h6v1h-6zM1006 894h6v1h-6zM1006 895h6v1h-6zM1006 896h6v1h-6z"/>
<rect x="1016" y="895" width="3" height="1" fill="#990099"/>
<rect x="1024" y="895" width="3" height="1" fill="#990099"/>
<path fill="#990099" d="M1017 891h6v1h-6zM1017 892h6v1h-6zM1017 893h6v1h-6zM1017 894h6v1h-6zM1017 895h6v1h-6zM1017 896h6v1h-6z"/>
<rect x="1026" y="895" width="3" height="1" fill="#990099"/>
<rect x="1034" y="895" width="3" height="1" fill="#990099"/>
<path fill="#990099" d="M1027 891h6v1h-6zM1027 892h6v1h-6zM1027 893h6v1h-6zM1027 894h6v1h-6zM1027 895h6v1h-6zM1027 896h6v1h-6z"/>
<rect x="1036" y="895" width="3" height="1" fill="#990099"/>
<rect x="1044" y="895" width="3" height="1" fill="#990099"/>
<path fill="#990099" d="M1037 891h6v1h-6zM1037 892h6v1h-6zM1037 893h6v1h-6zM1037 894h6v1h-6zM1037 895h6v1h-6zM1037 896h6v1h-6z"/>
<rect x="1046" y="895" width="3" height="1" fill="#990099"/>
<rect x="1054" y="895" width="3" height="1" fill="#990099"/>
<path fill="#990099" d="M1047 891h6v1h-6zM1047 892h6v1h-6zM1047 893h6v1h-6zM1047 894h6v1h-6zM1047 895h6v1h-6zM1047 896h6v1h-6z"/>
<rect x="1057" y="894" width="3" height="1" fill="#990099"/>
<rect x="1065" y="894" width="3" height="1" fill="#990099"/>
<path fill="#990099" d="M1058 890h6v1h-6zM1058 891h6v1h-6zM1058 892h6v1h-6zM1058 893h6v1h-6zM1058 894h6v1h-6zM1058 895h6v1h-6z"/>
<rect x="1067" y="895" width="3" height="1" fill="#990099"/>
<rect x="1075" y="895" width="3" height="1" fill="#990099"/>
<path fill="#990099" d="M1068 891h6v1h-6zM1068 892h6v1h-6zM1068 893h6v1h-6zM1068 894h6v1h-6zM1068 895h6v1h-6zM1068 896h6v1h-6z"/>
<rect x="1077" y="895" width="3" height="1" fill="#990099"/>
<rect x="1085" y="895" width="3" height="1" fill="#990099"/>
<path fill="#990099" d="M1078 891h6v1h-6zM1078 892h6v1h-6zM1078 893h6v1h-6zM1078 894h6v1h-6zM1078 895h6v1h-6zM1078 896h6v1h-6z"/>
<rect x="1087" y="894" width="3" height="1" fill="#990099"/>
<rect x="1095" y="894" width="3" height="1" fill="#990099"/>
<path fill="#990099" d="M1088 890h6v1h-6zM1088 891h6v1h-6zM1088 892h6v1h-6zM1088 893h6v1h-6zM1088 894h6v1h-6zM1088 895h6v1h-6z"/>
<rect x="1097" y="894" width="3" height="1" fill="#990099"/>
<rect x="1105" y="894" width="3" height="1" fill="#990099"/>
<path fill="#990099" d="M1098 890h6v1h-6zM1098 891h6v1h-6zM1098 892h6v1h-6zM1098 893h6v1h-6zM1098 894h6v1h-6zM1098 895h6v1h-6z"/>
<rect x="1108" y="894" width="3" height="1" fill="#990099"/>
<rect x="1116" y="894" width="3" height="1" fill="#990099"/>
<path fill="#990099" d="M1109 890h6v1h-6zM1109 891h6v1h-6zM1109 892h6v1h-6zM1109 893h6v1h-6zM1109 894h6v1h-6zM1109 895h6v1h-6z"/>
<rect x="1118" y="895" width="3" height="1" fill="#990099"/>
<rect x="1126" y="895" width="3" height="1" fill="#990099"/>
<path fill="#990099" d="M1119 891h6v1h-6zM1119 892h6v1h-6zM1119 893h6v1h-6zM1119 894h6v1h-6zM1119 895h6v1h-6zM1119 896h6v1h-6z"/>
<rect x="1128" y="894" width="3" height="1" fill="#990099"/>
<rect x="1136" y="894" width="3" height="1" fill="#990099"/>
<path fill="#990099" d="M1129 890h6v1h-6zM1129 891h6v1h-6zM1129 892h6v1h-6zM1129 893h6v1h-6zM1129 894h6v1h-6zM1129 895h6v1h-6z"/>
<rect x="1138" y="894" width="3" height="1" fill="#990099"/>
<rect x="1146" y="894" width="3" height="1" fill="#990099"/>
<path fill="#990099" d="M1139 890h6v1h-6zM1139 891h6v1h-6zM1139 892h6v1h-6zM1139 893h6v1h-6zM1139 894h6v1h-6zM1139 895h6v1h-6z"/>
<rect x="128" y="846" width="2" height="1" fill="#66cccc"/>
<rect x="135" y="846" width="3" height="1" fill="#66cccc"/>
<path fill="#66cccc" d="M130 842h3v1h-3zM130 843h3v1h-3zM128 844h7v1h-7zM128 845h7v1h-7zM128 846h7v1h-7zM130 847h3v1h-3zM130 848h3v1h-3z"/>
<rect x="137" y="665" width="3" height="1" fill="#66cccc"/>
<rect x="145" y="665" width="3" height="1" fill="#66cccc"/>
<path fill="#66cccc" d="M140 661h3v1h-3zM140 662h3v1h-3zM138 663h7v1h-7zM138 664h7v1h-7zM138 665h7v1h-7zM140 666h3v1h-3zM140 667h3v1h-3z"/>
<rect x="148" y="622" width="3" height="1" fill="#66cccc"/>
<rect x="156" y="622" width="3" height="1" fill="#66cccc"/>
<path fill="#66cccc" d="M151 618h3v1h-3zM151 619h3v1h-3zM149 620h7v1h-7zM149 621h7v1h-7zM149 622h7v1h-7zM151 623h3v1h-3zM151 624h3v1h-3z"/>
<rect x="158" y="639" width="3" height="1" fill="#66cccc"/>
<rect x="166" y="639" width="3" height="1" fill="#66cccc"/>
<path fill="#66cccc" d="M161 635h3v1h-3zM161 636h3v1h-3zM159 637h7v1h-7zM159 638h7v1h-7zM159 639h7v1h-7zM161 640h3v1h-3zM161 641h3v1h-3z"/>
<rect x="168" y="674" width="3" height="1" fill="#66cccc"/>
<rect x="176" y="674" width="3" height="1" fill="#66cccc"/>
<path fill="#66cccc" d="M171 670h3v1h-3zM171 671h3v1h-3zM169 672h7v1h-7zM169 673h7v1h-7zM169 674h7v1h-7zM171 675h3v1h-3zM171 676h3v1h-3z"/>
<rect x="178" y="708" width="3" height="1" fill="#66cccc"/>
<rect x="186" y="708" width="3" height="1" fill="#66cccc"/>
<path fill="#66cccc" d="M181 704h3v1h-3zM181 705h3v1h-3zM179 706h7v1h-7zM179 707h7v1h-7zM179 708h7v1h-7zM181 709h3v1h-3zM181 710h3v1h-3z"/>
<rect x="188" y="742" width="3" height="1" fill="#66cccc"/>
<rect x="196" y="742" width="3" height="1" fill="#66cccc"/>
<path fill="#66cccc" d="M191 738h3v1h-3zM191 739h3v1h-3zM189 740h7v1h-7zM189 741h7v1h-7zM189 742h7v1h-7zM191 743h3v1h-3zM191 744h3v1h-3z"/>
<rect x="199" y="766" width="3" height="1" fill="#66cccc"/>
<rect x="207" y="766" width="3" height="1" fill="#66cccc"/>
<path fill="#66cccc" d="M202 762h3v1h-3zM202 763h3v1h-3zM200 764h7v1h-7zM200 765h7v1h-7zM200 766h7v1h-7zM202 767h3v1h-3zM202 768h3v1h-3z"/>
<rect x="209" y="783" width="3" height="1" fill="#66cccc"/>
<rect x="217" y="783" width="3" height="1" fill="#66cccc"/>
<path fill="#66cccc" d="M212 779h3v1h-3zM212 780h3v1h-3zM210 781h7v1h-7zM210 782h7v1h-7zM210 783h7v1h-7zM212 784h3v1h-3zM212 785h3v1h-3z"/>
<rect x="219" y="804" width="3" height="1" fill="#66cccc"/>
<rect x="227" y="804" width="3" height="1" fill="#66cccc"/>
<path fill="#66cccc" d="M222 800h3v1h-3zM222 801h3v1h-3zM220 802h7v1h-7zM220 803h7v1h-7zM220 804h7v1h-7zM222 805h3v1h-3zM222 806h3v1h-3z"/>
<rect x="229" y="816" width="3" height="1" fill="#66cccc"/>
<rect x="237" y="816" width="3" height="1" fill="#66cccc"/>
<path fill="#66cccc" d="M232 812h3v1h-3zM232 813h3v1h-3zM230 814h7v1h-7zM230 815h7v1h-7zM230 816h7v1h-7zM232 817h3v1h-3zM232 818h3v1h-3z"/>
<rect x="240" y="828" width="3" height="1" fill="#66cccc"/>
<rect x="248" y="828" width="3" height="1" fill="#66cccc"/>
<path fill="#66cccc" d="M243 824h3v1h-3zM243 825h3v1h-3zM241 826h7v1h-7zM241 827h7v1h-7zM241 828h7v1h-7zM243 829h3v1h-3zM243 830h3v1h-3z"/>
<rect x="250" y="838" width="3" height="1" fill="#66cccc"/>
<rect x="258" y="838" width="3" height="1" fill="#66cccc"/>
<path fill="#66cccc" d="M253 834h3v1h-3zM253 835h3v1h-3zM251 836h7v1h-7zM251 837h7v1h-7zM251 838h7v1h-7zM253 839h3v1h-3zM253 840h3v1h-3z"/>
<rect x="260" y="846" width="3" height="1" fill="#66cccc"/>
<rect x="268" y="846" width="3" height="1" fill="#66cccc"/>
<path fill="#66cccc" d="M263 842h3v1h-3zM263 843h3v1h-3zM261 844h7v1h-7zM261 845h7v1h-7zM261 846h7v1h-7zM263 847h3v1h-3zM263 848h3v1h-3z"/>
<rect x="270" y="851" width="3" height="1" fill="#66cccc"/>
<rect x="278" y="851" width="3" height="1" fill="#66cccc"/>
<path fill="#66cccc" d="M273 847h3v1h-3zM273 848h3v1h-3zM271 849h7v1h-7zM271 850h7v1h-7zM271 851h7v1h-7zM273 852h3v1h-3zM273 853h3v1h-3z"/>
<rect x="280" y="857" width="3" height="1" fill="#66cccc"/>
<rect x="288" y="857" width="3" height="1" fill="#66cccc"/>
<path fill="#66cccc" d="M283 853h3v1h-3zM283 854h3v1h-3zM281 855h7v1h-7zM281 856h7v1h-7zM281 857h7v1h-7zM283 858h3v1h-3zM283 859h3v1h-3z"/>
<rect x="291" y="860" width="3" height="1" fill="#66cccc"/>
<rect x="299" y="860" width="3" height="1" fill="#66cccc"/>
<path fill="#66cccc" d="M294 856h3v1h-3zM294 857h3v1h-3zM292 858h7v1h-7zM292 859h7v1h-7zM292 860h7v1h-7zM294 861h3v1h-3zM294 862h3v1h-3z"/>
<rect x="301" y="865" width="3" height="1" fill="#66cccc"/>
<rect x="309" y="865" width="3" height="1" fill="#66cccc"/>
<path fill="#66cccc" d="M304 861h3v1h-3zM304 862h3v1h-3zM302 863h7v1h-7zM302 864h7v1h-7zM302 865h7v1h-7zM304 866h3v1h-3zM304 867h3v1h-3z"/>
<rect x="311" y="867" width="3" height="1" fill="#66cccc"/>
<rect x="319" y="867" width="3" height="1" fill="#66cccc"/>
<path fill="#66cccc" d="M314 863h3v1h-3zM314 864h3v1h-3zM312 865h7v1h-7zM312 866h7v1h-7zM312 867h7v1h-7zM314 868h3v1h-3zM314 869h3v1h-3z"/>
<rect x="321" y="870" width="3" height="1" fill="#66cccc"/>
<rect x="329" y="870" width="3" height="1" fill="#66cccc"/>
<path fill="#66cccc" d="M324 866h3v1h-3zM324 867h3v1h-3zM322 868h7v1h-7zM322 869h7v1h-7zM322 870h7v1h-7zM324 871h3v1h-3zM324 872h3v1h-3z"/>
<rect x="331" y="872" width="3" height="1" fill="#66cccc"/>
<rect x="339" y="872" width="3" height="1" fill="#66cccc"/>
<path fill="#66cccc" d="M334 868h3v1h-3zM334 869h3v1h-3zM332 870h7v1h-7zM332 871h7v1h-7zM332 872h7v1h-7zM334 873h3v1h-3zM334 874h3v1h-3z"/>
<rect x="342" y="874" width="3" height="1" fill="#66cccc"/>
<rect x="350" y="874" width="3" height="1" fill="#66cccc"/>
<path fill="#66cccc" d="M345 870h3v1h-3zM345 871h3v1h-3zM343 872h7v1h-7zM343 873h7v1h-7zM343 874h7v1h-7zM345 875h3v1h-3zM345 876h3v1h-3z"/>
<rect x="352" y="876" width="3" height="1" fill="#66cccc"/>
<rect x="360" y="876" width="3" height="1" fill="#66cccc"/>
<path fill="#66cccc" d="M355 872h3v1h-3zM355 873h3v1h-3zM353 874h7v1h-7zM353 875h7v1h-7zM353 876h7v1h-7zM355 877h3v1h-3zM355 878h3v1h-3z"/>
<rect x="362" y="878" width="3" height="1" fill="#66cccc"/>
<rect x="370" y="878" width="3" height="1" fill="#66cccc"/>
<path fill="#66cccc" d="M365 874h3v1h-3zM365 875h3v1h-3zM363 876h7v1h-7zM363 877h7v1h-7zM363 878h7v1h-7zM365 879h3v1h-3zM365 880h3v1h-3z"/>
<rect x="372" y="881" width="3" height="1" fill="#66cccc"/>
<rect x="380" y="881" width="3" height="1" fill="#66cccc"/>
<path fill="#66cccc" d="M375 877h3v1h-3zM375 878h3v1h-3zM373 879h7v1h-7zM373 880h7v1h-7zM373 881h7v1h-7zM375 882h3v1h-3zM375 883h3v1h-3z"/>
<rect x="383" y="881" width="3" height="1" fill="#66cccc"/>
<rect x="391" y="881" width="3" height="1" fill="#66cccc"/>
<path fill="#66cccc" d="M386 877h3v1h-3zM386 878h3v1h-3zM384 879h7v1h-7zM384 880h7v1h-7zM384 881h7v1h-7zM386 882h3v1h-3zM386 883h3v1h-3z"/>
<rect x="393" y="884" width="3" height="1" fill="#66cccc"/>
<rect x="401" y="884" width="3" height="1" fill="#66cccc"/>
<path fill="#66cccc" d="M396 880h3v1h-3zM396 881h3v1h-3zM394 882h7v1h-7zM394 883h7v1h-7zM394 884h7v1h-7zM396 885h3v1h-3zM396 886h3v1h-3z"/>
<rect x="403" y="884" width="3" height="1" fill="#66cccc"/>
<rect x="411" y="884" width="3" height="1" fill="#66cccc"/>
<path fill="#66cccc" d="M406 880h3v1h-3zM406 881h3v1h-3zM404 882h7v1h-7zM404 883h7v1h-7zM404 884h7v1h-7zM406 885h3v1h-3zM406 886h3v1h-3z"/>
<rect x="413" y="885" width="3" height="1" fill="#66cccc"/>
<rect x="421" y="885" width="3" height="1" fill="#66cccc"/>
<path fill="#66cccc" d="M416 881h3v1h-3zM416 882h3v1h-3zM414 883h7v1h-7zM414 884h7v1h-7zM414 885h7v1h-7zM416 886h3v1h-3zM416 887h3v1h-3z"/>
<rect x="423" y="886" width="3" height="1" fill="#66cccc"/>
<rect x="431" y="886" width="3" height="1" fill="#66cccc"/>
<path fill="#66cccc" d="M426 882h3v1h-3zM426 883h3v1h-3zM424 884h7v1h-7zM424 885h7v1h-7zM424 886h7v1h-7zM426 887h3v1h-3zM426 888h3v1h-3z"/>
<rect x="434" y="887" width="3" height="1" fill="#66cccc"/>
<rect x="442" y="887" width="3" height="1" fill="#66cccc"/>
<path fill="#66cccc" d="M437 883h3v1h-3zM437 884h3v1h-3zM435 885h7v1h-7zM435 886h7v1h-7zM435 887h7v1h-7zM437 888h3v1h-3zM437 889h3v1h-3z"/>
<rect x="444" y="887" width="3" height="1" fill="#66cccc"/>
<rect x="452" y="887" width="3" height="1" fill="#66cccc"/>
<path fill="#66cccc" d="M447 883h3v1h-3zM447 884h3v1h-3zM445 885h7v1h-7zM445 886h7v1h-7zM445 887h7v1h-7zM447 888h3v1h-3zM447 889h3v1h-3z"/>
<rect x="454" y="888" width="3" height="1" fill="#66cccc"/>
<rect x="462" y="888" width="3" height="1" fill="#66cccc"/>
<path fill="#66cccc" d="M457 884h3v1h-3zM457 885h3v1h-3zM455 886h7v1h-7zM455 887h7v1h-7zM455 888h7v1h-7zM457 889h3v1h-3zM457 890h3v1h-3z"/>
<rect x="464" y="888" width="3" height="1" fill="#66cccc"/>
<rect x="472" y="888" width="3" height="1" fill="#66cccc"/>
<path fill="#66cccc" d="M467 884h3v1h-3zM467 885h3v1h-3zM465 886h7v1h-7zM465 887h7v1h-7zM465 888h7v1h-7zM467 889h3v1h-3zM467 890h3v1h-3z"/>
<rect x="474" y="889" width="3" height="1" fill="#66cccc"/>
<rect x="482" y="889" width="3" height="1" fill="#66cccc"/>
<path fill="#66cccc" d="M477 885h3v1h-3zM477 886h3v1h-3zM475 887h7v1h-7zM475 888h7v1h-7zM475 889h7v1h-7zM477 890h3v1h-3zM477 891h3v1h-3z"/>
<rect x="485" y="890" width="3" height="1" fill="#66cccc"/>
<rect x="493" y="890" width="3" height="1" fill="#66cccc"/>
<path fill="#66cccc" d="M488 886h3v1h-3zM488 887h3v1h-3zM486 888h7v1h-7zM486 889h7v1h-7zM486 890h7v1h-7zM488 891h3v1h-3zM488 892h3v1h-3z"/>
<rect x="495" y="890" width="3" height="1" fill="#66cccc"/>
<rect x="503" y="890" width="3" height="1" fill="#66cccc"/>
<path fill="#66cccc" d="M498 886h3v1h-3zM498 887h3v1h-3zM496 888h7v1h-7zM496 889h7v1h-7zM496 890h7v1h-7zM498 891h3v1h-3zM498 892h3v1h-3z"/>
<rect x="505" y="890" width="3" height="1" fill="#66cccc"/>
<rect x="513" y="890" width="3" height="1" fill="#66cccc"/>
<path fill="#66cccc" d="M508 886h3v1h-3zM508 887h3v1h-3zM506 888h7v1h-7zM506 889h7v1h-7zM506 890h7v1h-7zM508 891h3v1h-3zM508 892h3v1h-3z"/>
<rect x="515" y="890" width="3" height="1" fill="#66cccc"/>
<rect x="523" y="890" width="3" height="1" fill="#66cccc"/>
<path fill="#66cccc" d="M518 886h3v1h-3zM518 887h3v1h-3zM516 888h7v1h-7zM516 889h7v1h-7zM516 890h7v1h-7zM518 891h3v1h-3zM518 892h3v1h-3z"/>
<rect x="525" y="891" width="3" height="1" fill="#66cccc"/>
<rect x="533" y="891" width="3" height="1" fill="#66cccc"/>
<path fill="#66cccc" d="M528 887h3v1h-3zM528 888h3v1h-3zM526 889h7v1h-7zM526 890h7v1h-7zM526 891h7v1h-7zM528 892h3v1h-3zM528 893h3v1h-3z"/>
<rect x="536" y="891" width="3" height="1" fill="#66cccc"/>
<rect x="544" y="891" width="3" height="1" fill="#66cccc"/>
<path fill="#66cccc" d="M539 887h3v1h-3zM539 888h3v1h-3zM537 889h7v1h-7zM537 890h7v1h-7zM537 891h7v1h-7zM539 892h3v1h-3zM539 893h3v1h-3z"/>
<rect x="546" y="891" width="3" height="1" fill="#66cccc"/>
<rect x="554" y="891" width="3" height="1" fill="#66cccc"/>
<path fill="#66cccc" d="M549 887h3v1h-3zM549 888h3v1h-3zM547 889h7v1h-7zM547 890h7v1h-7zM547 891h7v1h-7zM549 892h3v1h-3zM549 893h3v1h-3z"/>
<rect x="556" y="891" width="3" height="1" fill="#66cccc"/>
<rect x="564" y="891" width="3" height="1" fill="#66cccc"/>
<path fill="#66cccc" d="M559 887h3v1h-3zM559 888h3v1h-3zM557 889h7v1h-7zM557 890h7v1h-7zM557 891h7v1h-7zM559 892h3v1h-3zM559 893h3v1h-3z"/>
<rect x="566" y="891" width="3" height="1" fill="#66cccc"/>
<rect x="574" y="891" width="3" height="1" fill="#66cccc"/>
<path fill="#66cccc" d="M569 887h3v1h-3zM569 888h3v1h-3zM567 889h7v1h-7zM567 890h7v1h-7zM567 891h7v1h-7zM569 892h3v1h-3zM569 893h3v1h-3z"/>
<rect x="577" y="892" width="3" height="1" fill="#66cccc"/>
<rect x="585" y="892" width="3" height="1" fill="#66cccc"/>
<path fill="#66cccc" d="M580 888h3v1h-3zM580 889h3v1h-3zM578 890h7v1h-7zM578 891h7v1h-7zM578 892h7v1h-7zM580 893h3v1h-3zM580 894h3v1h-3z"/>
<rect x="587" y="892" width="3" height="1" fill="#66cccc"/>
<rect x="595" y="892" width="3" height="1" fill="#66cccc"/>
<path fill="#66cccc" d="M590 888h3v1h-3zM590 889h3v1h-3zM588 890h7v1h-7zM588 891h7v1h-7zM588 892h7v1h-7zM590 893h3v1h-3zM590 894h3v1h-3z"/>
<rect x="597" y="892" width="3" height="1" fill="#66cccc"/>
<rect x="605" y="892" width="3" height="1" fill="#66cccc"/>
<path fill="#66cccc" d="M600 888h3v1h-3zM600 889h3v1h-3zM598 890h7v1h-7zM598 891h7v1h-7zM598 892h7v1h-7zM600 893h3v1h-3zM600 894h3v1h-3z"/>
<rect x="607" y="892" width="3" height="1" fill="#66cccc"/>
<rect x="615" y="892" width="3" height="1" fill="#66cccc"/>
<path fill="#66cccc" d="M610 888h3v1h-3zM610 889h3v1h-3zM608 890h7v1h-7zM608 891h7v1h-7zM608 892h7v1h-7zM610 893h3v1h-3zM610 894h3v1h-3z"/>
<rect x="617" y="893" width="3" height="1" fill="#66cccc"/>
<rect x="625" y="893" width="3" height="1" fill="#66cccc"/>
<path fill="#66cccc" d="M620 889h3v1h-3zM620 890h3v1h-3zM618 891h7v1h-7zM618 892h7v1h-7zM618 893h7v1h-7zM620 894h3v1h-3zM620 895h3v1h-3z"/>
<rect x="628" y="893" width="3" height="1" fill="#66cccc"/>
<rect x="636" y="893" width="3" height="1" fill="#66cccc"/>
<path fill="#66cccc" d="M631 889h3v1h-3zM631 890h3v1h-3zM629 891h7v1h-7zM629 892h7v1h-7zM629 893h7v1h-7zM631 894h3v1h-3zM631 895h3v1h-3z"/>
<rect x="638" y="893" width="3" height="1" fill="#66cccc"/>
<rect x="646" y="893" width="3" height="1" fill="#66cccc"/>
<path fill="#66cccc" d="M641 889h3v1h-3zM641 890h3v1h-3zM639 891h7v1h-7zM639 892h7v1h-7zM639 893h7v1h-7zM641 894h3v1h-3zM641 895h3v1h-3z"/>
<rect x="648" y="893" width="3" height="1" fill="#66cccc"/>
<rect x="656" y="893" width="3" height="1" fill="#66cccc"/>
<path fill="#66cccc" d="M651 889h3v1h-3zM651 890h3v1h-3zM649 891h7v1h-7zM649 892h7v1h-7zM649 893h7v1h-7zM651 894h3v1h-3zM651 895h3v1h-3z"/>
<rect x="658" y="894" width="3" height="1" fill="#66cccc"/>
<rect x="666" y="894" width="3" height="1" fill="#66cccc"/>
<path fill="#66cccc" d="M661 890h3v1h-3zM661 891h3v1h-3zM659 892h7v1h-7zM659 893h7v1h-7zM659 894h7v1h-7zM661 895h3v1h-3zM661 896h3v1h-3z"/>
<rect x="668" y="894" width="3" height="1" fill="#66cccc"/>
<rect x="676" y="894" width="3" height="1" fill="#66cccc"/>
<path fill="#66cccc" d="M671 890h3v1h-3zM671 891h3v1h-3zM669 892h7v1h-7zM669 893h7v1h-7zM669 894h7v1h-7zM671 895h3v1h-3zM671 896h3v1h-3z"/>
<rect x="679" y="894" width="3" height="1" fill="#66cccc"/>
<rect x="687" y="894" width="3" height="1" fill="#66cccc"/>
<path fill="#66cccc" d="M682 890h3v1h-3zM682 891h3v1h-3zM680 892h7v1h-7zM680 893h7v1h-7zM680 894h7v1h-7zM682 895h3v1h-3zM682 896h3v1h-3z"/>
<rect x="689" y="894" width="3" height="1" fill="#66cccc"/>
<rect x="697" y="894" width="3" height="1" fill="#66cccc"/>
<path fill="#66cccc" d="M692 890h3v1h-3zM692 891h3v1h-3zM690 892h7v1h-7zM690 893h7v1h-7zM690 894h7v1h-7zM692 895h3v1h-3zM692 896h3v1h-3z"/>
<rect x="699" y="894" width="3" height="1" fill="#66cccc"/>
<rect x="707" y="894" width="3" height="1" fill="#66cccc"/>
<path fill="#66cccc" d="M702 890h3v1h-3zM702 891h3v1h-3zM700 892h7v1h-7zM700 893h7v1h-7zM700 894h7v1h-7zM702 895h3v1h-3zM702 896h3v1h-3z"/>
<rect x="709" y="894" width="3" height="1" fill="#66cccc"/>
<rect x="717" y="894" width="3" height="1" fill="#66cccc"/>
<path fill="#66cccc" d="M712 890h3v1h-3zM712 891h3v1h-3zM710 892h7v1h-7zM710 893h7v1h-7zM710 894h7v1h-7zM712 895h3v1h-3zM712 896h3v1h-3z"/>
<rect x="720" y="894" width="3" height="1" fill="#66cccc"/>
<rect x="728" y="894" width="3" height="1" fill="#66cccc"/>
<path fill="#66cccc" d="M723 890h3v1h-3zM723 891h3v1h-3zM721 892h7v1h-7zM721 893h7v1h-7zM721 894h7v1h-7zM723 895h3v1h-3zM723 896h3v1h-3z"/>
<rect x="730" y="894" width="3" height="1" fill="#66cccc"/>
<rect x="738" y="894" width="3" height="1" fill="#66cccc"/>
<path fill="#66cccc" d="M733 890h3v1h-3zM733 891h3v1h-3zM731 892h7v1h-7zM731 893h7v1h-7zM731 894h7v1h-7zM733 895h3v1h-3zM733 896h3v1h-3z"/>
<rect x="740" y="894" width="3" height="1" fill="#66cccc"/>
<rect x="748" y="894" width="3" height="1" fill="#66cccc"/>
<path fill="#66cccc" d="M743 890h3v1h-3zM743 891h3v1h-3zM741 892h7v1h-7zM741 893h7v1h-7zM741 894h7v1h-7zM743 895h3v1h-3zM743 896h3v1h-3z"/>
<rect x="750" y="894" width="3" height="1" fill="#66cccc"/>
<rect x="758" y="894" width="3" height="1" fill="#66cccc"/>
<path fill="#66cccc" d="M753 890h3v1h-3zM753 891h3v1h-3zM751 892h7v1h-7zM751 893h7v1h-7zM751 894h7v1h-7zM753 895h3v1h-3zM753 896h3v1h-3z"/>
<rect x="760" y="894" width="3" height="1" fill="#66cccc"/>
<rect x="768" y="894" width="3" height="1" fill="#66cccc"/>
<path fill="#66cccc" d="M763 890h3v1h-3zM763 891h3v1h-3zM761 892h7v1h-7zM761 893h7v1h-7zM761 894h7v1h-7zM763 895h3v1h-3zM763 896h3v1h-3z"/>
<rect x="771" y="894" width="3" height="1" fill="#66cccc"/>
<rect x="779" y="894" width="3" height="1" fill="#66cccc"/>
<path fill="#66cccc" d="M774 890h3v1h-3zM774 891h3v1h-3zM772 892h7v1h-7zM772 893h7v1h-7zM772 894h7v1h-7zM774 895h3v1h-3zM774 896h3v1h-3z"/>
<rect x="781" y="894" width="3" height="1" fill="#66cccc"/>
<rect x="789" y="894" width="3" height="1" fill="#66cccc"/>
<path fill="#66cccc" d="M784 890h3v1h-3zM784 891h3v1h-3zM782 892h7v1h-7zM782 893h7v1h-7zM782 894h7v1h-7zM784 895h3v1h-3zM784 896h3v1h-3z"/>
<rect x="791" y="894" width="3" height="1" fill="#66cccc"/>
<rect x="799" y="894" width="3" height="1" fill="#66cccc"/>
<path fill="#66cccc" d="M794 890h3v1h-3zM794 891h3v1h-3zM792 892h7v1h-7zM792 893h7v1h-7zM792 894h7v1h-7zM794 895h3v1h-3zM794 896h3v1h-3z"/>
<rect x="801" y="895" width="3" height="1" fill="#66cccc"/>
<rect x="809" y="895" width="3" height="1" fill="#66cccc"/>
<path fill="#66cccc" d="M804 891h3v1h-3zM804 892h3v1h-3zM802 893h7v1h-7zM802 894h7v1h-7zM802 895h7v1h-7zM804 896h3v1h-3zM804 897h3v1h-3z"/>
<rect x="811" y="895" width="3" height="1" fill="#66cccc"/>
<rect x="819" y="895" width="3" height="1" fill="#66cccc"/>
<path fill="#66cccc" d="M814 891h3v1h-3zM814 892h3v1h-3zM812 893h7v1h-7zM812 894h7v1h-7zM812 895h7v1h-7zM814 896h3v1h-3zM814 897h3v1h-3z"/>
<rect x="822" y="895" width="3" height="1" fill="#66cccc"/>
<rect x="830" y="895" width="3" height="1" fill="#66cccc"/>
<path fill="#66cccc" d="M825 891h3v1h-3zM825 892h3v1h-3zM823 893h7v1h-7zM823 894h7v1h-7zM823 895h7v1h-7zM825 896h3v1h-3zM825 897h3v1h-3z"/>
<rect x="832" y="895" width="3" height="1" fill="#66cccc"/>
<rect x="840" y="895" width="3" height="1" fill="#66cccc"/>
<path fill="#66cccc" d="M835 891h3v1h-3zM835 892h3v1h-3zM833 893h7v1h-7zM833 894h7v1h-7zM833 895h7v1h-7zM835 896h3v1h-3zM835 897h3v1h-3z"/>
<rect x="842" y="895" width="3" height="1" fill="#66cccc"/>
<rect x="850" y="895" width="3" height="1" fill="#66cccc"/>
<path fill="#66cccc" d="M845 891h3v1h-3zM845 892h3v1h-3zM843 893h7v1h-7zM843 894h7v1h-7zM843 895h7v1h-7zM845 896h3v1h-3zM845 897h3v1h-3z"/>
<rect x="852" y="895" width="3" height="1" fill="#66cccc"/>
<rect x="860" y="895" width="3" height="1" fill="#66cccc"/>
<path fill="#66cccc" d="M855 891h3v1h-3zM855 892h3v1h-3zM853 893h7v1h-7zM853 894h7v1h-7zM853 895h7v1h-7zM855 896h3v1h-3zM855 897h3v1h-3z"/>
<rect x="863" y="895" width="3" height="1" fill="#66cccc"/>
<rect x="871" y="895" width="3" height="1" fill="#66cccc"/>
<path fill="#66cccc" d="M866 891h3v1h-3zM866 892h3v1h-3zM864 893h7v1h-7zM864 894h7v1h-7zM864 895h7v1h-7zM866 896h3v1h-3zM866 897h3v1h-3z"/>
<rect x="873" y="895" width="3" height="1" fill="#66cccc"/>
<rect x="881" y="895" width="3" height="1" fill="#66cccc"/>
<path fill="#66cccc" d="M876 891h3v1h-3zM876 892h3v1h-3zM874 893h7v1h-7zM874 894h7v1h-7zM874 895h7v1h-7zM876 896h3v1h-3zM876 897h3v1h-3z"/>
<rect x="883" y="895" width="3" height="1" fill="#66cccc"/>
<rect x="891" y="895" width="3" height="1" fill="#66cccc"/>
<path fill="#66cccc" d="M886 891h3v1h-3zM886 892h3v1h-3zM884 893h7v1h-7zM884 894h7v1h-7zM884 895h7v1h-7zM886 896h3v1h-3zM886 897h3v1h-3z"/>
<rect x="893" y="896" width="3" height="1" fill="#66cccc"/>
<rect x="901" y="896" width="3" height="1" fill="#66cccc"/>
<path fill="#66cccc" d="M896 892h3v1h-3zM896 893h3v1h-3zM894 894h7v1h-7zM894 895h7v1h-7zM894 896h7v1h-7zM896 897h3v1h-3zM896 898h3v1h-3z"/>
<rect x="903" y="896" width="3" height="1" fill="#66cccc"/>
<rect x="911" y="896" width="3" height="1" fill="#66cccc"/>
<path fill="#66cccc" d="M906 892h3v1h-3zM906 893h3v1h-3zM904 894h7v1h-7zM904 895h7v1h-7zM904 896h7v1h-7zM906 897h3v1h-3zM906 898h3v1h-3z"/>
<rect x="914" y="896" width="3" height="1" fill="#66cccc"/>
<rect x="922" y="896" width="3" height="1" fill="#66cccc"/>
<path fill="#66cccc" d="M917 892h3v1h-3zM917 893h3v1h-3zM915 894h7v1h-7zM915 895h7v1h-7zM915 896h7v1h-7zM917 897h3v1h-3zM917 898h3v1h-3z"/>
<rect x="924" y="896" width="3" height="1" fill="#66cccc"/>
<rect x="932" y="896" width="3" height="1" fill="#66cccc"/>
<path fill="#66cccc" d="M927 892h3v1h-3zM927 893h3v1h-3zM925 894h7v1h-7zM925 895h7v1h-7zM925 896h7v1h-7zM927 897h3v1h-3zM927 898h3v1h-3z"/>
<rect x="934" y="896" width="3" height="1" fill="#66cccc"/>
<rect x="942" y="896" width="3" height="1" fill="#66cccc"/>
<path fill="#66cccc" d="M937 892h3v1h-3zM937 893h3v1h-3zM935 894h7v1h-7zM935 895h7v1h-7zM935 896h7v1h-7zM937 897h3v1h-3zM937 898h3v1h-3z"/>
<rect x="944" y="896" width="3" height="1" fill="#66cccc"/>
<rect x="952" y="896" width="3" height="1" fill="#66cccc"/>
<path fill="#66cccc" d="M947 892h3v1h-3zM947 893h3v1h-3zM945 894h7v1h-7zM945 895h7v1h-7zM945 896h7v1h-7zM947 897h3v1h-3zM947 898h3v1h-3z"/>
<rect x="954" y="896" width="3" height="1" fill="#66cccc"/>
<rect x="962" y="896" width="3" height="1" fill="#66cccc"/>
<path fill="#66cccc" d="M957 892h3v1h-3zM957 893h3v1h-3zM955 894h7v1h-7zM955 895h7v1h-7zM955 896h7v1h-7zM957 897h3v1h-3zM957 898h3v1h-3z"/>
<rect x="965" y="896" width="3" height="1" fill="#66cccc"/>
<rect x="973" y="896" width="3" height="1" fill="#66cccc"/>
<path fill="#66cccc" d="M968 892h3v1h-3zM968 893h3v1h-3zM966 894h7v1h-7zM966 895h7v1h-7zM966 896h7v1h-7zM968 897h3v1h-3zM968 898h3v1h-3z"/>
<rect x="975" y="896" width="3" height="1" fill="#66cccc"/>
<rect x="983" y="896" width="3" height="1" fill="#66cccc"/>
<path fill="#66cccc" d="M978 892h3v1h-3zM978 893h3v1h-3zM976 894h7v1h-7zM976 895h7v1h-7zM976 896h7v1h-7zM978 897h3v1h-3zM978 898h3v1h-3z"/>
<rect x="985" y="896" width="3" height="1" fill="#66cccc"/>
<rect x="993" y="896" width="3" height="1" fill="#66cccc"/>
<path fill="#66cccc" d="M988 892h3v1h-3zM988 893h3v1h-3zM986 894h7v1h-7zM986 895h7v1h-7zM986 896h7v1h-7zM988 897h3v1h-3zM988 898h3v1h-3z"/>
<rect x="995" y="896" width="3" height="1" fill="#66cccc"/>
<rect x="1003" y="896" width="3" height="1" fill="#66cccc"/>
<path fill="#66cccc" d="M998 892h3v1h-3zM998 893h3v1h-3zM996 894h7v1h-7zM996 895h7v1h-7zM996 896h7v1h-7zM998 897h3v1h-3zM998 898h3v1h-3z"/>
<rect x="1005" y="896" width="3" height="1" fill="#66cccc"/>
<rect x="1013" y="896" width="3" height="1" fill="#66cccc"/>
<path fill="#66cccc" d="M1008 892h3v1h-3zM1008 893h3v1h-3zM1006 894h7v1h-7zM1006 895h7v1h-7zM1006 896h7v1h-7zM1008 897h3v1h-3zM1008 898h3v1h-3z"/>
<rect x="1016" y="896" width="3" height="1" fill="#66cccc"/>
<rect x="1024" y="896" width="3" height="1" fill="#66cccc"/>
<path fill="#66cccc" d="M1019 892h3v1h-3zM1019 893h3v1h-3zM1017 894h7v1h-7zM1017 895h7v1h-7zM1017 896h7v1h-7zM1019 897h3v1h-3zM1019 898h3v1h-3z"/>
<rect x="1026" y="896" width="3" height="1" fill="#66cccc"/>
<rect x="1034" y="896" width="3" height="1" fill="#66cccc"/>
<path fill="#66cccc" d="M1029 892h3v1h-3zM1029 893h3v1h-3zM1027 894h7v1h-7zM1027 895h7v1h-7zM1027 896h7v1h-7zM1029 897h3v1h-3zM1029 898h3v1h-3z"/>
<rect x="1036" y="896" width="3" height="1" fill="#66cccc"/>
<rect x="1044" y="896" width="3" height="1" fill="#66cccc"/>
<path fill="#66cccc" d="M1039 892h3v1h-3zM1039 893h3v1h-3zM1037 894h7v1h-7zM1037 895h7v1h-7zM1037 896h7v1h-7zM1039 897h3v1h-3zM1039 898h3v1h-3z"/>
<rect x="1046" y="896" width="3" height="1" fill="#66cccc"/>
<rect x="1054" y="896" width="3" height="1" fill="#66cccc"/>
<path fill="#66cccc" d="M1049 892h3v1h-3zM1049 893h3v1h-3zM1047 894h7v1h-7zM1047 895h7v1h-7zM1047 896h7v1h-7zM1049 897h3v1h-3zM1049 898h3v1h-3z"/>
<rect x="1057" y="896" width="3" height="1" fill="#66cccc"/>
<rect x="1065" y="896" width="3" height="1" fill="#66cccc"/>
<path fill="#66cccc" d="M1060 892h3v1h-3zM1060 893h3v1h-3zM1058 894h7v1h-7zM1058 895h7v1h-7zM1058 896h7v1h-7zM1060 897h3v1h-3zM1060 898h3v1h-3z"/>
<rect x="1067" y="896" width="3" height="1" fill="#66cccc"/>
<rect x="1075" y="896" width="3" height="1" fill="#66cccc"/>
<path fill="#66cccc" d="M1070 892h3v1h-3zM1070 893h3v1h-3zM1068 894h7v1h-7zM1068 895h7v1h-7zM1068 896h7v1h-7zM1070 897h3v1h-3zM1070 898h3v1h-3z"/>
<rect x="1077" y="896" width="3" height="1" fill="#66cccc"/>
<rect x="1085" y="896" width="3" height="1" fill="#66cccc"/>
<path fill="#66cccc" d="M1080 892h3v1h-3zM1080 893h3v1h-3zM1078 894h7v1h-7zM1078 895h7v1h-7zM1078 896h7v1h-7zM1080 897h3v1h-3zM1080 898h3v1h-3z"/>
<rect x="1087" y="896" width="3" height="1" fill="#66cccc"/>
<rect x="1095" y="896" width="3" height="1" fill="#66cccc"/>
<path fill="#66cccc" d="M1090 892h3v1h-3zM1090 893h3v1h-3zM1088 894h7v1h-7zM1088 895h7v1h-7zM1088 896h7v1h-7zM1090 897h3v1h-3zM1090 898h3v1h-3z"/>
<rect x="1097" y="896" width="3" height="1" fill="#66cccc"/>
<rect x="1105" y="896" width="3" height="1" fill="#66cccc"/>
<path fill="#66cccc" d="M1100 892h3v1h-3zM1100 893h3v1h-3zM1098 894h7v1h-7zM1098 895h7v1h-7zM1098 896h7v1h-7zM1100 897h3v1h-3zM1100 898h3v1h-3z"/>
<rect x="1108" y="896" width="3" height="1" fill="#66cccc"/>
<rect x="1116" y="896" width="3" height="1" fill="#66cccc"/>
<path fill="#66cccc" d="M1111 892h3v1h-3zM1111 893h3v1h-3zM1109 894h7v1h-7zM1109 895h7v1h-7zM1109 896h7v1h-7zM1111 897h3v1h-3zM1111 898h3v1h-3z"/>
<rect x="1118" y="896" width="3" height="1" fill="#66cccc"/>
<rect x="1126" y="896" width="3" height="1" fill="#66cccc"/>
<path fill="#66cccc" d="M1121 892h3v1h-3zM1121 893h3v1h-3zM1119 894h7v1h-7zM1119 895h7v1h-7zM1119 896h7v1h-7zM1121 897h3v1h-3zM1121 898h3v1h-3z"/>
<rect x="1128" y="896" width="3" height="1" fill="#66cccc"/>
<rect x="1136" y="896" width="3" height="1" fill="#66cccc"/>
<path fill="#66cccc" d="M1131 892h3v1h-3zM1131 893h3v1h-3zM1129 894h7v1h-7zM1129 895h7v1h-7zM1129 896h7v1h-7zM1131 897h3v1h-3zM1131 898h3v1h-3z"/>
<rect x="1138" y="896" width="3" height="1" fill="#66cccc"/>
<rect x="1146" y="896" width="3" height="1" fill="#66cccc"/>
<path fill="#66cccc" d="M1141 892h3v1h-3zM1141 893h3v1h-3zM1139 894h7v1h-7zM1139 895h7v1h-7zM1139 896h7v1h-7zM1141 897h3v1h-3zM1141 898h3v1h-3z"/>
<rect x="599" y="105" width="87" height="148" fill="#000"/>
<rect x="593" y="99" width="90" height="151" fill="#000"/>
<rect x="594" y="100" width="88" height="149" fill="#f0f0f0"/>
<text transform="translate(604.6 117.0) scale(1 1.07)" font-size="18.9" text-anchor="start" font-family="Liberation Sans, sans-serif" font-weight="bold" fill="#000" shape-rendering="auto">Electron</text>
<text transform="translate(604.6 142.0) scale(1 1.07)" font-size="18.9" text-anchor="start" font-family="Liberation Sans, sans-serif" font-weight="bold" fill="#000" shape-rendering="auto">Muon</text>
<text transform="translate(604.6 167.0) scale(1 1.07)" font-size="18.9" text-anchor="start" font-family="Liberation Sans, sans-serif" font-weight="bold" fill="#000" shape-rendering="auto">Pion</text>
<text transform="translate(604.6 192.0) scale(1 1.07)" font-size="18.9" text-anchor="start" font-family="Liberation Sans, sans-serif" font-weight="bold" fill="#000" shape-rendering="auto">Kaon</text>
<text transform="translate(604.6 217.0) scale(1 1.07)" font-size="18.9" text-anchor="start" font-family="Liberation Sans, sans-serif" font-weight="bold" fill="#000" shape-rendering="auto">Proton</text>
<text transform="translate(604.6 242.0) scale(1 1.07)" font-size="18.9" text-anchor="start" font-family="Liberation Sans, sans-serif" font-weight="bold" fill="#000" shape-rendering="auto">Ghost</text>
<path fill="#ff0000" d="M598 109h1v1h-1zM597 110h2v1h-2zM597 111h3v1h-3zM596 112h4v1h-4zM596 113h5v1h-5zM595 114h6v1h-6z"/>
<circle cx="598.5" cy="136.5" r="3.6" fill="#0000ff" shape-rendering="auto"/>
<path fill="#009900" d="M594 158h7v1h-7zM595 159h6v1h-6zM596 160h5v1h-5zM596 161h4v1h-4zM596 162h4v1h-4zM597 163h2v1h-2zM598 164h1v1h-1z"/>
<path fill="#990099" d="M594 182h6v1h-6zM594 183h6v1h-6zM594 184h6v1h-6zM594 185h6v1h-6zM594 186h6v1h-6zM594 187h6v1h-6z"/>
<path fill="#66cccc" d="M596 207h3v1h-3zM596 208h3v1h-3zM594 209h7v1h-7zM594 210h7v1h-7zM594 211h7v1h-7zM596 212h3v1h-3zM596 213h3v1h-3z"/>
<path fill="#000" d="M598 233h1v1h-1zM597 234h2v1h-2zM596 235h4v1h-4zM596 236h4v1h-4zM596 237h4v1h-4zM597 238h2v1h-2z"/>
<text transform="translate(54 42) scale(1 1.05)" font-size="9.2" text-anchor="start" font-family="Liberation Sans, sans-serif" font-weight="bold" fill="#000" shape-rendering="auto" textLength="1168" lengthAdjust="spacingAndGlyphs">TrackP Electron Downstream | All NaturalMix AllPhysTracksInEvent:AllPhysTracksInEvent ReweightRICH2 EvalWithPreSel | Train:HeavyNoGhosts-Eval:KaonsGhosts | TMVA-NoPreSels-CombDLL-NoGECs | MLP Norm BP NCycles750 CE tanh SF1.2 CVTest15:1e-16 !UseReg</text>
<text transform="translate(121.5 906.6) scale(1 1.05)" font-size="28" text-anchor="end" font-family="Liberation Sans, sans-serif" font-weight="bold" fill="#000" shape-rendering="auto">0</text>
<text transform="translate(121.5 782.6) scale(1 1.05)" font-size="28" text-anchor="end" font-family="Liberation Sans, sans-serif" font-weight="bold" fill="#000" shape-rendering="auto">0.05</text>
<text transform="translate(121.5 658.6) scale(1 1.05)" font-size="28" text-anchor="end" font-family="Liberation Sans, sans-serif" font-weight="bold" fill="#000" shape-rendering="auto">0.1</text>
<text transform="translate(121.5 534.6) scale(1 1.05)" font-size="28" text-anchor="end" font-family="Liberation Sans, sans-serif" font-weight="bold" fill="#000" shape-rendering="auto">0.15</text>
<text transform="translate(121.5 410.6) scale(1 1.05)" font-size="28" text-anchor="end" font-family="Liberation Sans, sans-serif" font-weight="bold" fill="#000" shape-rendering="auto">0.2</text>
<text transform="translate(121.5 286.6) scale(1 1.05)" font-size="28" text-anchor="end" font-family="Liberation Sans, sans-serif" font-weight="bold" fill="#000" shape-rendering="auto">0.25</text>
<text transform="translate(121.5 163.6) scale(1 1.05)" font-size="28" text-anchor="end" font-family="Liberation Sans, sans-serif" font-weight="bold" fill="#000" shape-rendering="auto">0.3</text>
<text transform="translate(320.5 935) scale(1 1.05)" font-size="28" text-anchor="middle" font-family="Liberation Sans, sans-serif" font-weight="bold" fill="#000" shape-rendering="auto">20</text>
<text transform="translate(524.7 935) scale(1 1.05)" font-size="28" text-anchor="middle" font-family="Liberation Sans, sans-serif" font-weight="bold" fill="#000" shape-rendering="auto">40</text>
<text transform="translate(728.9 935) scale(1 1.05)" font-size="28" text-anchor="middle" font-family="Liberation Sans, sans-serif" font-weight="bold" fill="#000" shape-rendering="auto">60</text>
<text transform="translate(934.1 935) scale(1 1.05)" font-size="28" text-anchor="middle" font-family="Liberation Sans, sans-serif" font-weight="bold" fill="#000" shape-rendering="auto">80</text>
<text transform="translate(1138.3 935) scale(1 1.05)" font-size="28" text-anchor="middle" font-family="Liberation Sans, sans-serif" font-weight="bold" fill="#000" shape-rendering="auto">100</text>
<text transform="translate(1148.5 973.5) scale(1 1.05)" font-size="28" text-anchor="end" font-family="Liberation Sans, sans-serif" font-weight="bold" fill="#000" shape-rendering="auto" textLength="506.5" lengthAdjust="spacingAndGlyphs">Downstream Kaon Momentum / MeV/c</text>
<path stroke="#000" stroke-width="1.3" fill="none" shape-rendering="auto" d="M1152.8 881.3L1166.3 895.3M1166.3 881.3L1152.8 895.3"/>
<text transform="translate(1166.5 895.8) scale(1 1.05)" font-size="28" text-anchor="start" font-family="Liberation Sans, sans-serif" font-weight="bold" fill="#000" shape-rendering="auto">10</text>
<text transform="translate(1196.8 882.8) scale(1 1.05)" font-size="20.5" text-anchor="start" font-family="Liberation Sans, sans-serif" font-weight="bold" fill="#000" shape-rendering="auto">3</text>
</svg>
</body></html>
